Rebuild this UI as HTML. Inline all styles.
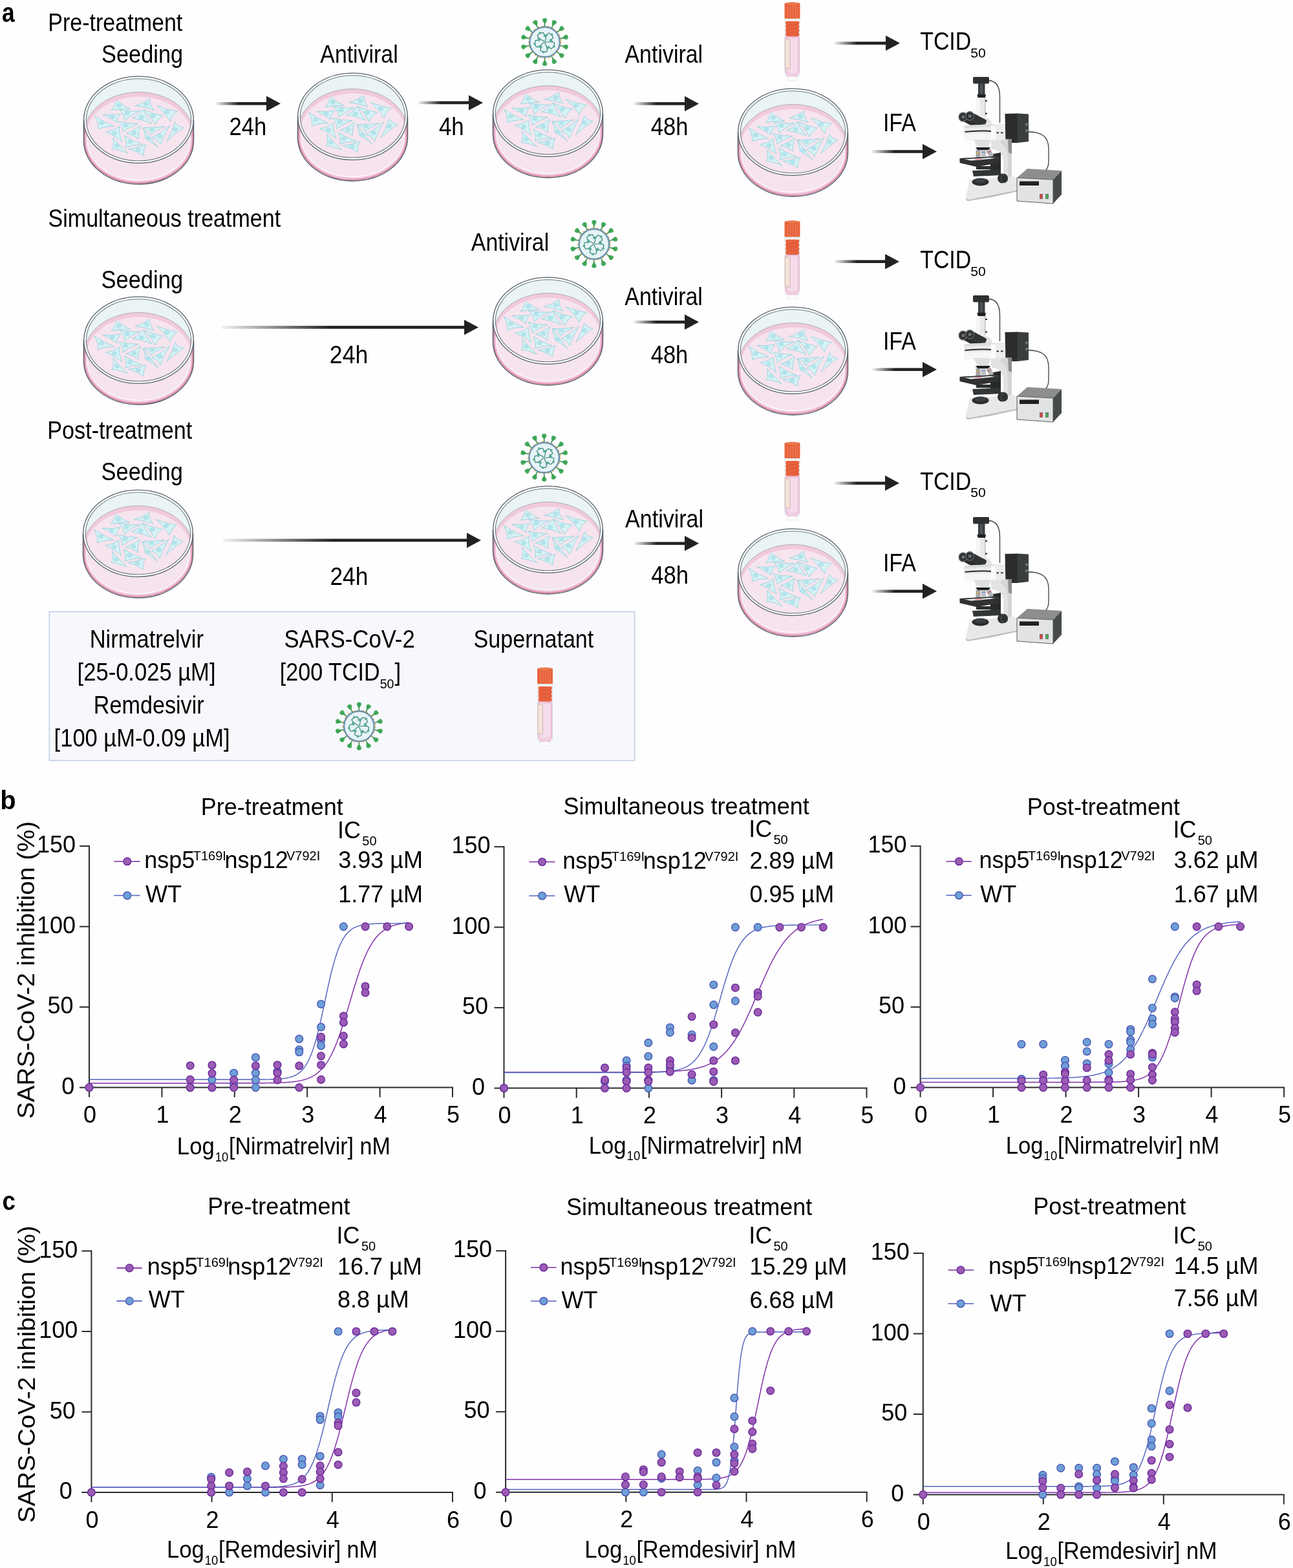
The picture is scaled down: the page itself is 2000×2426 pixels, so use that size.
<!DOCTYPE html><html><head><meta charset="utf-8"><title>Figure</title><style>html,body{margin:0;padding:0;background:#fefefe;}svg{display:block;}</style></head><body>
<svg width="2000" height="2426" viewBox="0 0 2000 2426" font-family="'Liberation Sans', Arial, Helvetica, sans-serif">
<defs>
<linearGradient id="arrg" x1="0" y1="0" x2="1" y2="0"><stop offset="0" stop-color="#222" stop-opacity="0"/><stop offset="0.3" stop-color="#222" stop-opacity="1"/><stop offset="1" stop-color="#222"/></linearGradient>
<g id="cells">
<path d="M50.6,36.8 Q59.1,45.4 72.5,51.6 Q56.8,50.5 43.0,53.7 Q50.2,46.1 50.6,36.8Z" fill="#d6f2f5" stroke="#8dd0db" stroke-width="0.8"/>
<ellipse cx="54.8" cy="46.1" rx="4.1" ry="3.5" fill="#b3e3eb"/>
<path d="M102.6,35.7 Q93.5,42.8 79.7,46.6 Q95.3,48.0 108.7,53.2 Q102.2,44.7 102.6,35.7Z" fill="#d6f2f5" stroke="#8dd0db" stroke-width="0.8"/>
<ellipse cx="97.7" cy="44.0" rx="4.1" ry="3.5" fill="#b3e3eb"/>
<path d="M113.6,46.6 Q130.1,53.6 145.3,55.4 Q136.3,60.9 134.4,70.7 Q126.8,58.2 113.6,46.6Z" fill="#d6f2f5" stroke="#8dd0db" stroke-width="0.8"/>
<ellipse cx="129.0" cy="56.3" rx="4.1" ry="3.5" fill="#b3e3eb"/>
<path d="M29.9,60.3 Q44.9,61.5 57.8,59.2 Q51.4,65.3 51.7,72.9 Q43.1,65.6 29.9,60.3Z" fill="#d6f2f5" stroke="#8dd0db" stroke-width="0.8"/>
<ellipse cx="44.5" cy="63.7" rx="4.1" ry="3.5" fill="#b3e3eb"/>
<path d="M55.6,52.6 Q70.7,55.9 87.9,54.8 Q73.4,60.9 64.3,69.6 Q63.7,60.3 55.6,52.6Z" fill="#d6f2f5" stroke="#8dd0db" stroke-width="0.8"/>
<ellipse cx="67.6" cy="58.3" rx="4.1" ry="3.5" fill="#b3e3eb"/>
<path d="M75.8,65.8 Q87.2,60.9 92.8,52.1 Q96.2,63.4 105.9,74.0 Q91.1,67.5 75.8,65.8Z" fill="#d6f2f5" stroke="#8dd0db" stroke-width="0.8"/>
<ellipse cx="89.6" cy="64.2" rx="4.1" ry="3.5" fill="#b3e3eb"/>
<path d="M93.9,52.6 Q109.0,59.8 123.4,62.0 Q114.3,66.9 111.4,76.2 Q105.4,64.1 93.9,52.6Z" fill="#d6f2f5" stroke="#8dd0db" stroke-width="0.8"/>
<ellipse cx="107.7" cy="62.3" rx="4.1" ry="3.5" fill="#b3e3eb"/>
<path d="M17.3,62.0 Q31.3,71.8 47.9,78.4 Q32.9,78.1 22.7,82.7 Q23.7,73.2 17.3,62.0Z" fill="#d6f2f5" stroke="#8dd0db" stroke-width="0.8"/>
<ellipse cx="27.9" cy="72.9" rx="4.1" ry="3.5" fill="#b3e3eb"/>
<path d="M54.5,70.7 Q68.6,74.6 85.1,74.5 Q70.6,79.5 61.0,87.1 Q61.4,78.3 54.5,70.7Z" fill="#d6f2f5" stroke="#8dd0db" stroke-width="0.8"/>
<ellipse cx="65.4" cy="76.6" rx="4.1" ry="3.5" fill="#b3e3eb"/>
<path d="M34.8,87.1 Q47.1,85.4 55.6,78.4 Q54.7,90.0 60.0,102.4 Q48.5,92.6 34.8,87.1Z" fill="#d6f2f5" stroke="#8dd0db" stroke-width="0.8"/>
<ellipse cx="48.3" cy="89.0" rx="4.1" ry="3.5" fill="#b3e3eb"/>
<path d="M66.5,89.3 Q78.5,85.3 88.4,77.3 Q84.1,87.9 85.1,98.1 Q77.5,91.5 66.5,89.3Z" fill="#d6f2f5" stroke="#8dd0db" stroke-width="0.8"/>
<ellipse cx="78.4" cy="88.3" rx="4.1" ry="3.5" fill="#b3e3eb"/>
<path d="M92.8,80.6 Q109.1,81.1 126.7,78.4 Q112.7,84.4 104.8,91.5 Q102.5,85.0 92.8,80.6Z" fill="#d6f2f5" stroke="#8dd0db" stroke-width="0.8"/>
<ellipse cx="106.3" cy="83.1" rx="4.1" ry="3.5" fill="#b3e3eb"/>
<path d="M96.1,98.1 Q96.8,92.2 91.7,80.6 Q102.7,96.2 115.8,111.2 Q104.0,101.4 96.1,98.1Z" fill="#d6f2f5" stroke="#8dd0db" stroke-width="0.8"/>
<ellipse cx="100.6" cy="96.8" rx="4.1" ry="3.5" fill="#b3e3eb"/>
<path d="M105.9,95.9 Q119.5,89.3 133.3,77.3 Q123.5,92.6 119.1,106.8 Q115.3,98.1 105.9,95.9Z" fill="#d6f2f5" stroke="#8dd0db" stroke-width="0.8"/>
<ellipse cx="117.8" cy="93.6" rx="4.1" ry="3.5" fill="#b3e3eb"/>
<path d="M142.0,71.8 Q146.0,79.5 155.2,80.6 Q142.0,88.4 128.9,101.4 Q138.1,85.8 142.0,71.8Z" fill="#d6f2f5" stroke="#8dd0db" stroke-width="0.8"/>
<ellipse cx="142.0" cy="83.0" rx="4.1" ry="3.5" fill="#b3e3eb"/>
<path d="M45.7,95.9 Q55.5,108.6 68.7,120.0 Q55.0,113.9 44.1,113.4 Q48.1,106.7 45.7,95.9Z" fill="#d6f2f5" stroke="#8dd0db" stroke-width="0.8"/>
<ellipse cx="52.0" cy="108.1" rx="4.1" ry="3.5" fill="#b3e3eb"/>
<path d="M63.2,92.6 Q75.9,101.2 91.7,106.8 Q76.5,106.8 65.4,111.2 Q68.0,102.6 63.2,92.6Z" fill="#d6f2f5" stroke="#8dd0db" stroke-width="0.8"/>
<ellipse cx="72.2" cy="102.2" rx="4.1" ry="3.5" fill="#b3e3eb"/>
<path d="M69.8,113.4 Q84.8,111.9 97.2,106.8 Q91.9,115.0 93.3,123.8 Q83.6,117.0 69.8,113.4Z" fill="#d6f2f5" stroke="#8dd0db" stroke-width="0.8"/>
<ellipse cx="84.7" cy="114.5" rx="4.1" ry="3.5" fill="#b3e3eb"/>
</g>
<clipPath id="medclip"><ellipse cx="85.5" cy="84" rx="80" ry="50"/></clipPath>
<symbol id="dish" viewBox="0 0 171 170" overflow="visible">
<path d="M 0.5,68.3 A 85,67.3 0 0 1 170.5,68.3 L 170.5,100.7 A 85,67.3 0 0 1 0.5,100.7 Z" fill="#eaf4f4"/>
<path d="M 1.5,89.5 A 84,64 0 0 1 169.5,89.5 L 169.5,100.7 A 84,66.3 0 0 1 1.5,100.7 Z" fill="#f0c9dd"/>
<ellipse cx="85.5" cy="94.0" rx="81.8" ry="61.5" fill="#f6e4ee"/>
<path d="M 1.5,89.5 A 84,64 0 0 1 169.5,89.5" fill="none" stroke="#7d868c" stroke-width="0.7" opacity="0.8"/>
<path d="M 1.7,68.3 A 83.8,66.1 0 0 0 169.3,68.3 L 169.3,100.7 A 83.8,66.1 0 0 1 1.7,100.7 Z" fill="#f5e3ee"/>
<g clip-path="url(#medclip)">
<use href="#cells"/>
</g>
<path d="M 6.0,88 L 6.0,99.60000000000001 A 79.5,61.8 0 0 0 165.0,99.60000000000001 L 165.0,88" fill="none" stroke="#ffffff" stroke-width="1.2" opacity="0.85"/>
<path d="M 3.700000000000003,84 L 3.700000000000003,100.06 A 81.8,64.1 0 0 0 167.3,100.06 L 167.3,84" fill="none" stroke="#efc5da" stroke-width="3"/>
<path d="M 2.0999999999999943,80 L 2.0999999999999943,100.38000000000001 A 83.4,65.7 0 0 0 168.9,100.38000000000001 L 168.9,80" fill="none" stroke="#d9668f" stroke-width="1.2"/>
<ellipse cx="85.5" cy="68.3" rx="83" ry="65.3" fill="none" stroke="#ffffff" stroke-width="3.2"/>
<ellipse cx="85.5" cy="68.3" rx="84.8" ry="67.1" fill="none" stroke="#56626b" stroke-width="1.3"/>
<ellipse cx="85.5" cy="68.3" rx="81.2" ry="63.5" fill="none" stroke="#6c777f" stroke-width="1.1"/>
<path d="M 0.5,68.3 L 0.5,100.7 A 85,67.3 0 0 0 170.5,100.7 L 170.5,68.3" fill="none" stroke="#4f5a62" stroke-width="1.4"/>
</symbol>
<symbol id="virus" viewBox="-40 -40 80 80" overflow="visible">
<line x1="0.00" y1="-23.50" x2="0.00" y2="-30.00" stroke="#2e8a45" stroke-width="1.5"/>
<path d="M0.00,-28.50 L2.20,-31.00 L3.60,-34.50 L2.20,-36.30 L0.00,-36.80 L-2.20,-36.30 L-3.60,-34.50 L-2.20,-31.00Z" fill="#43b05c" stroke="#2c8a44" stroke-width="0.5" stroke-linejoin="round"/>
<line x1="0.00" y1="-29.50" x2="0.00" y2="-35.50" stroke="#2a7f3e" stroke-width="0.7"/>
<line x1="10.20" y1="-21.17" x2="13.02" y2="-27.03" stroke="#2e8a45" stroke-width="1.5"/>
<path d="M12.37,-25.68 L15.43,-26.98 L18.21,-29.52 L17.73,-31.75 L15.97,-33.16 L13.77,-33.66 L11.73,-32.65 L11.47,-28.88Z" fill="#43b05c" stroke="#2c8a44" stroke-width="0.5" stroke-linejoin="round"/>
<line x1="12.80" y1="-26.58" x2="15.40" y2="-31.98" stroke="#2a7f3e" stroke-width="0.7"/>
<line x1="18.37" y1="-14.65" x2="23.45" y2="-18.70" stroke="#2e8a45" stroke-width="1.5"/>
<path d="M22.28,-17.77 L25.61,-17.61 L29.22,-18.70 L29.75,-20.91 L28.77,-22.94 L27.01,-24.35 L24.73,-24.32 L22.87,-21.05Z" fill="#43b05c" stroke="#2c8a44" stroke-width="0.5" stroke-linejoin="round"/>
<line x1="23.06" y1="-18.39" x2="27.76" y2="-22.13" stroke="#2a7f3e" stroke-width="0.7"/>
<line x1="22.91" y1="-5.23" x2="29.25" y2="-6.68" stroke="#2e8a45" stroke-width="1.5"/>
<path d="M27.79,-6.34 L30.71,-4.75 L34.44,-4.17 L35.88,-5.93 L35.88,-8.19 L34.90,-10.22 L32.83,-11.19 L29.73,-9.04Z" fill="#43b05c" stroke="#2c8a44" stroke-width="0.5" stroke-linejoin="round"/>
<line x1="28.76" y1="-6.56" x2="34.61" y2="-7.90" stroke="#2a7f3e" stroke-width="0.7"/>
<line x1="22.91" y1="5.23" x2="29.25" y2="6.68" stroke="#2e8a45" stroke-width="1.5"/>
<path d="M27.79,6.34 L29.73,9.04 L32.83,11.19 L34.90,10.22 L35.88,8.19 L35.88,5.93 L34.44,4.17 L30.71,4.75Z" fill="#43b05c" stroke="#2c8a44" stroke-width="0.5" stroke-linejoin="round"/>
<line x1="28.76" y1="6.56" x2="34.61" y2="7.90" stroke="#2a7f3e" stroke-width="0.7"/>
<line x1="18.37" y1="14.65" x2="23.45" y2="18.70" stroke="#2e8a45" stroke-width="1.5"/>
<path d="M22.28,17.77 L22.87,21.05 L24.73,24.32 L27.01,24.35 L28.77,22.94 L29.75,20.91 L29.22,18.70 L25.61,17.61Z" fill="#43b05c" stroke="#2c8a44" stroke-width="0.5" stroke-linejoin="round"/>
<line x1="23.06" y1="18.39" x2="27.76" y2="22.13" stroke="#2a7f3e" stroke-width="0.7"/>
<line x1="10.20" y1="21.17" x2="13.02" y2="27.03" stroke="#2e8a45" stroke-width="1.5"/>
<path d="M12.37,25.68 L11.47,28.88 L11.73,32.65 L13.77,33.66 L15.97,33.16 L17.73,31.75 L18.21,29.52 L15.43,26.98Z" fill="#43b05c" stroke="#2c8a44" stroke-width="0.5" stroke-linejoin="round"/>
<line x1="12.80" y1="26.58" x2="15.40" y2="31.98" stroke="#2a7f3e" stroke-width="0.7"/>
<line x1="0.00" y1="23.50" x2="0.00" y2="30.00" stroke="#2e8a45" stroke-width="1.5"/>
<path d="M0.00,28.50 L-2.20,31.00 L-3.60,34.50 L-2.20,36.30 L0.00,36.80 L2.20,36.30 L3.60,34.50 L2.20,31.00Z" fill="#43b05c" stroke="#2c8a44" stroke-width="0.5" stroke-linejoin="round"/>
<line x1="0.00" y1="29.50" x2="0.00" y2="35.50" stroke="#2a7f3e" stroke-width="0.7"/>
<line x1="-10.20" y1="21.17" x2="-13.02" y2="27.03" stroke="#2e8a45" stroke-width="1.5"/>
<path d="M-12.37,25.68 L-15.43,26.98 L-18.21,29.52 L-17.73,31.75 L-15.97,33.16 L-13.77,33.66 L-11.73,32.65 L-11.47,28.88Z" fill="#43b05c" stroke="#2c8a44" stroke-width="0.5" stroke-linejoin="round"/>
<line x1="-12.80" y1="26.58" x2="-15.40" y2="31.98" stroke="#2a7f3e" stroke-width="0.7"/>
<line x1="-18.37" y1="14.65" x2="-23.45" y2="18.70" stroke="#2e8a45" stroke-width="1.5"/>
<path d="M-22.28,17.77 L-25.61,17.61 L-29.22,18.70 L-29.75,20.91 L-28.77,22.94 L-27.01,24.35 L-24.73,24.32 L-22.87,21.05Z" fill="#43b05c" stroke="#2c8a44" stroke-width="0.5" stroke-linejoin="round"/>
<line x1="-23.06" y1="18.39" x2="-27.76" y2="22.13" stroke="#2a7f3e" stroke-width="0.7"/>
<line x1="-22.91" y1="5.23" x2="-29.25" y2="6.68" stroke="#2e8a45" stroke-width="1.5"/>
<path d="M-27.79,6.34 L-30.71,4.75 L-34.44,4.17 L-35.88,5.93 L-35.88,8.19 L-34.90,10.22 L-32.83,11.19 L-29.73,9.04Z" fill="#43b05c" stroke="#2c8a44" stroke-width="0.5" stroke-linejoin="round"/>
<line x1="-28.76" y1="6.56" x2="-34.61" y2="7.90" stroke="#2a7f3e" stroke-width="0.7"/>
<line x1="-22.91" y1="-5.23" x2="-29.25" y2="-6.68" stroke="#2e8a45" stroke-width="1.5"/>
<path d="M-27.79,-6.34 L-29.73,-9.04 L-32.83,-11.19 L-34.90,-10.22 L-35.88,-8.19 L-35.88,-5.93 L-34.44,-4.17 L-30.71,-4.75Z" fill="#43b05c" stroke="#2c8a44" stroke-width="0.5" stroke-linejoin="round"/>
<line x1="-28.76" y1="-6.56" x2="-34.61" y2="-7.90" stroke="#2a7f3e" stroke-width="0.7"/>
<line x1="-18.37" y1="-14.65" x2="-23.45" y2="-18.70" stroke="#2e8a45" stroke-width="1.5"/>
<path d="M-22.28,-17.77 L-22.87,-21.05 L-24.73,-24.32 L-27.01,-24.35 L-28.77,-22.94 L-29.75,-20.91 L-29.22,-18.70 L-25.61,-17.61Z" fill="#43b05c" stroke="#2c8a44" stroke-width="0.5" stroke-linejoin="round"/>
<line x1="-23.06" y1="-18.39" x2="-27.76" y2="-22.13" stroke="#2a7f3e" stroke-width="0.7"/>
<line x1="-10.20" y1="-21.17" x2="-13.02" y2="-27.03" stroke="#2e8a45" stroke-width="1.5"/>
<path d="M-12.37,-25.68 L-11.47,-28.88 L-11.73,-32.65 L-13.77,-33.66 L-15.97,-33.16 L-17.73,-31.75 L-18.21,-29.52 L-15.43,-26.98Z" fill="#43b05c" stroke="#2c8a44" stroke-width="0.5" stroke-linejoin="round"/>
<line x1="-12.80" y1="-26.58" x2="-15.40" y2="-31.98" stroke="#2a7f3e" stroke-width="0.7"/>
<circle cx="0" cy="0" r="23.3" fill="#e6f3f7" stroke="#6893b2" stroke-width="2.4"/>
<circle cx="0" cy="0" r="24.8" fill="none" stroke="#d99a3c" stroke-width="1.3" stroke-dasharray="3 4.5"/>
<g fill="none" stroke="#2f7c6c" stroke-width="1.1" stroke-linejoin="round">
<path d="M-0.40,-0.69 L-4.17,-2.99 L-9.00,-5.35 L-11.36,-10.17 L-7.49,-13.90 L-2.15,-14.46 L0.03,-9.56"/>
<path d="M0.54,-0.59 L1.55,-4.89 L2.30,-10.21 L6.16,-13.94 L10.90,-11.42 L13.09,-6.51 L9.10,-2.92"/>
<path d="M0.73,0.33 L5.13,-0.04 L10.42,-0.96 L15.16,1.55 L14.23,6.84 L10.24,10.44 L5.59,7.75"/>
<path d="M-0.08,0.80 L1.62,4.87 L4.14,9.61 L3.21,14.90 L-2.11,15.65 L-6.76,12.96 L-5.64,7.71"/>
<path d="M-0.78,0.17 L-4.13,3.05 L-7.86,6.91 L-13.18,7.66 L-15.53,2.83 L-14.42,-2.42 L-9.08,-2.98"/>
</g>
<g fill="#5fc0a5" stroke="#2f7c6c" stroke-width="0.5">
<circle cx="-9.00" cy="-5.35" r="1.5"/>
<circle cx="-7.49" cy="-13.90" r="1.5"/>
<circle cx="0.03" cy="-9.56" r="1.5"/>
<circle cx="2.30" cy="-10.21" r="1.5"/>
<circle cx="10.90" cy="-11.42" r="1.5"/>
<circle cx="9.10" cy="-2.92" r="1.5"/>
<circle cx="10.42" cy="-0.96" r="1.5"/>
<circle cx="14.23" cy="6.84" r="1.5"/>
<circle cx="5.59" cy="7.75" r="1.5"/>
<circle cx="4.14" cy="9.61" r="1.5"/>
<circle cx="-2.11" cy="15.65" r="1.5"/>
<circle cx="-5.64" cy="7.71" r="1.5"/>
<circle cx="-7.86" cy="6.91" r="1.5"/>
<circle cx="-15.53" cy="2.83" r="1.5"/>
<circle cx="-9.08" cy="-2.98" r="1.5"/>
</g>
</symbol>
<symbol id="tube" viewBox="0 0 24 124" overflow="visible">
<path d="M0.5,27 L0.5,112 Q0.5,116 2,116 L22,116 Q23.5,116 23.5,112 L23.5,27" fill="#ffffff" stroke="#cfd9dc" stroke-width="0.8"/>
<path d="M1.5,55 L22.5,55 L22.5,108 Q22.5,117 12,118 Q1.5,117 1.5,108 Z" fill="#f0cfe3" stroke="#dc9cc0" stroke-width="0.8"/>
<path d="M5,58 L20,58 L20,104 Q20,111 12.5,111 Q5,111 5,104 Z" fill="#f5dcea"/>
<path d="M0.8,58 L8.5,60 L8.5,105 L0.8,103 Z" fill="#f4e3da" stroke="#b89c90" stroke-width="0.6"/>
<path d="M4,117 L4,123 L20,123 L20,117" fill="#fbfbfb" stroke="#d8dfe2" stroke-width="0.6"/>
<rect x="2.3" y="31" width="19.6" height="23.5" rx="2.5" fill="#e8623f"/>
<ellipse cx="21.3" cy="33.5" rx="1.6" ry="2.6" fill="#e8623f"/><ellipse cx="2.8" cy="33.5" rx="1.2" ry="2.6" fill="#e8623f"/>
<ellipse cx="21.3" cy="39.5" rx="1.6" ry="2.6" fill="#e8623f"/><ellipse cx="2.8" cy="39.5" rx="1.2" ry="2.6" fill="#e8623f"/>
<ellipse cx="21.3" cy="45.5" rx="1.6" ry="2.6" fill="#e8623f"/><ellipse cx="2.8" cy="45.5" rx="1.2" ry="2.6" fill="#e8623f"/>
<ellipse cx="21.3" cy="51.5" rx="1.6" ry="2.6" fill="#e8623f"/><ellipse cx="2.8" cy="51.5" rx="1.2" ry="2.6" fill="#e8623f"/>
<path d="M3.5,37.5 L21,36.0" stroke="#d4502f" stroke-width="0.7"/>
<path d="M3.5,43.5 L21,42.0" stroke="#d4502f" stroke-width="0.7"/>
<path d="M3.5,49.5 L21,48.0" stroke="#d4502f" stroke-width="0.7"/>
<rect x="0.5" y="27" width="23" height="2.5" fill="#e3eef0"/>
<rect x="0" y="3" width="24" height="24" rx="1.5" fill="#e8643f"/>
<ellipse cx="12" cy="4.3" rx="11.2" ry="2.2" fill="#f07a4a" stroke="#d8552f" stroke-width="0.6"/>
<g stroke="#f28a63" stroke-width="0.6"><line x1="5" y1="7" x2="5" y2="26"/><line x1="9" y1="7" x2="9" y2="26"/><line x1="13" y1="7" x2="13" y2="26"/><line x1="17" y1="7" x2="17" y2="26"/><line x1="20" y1="7" x2="20" y2="26"/></g>
</symbol>
<symbol id="scope" viewBox="0 0 162 198" overflow="visible">
<path d="M47,6.5 C60,7 64.5,18 64.5,32 L64.5,72" fill="none" stroke="#3a3d3f" stroke-width="1.3"/>
<path d="M108,86 C128,86 140,92 140,112 L140,132 C140,140 138,143 135,146" fill="none" stroke="#3a3d3f" stroke-width="1.3"/>
<rect x="23" y="1" width="25" height="10.5" rx="2" fill="#2e3031"/>
<rect x="31" y="11" width="10.5" height="17" fill="#3b3e40"/>
<rect x="34" y="12" width="4" height="15" fill="#505456"/>
<path d="M29.5,28 L43,28 L42,33 L30.5,33 Z" fill="#1e1f20"/>
<rect x="28.7" y="33" width="14.3" height="29" fill="#e9e9e9"/>
<rect x="29.5" y="33" width="4" height="29" fill="#f7f7f7"/>
<rect x="40.5" y="33" width="2.5" height="29" fill="#d2d2d2"/>
<rect x="42" y="37" width="3" height="2.2" rx="1" fill="#222"/><rect x="42" y="56.5" width="3" height="2.2" rx="1" fill="#222"/>
<path d="M30,70 L40,62 L50,67 L54,77 L54,84 L28,84 Z" fill="#e4e4e4"/>
<g transform="rotate(28 9 63)"><rect x="5" y="56.5" width="30" height="13" rx="3" fill="#2b2d2e"/></g>
<g transform="rotate(28 19 62)"><rect x="15" y="55.5" width="30" height="13" rx="3" fill="#323536"/></g>
<ellipse cx="7.5" cy="63" rx="6.2" ry="6.6" fill="#2b2d2e" stroke="#5a5d5f" stroke-width="1.6"/>
<ellipse cx="7.8" cy="63" rx="2.6" ry="2.8" fill="#6b6e70"/>
<ellipse cx="18" cy="61.5" rx="6.2" ry="6.6" fill="#2b2d2e" stroke="#5a5d5f" stroke-width="1.6"/>
<ellipse cx="18.3" cy="61.5" rx="2.6" ry="2.8" fill="#6b6e70"/>
<path d="M9,79 Q9,76 14,76 L52,74 L83,74 L83,98 L58,100 L12,100 Q9,100 9,97 Z" fill="#ececec"/>
<path d="M9,79 Q10,76 14,76 L52,74 L56,78 L12,80 Z" fill="#dcdcdc"/>
<path d="M9,89 L51,89 L51,99 L12,100 Q9,100 9,97 Z" fill="#f6f6f6"/>
<path d="M51,76 L58,78 L58,100 L51,99 Z" fill="#fafafa"/>
<path d="M10.5,86 Q30,83.5 51,85" fill="none" stroke="#2a2a2a" stroke-width="2"/>
<rect x="59.5" y="86.5" width="3.5" height="1.8" fill="#222"/><rect x="66" y="86.5" width="3.5" height="1.8" fill="#222"/>
<rect x="80" y="74" width="6" height="22" rx="3" fill="#3b3e3f"/>
<path d="M72.5,58 L92,57.5 L92,103 L73.5,103 Z" fill="#2a2c2d"/>
<path d="M91.5,57.5 L109,58.5 L109,101 L91.5,103 Z" fill="#3b3e3f"/>
<circle cx="106" cy="74.5" r="2.3" fill="#707375"/><circle cx="106" cy="84" r="2.3" fill="#707375"/>
<path d="M50,99 L83,97 L83,158 L70,160 L70,132 C70,120 64,114 52,113 Z" fill="#e3e3e3"/>
<path d="M66,99 L83,97 L83,158 L77,159 L77,130 C77,116 73,106 66,104 Z" fill="#d5d5d5"/>
<path d="M77,97 L83,97 L83,120 L78,118 Z" fill="#8e8e8e"/>
<path d="M50,121 L66,118 L66,146 L50,146 Z" fill="#27292a"/>
<path d="M24,98 L50,98 L47,110 L30,110 Z" fill="#e0e0e0"/>
<path d="M27,110 L50,110 L47,114 L30,114 Z" fill="#1f2021"/>
<rect x="27.5" y="114" width="7" height="12" fill="#a3a5a7"/><rect x="28" y="118" width="6" height="1.2" fill="#d9a441"/>
<rect x="35.5" y="114" width="7.5" height="13" fill="#c0c2c4"/><rect x="36" y="117" width="6.5" height="1.2" fill="#6d8ed8"/>
<g transform="rotate(-28 46 114)"><rect x="43" y="114" width="7" height="12" fill="#b0b2b4"/><rect x="43.5" y="117" width="6" height="1.2" fill="#d05b5b"/></g>
<path d="M2.5,127 L56,124 L65.5,126 L65.5,134 L28,140 L2.5,134 Z" fill="#2f3132"/>
<path d="M2.5,127 L56,124 L65.5,126 L28,131 Z" fill="#3d4042"/>
<path d="M10,128.5 L50,126 L57,127 L20,130.5 Z" fill="#f4f4f4"/>
<rect x="26" y="127.3" width="11" height="2.2" fill="#e79aa8"/>
<rect x="28" y="139" width="26" height="5" fill="#2b2d2e"/>
<path d="M22,146 L66,144 L66,153 L24,155 Z" fill="#333637"/>
<path d="M18,160 L86,155 L93,160 L93,176 L52,184 L16,191 Q11,192 12,187 Z" fill="#e8e8e8"/>
<path d="M16,191 L52,184 L93,176 L93,178 L52,187 L16,193 Q12,193 12,189 Z" fill="#bdbdbd"/>
<ellipse cx="34.5" cy="163.5" rx="13" ry="6" fill="#2b2d2e"/>
<ellipse cx="34.5" cy="161.5" rx="9" ry="3.5" fill="#3d4042"/>
<ellipse cx="68" cy="158" rx="7" ry="7.5" fill="#2d2f30"/><ellipse cx="71" cy="158" rx="6.2" ry="7.2" fill="#3c3f40"/><ellipse cx="72" cy="158" rx="4" ry="5.5" fill="#2f3233"/>
<path d="M91,157 L107,143 L160,146 L147,160 Z" fill="#8c8e8f"/>
<path d="M147,160 L160,146 L160,183 L147,197 Z" fill="#474a4b"/>
<path d="M91,157 L147,160 L147,197 L91,193 Z" fill="#e2e3e4" stroke="#4b4d4e" stroke-width="0.9"/>
<rect x="95" y="162.5" width="30" height="6.5" fill="#1f2021"/>
<rect x="126.5" y="182.5" width="4.2" height="7" fill="#d94848" stroke="#3a3a3a" stroke-width="0.5"/>
<rect x="135.5" y="182.5" width="4.2" height="7" fill="#43ad5a" stroke="#3a3a3a" stroke-width="0.5"/>
</symbol>
</defs>
<rect width="2000" height="2426" fill="#fefefe"/>
<g id="panel-a">
<text x="3.0" y="34.0" font-size="42" font-weight="bold" textLength="19.6" lengthAdjust="spacingAndGlyphs">a</text>
<text x="74.3" y="47.6" font-size="37.9" textLength="208.0" lengthAdjust="spacingAndGlyphs">Pre-treatment</text>
<text x="74.5" y="351.1" font-size="37.9" textLength="359.7" lengthAdjust="spacingAndGlyphs">Simultaneous treatment</text>
<text x="73.3" y="679.2" font-size="37.9" textLength="224.0" lengthAdjust="spacingAndGlyphs">Post-treatment</text>
<text x="157.1" y="96.8" font-size="37.9" textLength="126.0" lengthAdjust="spacingAndGlyphs">Seeding</text>
<text x="495.3" y="96.8" font-size="37.9" textLength="120.4" lengthAdjust="spacingAndGlyphs">Antiviral</text>
<text x="966.5" y="97.0" font-size="37.9" textLength="120.6" lengthAdjust="spacingAndGlyphs">Antiviral</text>
<text x="354.5" y="208.6" font-size="37.9" textLength="57.9" lengthAdjust="spacingAndGlyphs">24h</text>
<text x="678.9" y="208.6" font-size="37.9" textLength="38.7" lengthAdjust="spacingAndGlyphs">4h</text>
<text x="1006.7" y="208.8" font-size="37.9" textLength="57.7" lengthAdjust="spacingAndGlyphs">48h</text>
<text x="156.4" y="446.3" font-size="37.9" textLength="126.8" lengthAdjust="spacingAndGlyphs">Seeding</text>
<text x="728.8" y="388.0" font-size="37.9" textLength="120.4" lengthAdjust="spacingAndGlyphs">Antiviral</text>
<text x="966.3" y="471.5" font-size="37.9" textLength="120.6" lengthAdjust="spacingAndGlyphs">Antiviral</text>
<text x="509.8" y="562.0" font-size="37.9" textLength="59.5" lengthAdjust="spacingAndGlyphs">24h</text>
<text x="1006.7" y="562.3" font-size="37.9" textLength="57.6" lengthAdjust="spacingAndGlyphs">48h</text>
<text x="156.5" y="742.5" font-size="37.9" textLength="126.4" lengthAdjust="spacingAndGlyphs">Seeding</text>
<text x="967.1" y="816.3" font-size="37.9" textLength="121.0" lengthAdjust="spacingAndGlyphs">Antiviral</text>
<text x="510.4" y="905.0" font-size="37.9" textLength="59.0" lengthAdjust="spacingAndGlyphs">24h</text>
<text x="1007.2" y="903.0" font-size="37.9" textLength="57.8" lengthAdjust="spacingAndGlyphs">48h</text>
<text x="1423.3" y="77.4" font-size="37.9" textLength="78.9" lengthAdjust="spacingAndGlyphs">TCID</text>
<text x="1501.2" y="88.7" font-size="20" textLength="23.5" lengthAdjust="spacingAndGlyphs">50</text>
<text x="1365.9" y="203.2" font-size="37.9" textLength="50.9" lengthAdjust="spacingAndGlyphs">IFA</text>
<text x="1423.3" y="415.4" font-size="37.9" textLength="78.9" lengthAdjust="spacingAndGlyphs">TCID</text>
<text x="1501.2" y="426.7" font-size="20" textLength="23.5" lengthAdjust="spacingAndGlyphs">50</text>
<text x="1365.9" y="541.2" font-size="37.9" textLength="50.9" lengthAdjust="spacingAndGlyphs">IFA</text>
<text x="1423.3" y="758.0" font-size="37.9" textLength="78.9" lengthAdjust="spacingAndGlyphs">TCID</text>
<text x="1501.2" y="769.3" font-size="20" textLength="23.5" lengthAdjust="spacingAndGlyphs">50</text>
<text x="1365.9" y="883.8" font-size="37.9" textLength="50.9" lengthAdjust="spacingAndGlyphs">IFA</text>
<use href="#dish" x="129" y="117" width="171" height="170"/>
<use href="#dish" x="460" y="112" width="171" height="170"/>
<use href="#dish" x="762" y="107" width="171" height="170"/>
<use href="#dish" x="1141" y="136" width="171" height="170"/>
<use href="#dish" x="129" y="458" width="171" height="170"/>
<use href="#dish" x="762" y="428" width="171" height="170"/>
<use href="#dish" x="1141" y="474" width="171" height="170"/>
<use href="#dish" x="128" y="757" width="171" height="170"/>
<use href="#dish" x="762" y="751" width="171" height="170"/>
<use href="#dish" x="1141" y="817" width="171" height="170"/>
<use href="#virus" x="802.6" y="25.0" width="80.0" height="80.0"/>
<use href="#virus" x="878.9" y="337.6" width="80.0" height="80.0"/>
<use href="#virus" x="801.7" y="668.0" width="80.0" height="80.0"/>
<use href="#tube" x="1213.5" y="1.7" width="24" height="124"/>
<use href="#tube" x="1213.5" y="339.5" width="24" height="124"/>
<use href="#tube" x="1213.5" y="682" width="24" height="124"/>
<use href="#scope" x="1482" y="118" width="162" height="198"/>
<use href="#scope" x="1482" y="456" width="162" height="198"/>
<use href="#scope" x="1482" y="799" width="162" height="198"/>
<linearGradient id="ag60" gradientUnits="userSpaceOnUse" x1="334" y1="0" x2="412" y2="0"><stop offset="0" stop-color="#222" stop-opacity="0.05"/><stop offset="0.45" stop-color="#222" stop-opacity="1"/><stop offset="1" stop-color="#222"/></linearGradient>
<rect x="334" y="158.0" width="79" height="4.6" fill="url(#ag60)"/>
<path d="M412,148.55 L434,160.3 L412,172.05 Z" fill="#222"/>
<linearGradient id="ag63" gradientUnits="userSpaceOnUse" x1="647" y1="0" x2="725" y2="0"><stop offset="0" stop-color="#222" stop-opacity="0.05"/><stop offset="0.45" stop-color="#222" stop-opacity="1"/><stop offset="1" stop-color="#222"/></linearGradient>
<rect x="647" y="156.6" width="79" height="4.6" fill="url(#ag63)"/>
<path d="M725,147.15 L747,158.9 L725,170.65 Z" fill="#222"/>
<linearGradient id="ag66" gradientUnits="userSpaceOnUse" x1="980" y1="0" x2="1059" y2="0"><stop offset="0" stop-color="#222" stop-opacity="0.05"/><stop offset="0.45" stop-color="#222" stop-opacity="1"/><stop offset="1" stop-color="#222"/></linearGradient>
<rect x="980" y="158.1" width="80" height="4.6" fill="url(#ag66)"/>
<path d="M1059,148.65 L1081,160.4 L1059,172.15 Z" fill="#222"/>
<linearGradient id="ag69" gradientUnits="userSpaceOnUse" x1="1290" y1="0" x2="1370" y2="0"><stop offset="0" stop-color="#222" stop-opacity="0.05"/><stop offset="0.45" stop-color="#222" stop-opacity="1"/><stop offset="1" stop-color="#222"/></linearGradient>
<rect x="1290" y="64.5" width="81" height="4.6" fill="url(#ag69)"/>
<path d="M1370,55.05 L1392,66.8 L1370,78.55 Z" fill="#222"/>
<linearGradient id="ag72" gradientUnits="userSpaceOnUse" x1="1348" y1="0" x2="1427" y2="0"><stop offset="0" stop-color="#222" stop-opacity="0.05"/><stop offset="0.45" stop-color="#222" stop-opacity="1"/><stop offset="1" stop-color="#222"/></linearGradient>
<rect x="1348" y="232.2" width="80" height="4.6" fill="url(#ag72)"/>
<path d="M1427,222.75 L1449,234.5 L1427,246.25 Z" fill="#222"/>
<linearGradient id="ag75" gradientUnits="userSpaceOnUse" x1="342" y1="0" x2="718" y2="0"><stop offset="0" stop-color="#222" stop-opacity="0.05"/><stop offset="0.45" stop-color="#222" stop-opacity="1"/><stop offset="1" stop-color="#222"/></linearGradient>
<rect x="342" y="504.09999999999997" width="377" height="4.6" fill="url(#ag75)"/>
<path d="M718,494.65 L740,506.4 L718,518.15 Z" fill="#222"/>
<linearGradient id="ag78" gradientUnits="userSpaceOnUse" x1="980" y1="0" x2="1059" y2="0"><stop offset="0" stop-color="#222" stop-opacity="0.05"/><stop offset="0.45" stop-color="#222" stop-opacity="1"/><stop offset="1" stop-color="#222"/></linearGradient>
<rect x="980" y="496.0" width="80" height="4.6" fill="url(#ag78)"/>
<path d="M1059,486.55 L1081,498.3 L1059,510.05 Z" fill="#222"/>
<linearGradient id="ag81" gradientUnits="userSpaceOnUse" x1="1291" y1="0" x2="1369" y2="0"><stop offset="0" stop-color="#222" stop-opacity="0.05"/><stop offset="0.45" stop-color="#222" stop-opacity="1"/><stop offset="1" stop-color="#222"/></linearGradient>
<rect x="1291" y="402.4" width="79" height="4.6" fill="url(#ag81)"/>
<path d="M1369,392.95 L1391,404.7 L1369,416.45 Z" fill="#222"/>
<linearGradient id="ag84" gradientUnits="userSpaceOnUse" x1="1349" y1="0" x2="1427" y2="0"><stop offset="0" stop-color="#222" stop-opacity="0.05"/><stop offset="0.45" stop-color="#222" stop-opacity="1"/><stop offset="1" stop-color="#222"/></linearGradient>
<rect x="1349" y="569.4000000000001" width="79" height="4.6" fill="url(#ag84)"/>
<path d="M1427,559.95 L1449,571.7 L1427,583.45 Z" fill="#222"/>
<linearGradient id="ag87" gradientUnits="userSpaceOnUse" x1="345" y1="0" x2="722" y2="0"><stop offset="0" stop-color="#222" stop-opacity="0.05"/><stop offset="0.45" stop-color="#222" stop-opacity="1"/><stop offset="1" stop-color="#222"/></linearGradient>
<rect x="345" y="833.6" width="378" height="4.6" fill="url(#ag87)"/>
<path d="M722,824.15 L744,835.9 L722,847.65 Z" fill="#222"/>
<linearGradient id="ag90" gradientUnits="userSpaceOnUse" x1="981" y1="0" x2="1059" y2="0"><stop offset="0" stop-color="#222" stop-opacity="0.05"/><stop offset="0.45" stop-color="#222" stop-opacity="1"/><stop offset="1" stop-color="#222"/></linearGradient>
<rect x="981" y="838.5" width="79" height="4.6" fill="url(#ag90)"/>
<path d="M1059,829.05 L1081,840.8 L1059,852.55 Z" fill="#222"/>
<linearGradient id="ag93" gradientUnits="userSpaceOnUse" x1="1290" y1="0" x2="1369" y2="0"><stop offset="0" stop-color="#222" stop-opacity="0.05"/><stop offset="0.45" stop-color="#222" stop-opacity="1"/><stop offset="1" stop-color="#222"/></linearGradient>
<rect x="1290" y="745.3000000000001" width="80" height="4.6" fill="url(#ag93)"/>
<path d="M1369,735.85 L1391,747.6 L1369,759.35 Z" fill="#222"/>
<linearGradient id="ag96" gradientUnits="userSpaceOnUse" x1="1349" y1="0" x2="1427" y2="0"><stop offset="0" stop-color="#222" stop-opacity="0.05"/><stop offset="0.45" stop-color="#222" stop-opacity="1"/><stop offset="1" stop-color="#222"/></linearGradient>
<rect x="1349" y="912.5" width="79" height="4.6" fill="url(#ag96)"/>
<path d="M1427,903.05 L1449,914.8 L1427,926.55 Z" fill="#222"/>
<rect x="76.5" y="946.5" width="905" height="230" fill="#f7f8fc" stroke="#c6d2e8" stroke-width="2"/><rect x="78.3" y="948.3" width="901.4" height="226.4" fill="none" stroke="#ffffff" stroke-width="1"/>
<text x="138.7" y="1002.0" font-size="37.9" textLength="176.3" lengthAdjust="spacingAndGlyphs">Nirmatrelvir</text>
<text x="119.6" y="1053.0" font-size="37.9" textLength="213.9" lengthAdjust="spacingAndGlyphs">[25-0.025 µM]</text>
<text x="144.8" y="1104.0" font-size="37.9" textLength="170.8" lengthAdjust="spacingAndGlyphs">Remdesivir</text>
<text x="83.6" y="1155.0" font-size="37.9" textLength="271.9" lengthAdjust="spacingAndGlyphs">[100 µM-0.09 µM]</text>
<text x="439.4" y="1002.0" font-size="37.9" textLength="202.3" lengthAdjust="spacingAndGlyphs">SARS-CoV-2</text>
<text x="432.8" y="1053.2" font-size="37.9" textLength="154.9" lengthAdjust="spacingAndGlyphs">[200 TCID</text>
<text x="587.7" y="1065.0" font-size="20.5" textLength="21.8" lengthAdjust="spacingAndGlyphs">50</text>
<text x="610.5" y="1053.2" font-size="37.9" textLength="9.7" lengthAdjust="spacingAndGlyphs">]</text>
<text x="732.5" y="1002.0" font-size="37.9" textLength="185.8" lengthAdjust="spacingAndGlyphs">Supernatant</text>
<use href="#virus" x="515.4" y="1083.6" width="80.0" height="80.0"/>
<use href="#tube" x="831" y="1031" width="24" height="124"/>
</g>
<g id="panel-b">
<text x="0.2" y="1251.8" font-size="40" font-weight="bold" textLength="24.4" lengthAdjust="spacingAndGlyphs">b</text>
<g stroke="#2b2b2b" stroke-width="2" fill="none">
<path d="M138,1308.1 L138,1682.6 L701.0,1682.6"/>
<path d="M123,1682.6 L138,1682.6"/>
<path d="M123,1558.1 L138,1558.1"/>
<path d="M123,1433.6 L138,1433.6"/>
<path d="M123,1309.1 L138,1309.1"/>
<path d="M138.0,1682.6 L138.0,1697.6"/>
<path d="M250.4,1682.6 L250.4,1697.6"/>
<path d="M362.8,1682.6 L362.8,1697.6"/>
<path d="M475.2,1682.6 L475.2,1697.6"/>
<path d="M587.6,1682.6 L587.6,1697.6"/>
<path d="M700.0,1682.6 L700.0,1697.6"/>
</g>
<text x="115.4" y="1692.7" font-size="36" text-anchor="end">0</text>
<text x="113.5" y="1568.2" font-size="36" text-anchor="end">50</text>
<text x="117.0" y="1443.7" font-size="36" text-anchor="end">100</text>
<text x="117.0" y="1319.2" font-size="36" text-anchor="end">150</text>
<text x="139.0" y="1737.1" font-size="36" text-anchor="middle">0</text>
<text x="251.4" y="1737.1" font-size="36" text-anchor="middle">1</text>
<text x="363.8" y="1737.1" font-size="36" text-anchor="middle">2</text>
<text x="476.2" y="1737.1" font-size="36" text-anchor="middle">3</text>
<text x="588.6" y="1737.1" font-size="36" text-anchor="middle">4</text>
<text x="701.0" y="1737.1" font-size="36" text-anchor="middle">5</text>
<polyline points="138.0,1675.9 139.0,1675.9 140.0,1675.9 141.0,1675.9 142.0,1675.9 143.0,1675.9 143.9,1675.9 144.9,1675.9 145.9,1675.9 146.9,1675.9 147.9,1675.9 148.9,1675.9 149.9,1675.9 150.9,1675.9 151.9,1675.9 152.9,1675.9 153.9,1675.9 154.8,1675.9 155.8,1675.9 156.8,1675.9 157.8,1675.9 158.8,1675.9 159.8,1675.9 160.8,1675.9 161.8,1675.9 162.8,1675.9 163.8,1675.9 164.8,1675.9 165.8,1675.9 166.7,1675.9 167.7,1675.9 168.7,1675.9 169.7,1675.9 170.7,1675.9 171.7,1675.9 172.7,1675.9 173.7,1675.9 174.7,1675.9 175.7,1675.9 176.7,1675.9 177.6,1675.9 178.6,1675.9 179.6,1675.9 180.6,1675.9 181.6,1675.9 182.6,1675.9 183.6,1675.9 184.6,1675.9 185.6,1675.9 186.6,1675.9 187.6,1675.9 188.5,1675.9 189.5,1675.9 190.5,1675.9 191.5,1675.9 192.5,1675.9 193.5,1675.9 194.5,1675.9 195.5,1675.9 196.5,1675.9 197.5,1675.9 198.5,1675.9 199.4,1675.9 200.4,1675.9 201.4,1675.9 202.4,1675.9 203.4,1675.9 204.4,1675.9 205.4,1675.9 206.4,1675.9 207.4,1675.9 208.4,1675.9 209.4,1675.9 210.4,1675.9 211.3,1675.9 212.3,1675.9 213.3,1675.9 214.3,1675.9 215.3,1675.9 216.3,1675.9 217.3,1675.9 218.3,1675.9 219.3,1675.9 220.3,1675.9 221.3,1675.9 222.2,1675.9 223.2,1675.9 224.2,1675.9 225.2,1675.9 226.2,1675.9 227.2,1675.9 228.2,1675.9 229.2,1675.9 230.2,1675.9 231.2,1675.9 232.2,1675.9 233.1,1675.9 234.1,1675.9 235.1,1675.9 236.1,1675.9 237.1,1675.9 238.1,1675.9 239.1,1675.9 240.1,1675.9 241.1,1675.9 242.1,1675.9 243.1,1675.9 244.0,1675.9 245.0,1675.9 246.0,1675.9 247.0,1675.9 248.0,1675.9 249.0,1675.9 250.0,1675.9 251.0,1675.9 252.0,1675.9 253.0,1675.9 254.0,1675.9 255.0,1675.9 255.9,1675.9 256.9,1675.9 257.9,1675.9 258.9,1675.9 259.9,1675.9 260.9,1675.9 261.9,1675.9 262.9,1675.9 263.9,1675.9 264.9,1675.9 265.9,1675.9 266.8,1675.9 267.8,1675.9 268.8,1675.9 269.8,1675.9 270.8,1675.9 271.8,1675.9 272.8,1675.9 273.8,1675.9 274.8,1675.9 275.8,1675.9 276.8,1675.9 277.7,1675.9 278.7,1675.9 279.7,1675.9 280.7,1675.9 281.7,1675.9 282.7,1675.9 283.7,1675.9 284.7,1675.9 285.7,1675.9 286.7,1675.9 287.7,1675.9 288.6,1675.9 289.6,1675.9 290.6,1675.9 291.6,1675.9 292.6,1675.9 293.6,1675.9 294.6,1675.9 295.6,1675.9 296.6,1675.9 297.6,1675.9 298.6,1675.9 299.5,1675.9 300.5,1675.9 301.5,1675.9 302.5,1675.9 303.5,1675.9 304.5,1675.9 305.5,1675.9 306.5,1675.9 307.5,1675.9 308.5,1675.9 309.5,1675.9 310.5,1675.9 311.4,1675.9 312.4,1675.9 313.4,1675.9 314.4,1675.9 315.4,1675.9 316.4,1675.9 317.4,1675.9 318.4,1675.9 319.4,1675.9 320.4,1675.9 321.4,1675.9 322.3,1675.9 323.3,1675.9 324.3,1675.9 325.3,1675.9 326.3,1675.8 327.3,1675.8 328.3,1675.8 329.3,1675.8 330.3,1675.8 331.3,1675.8 332.3,1675.8 333.2,1675.8 334.2,1675.8 335.2,1675.8 336.2,1675.8 337.2,1675.8 338.2,1675.8 339.2,1675.8 340.2,1675.8 341.2,1675.8 342.2,1675.8 343.2,1675.8 344.1,1675.8 345.1,1675.8 346.1,1675.8 347.1,1675.8 348.1,1675.8 349.1,1675.8 350.1,1675.8 351.1,1675.8 352.1,1675.8 353.1,1675.8 354.1,1675.8 355.1,1675.8 356.0,1675.8 357.0,1675.8 358.0,1675.8 359.0,1675.8 360.0,1675.8 361.0,1675.8 362.0,1675.8 363.0,1675.8 364.0,1675.8 365.0,1675.8 366.0,1675.8 366.9,1675.8 367.9,1675.8 368.9,1675.8 369.9,1675.8 370.9,1675.8 371.9,1675.8 372.9,1675.8 373.9,1675.8 374.9,1675.8 375.9,1675.8 376.9,1675.8 377.8,1675.8 378.8,1675.8 379.8,1675.8 380.8,1675.8 381.8,1675.8 382.8,1675.8 383.8,1675.8 384.8,1675.8 385.8,1675.8 386.8,1675.8 387.8,1675.8 388.7,1675.8 389.7,1675.8 390.7,1675.8 391.7,1675.8 392.7,1675.8 393.7,1675.8 394.7,1675.8 395.7,1675.8 396.7,1675.8 397.7,1675.7 398.7,1675.7 399.7,1675.7 400.6,1675.7 401.6,1675.7 402.6,1675.7 403.6,1675.7 404.6,1675.7 405.6,1675.7 406.6,1675.7 407.6,1675.7 408.6,1675.7 409.6,1675.7 410.6,1675.6 411.5,1675.6 412.5,1675.6 413.5,1675.6 414.5,1675.6 415.5,1675.6 416.5,1675.6 417.5,1675.5 418.5,1675.5 419.5,1675.5 420.5,1675.5 421.5,1675.5 422.4,1675.5 423.4,1675.4 424.4,1675.4 425.4,1675.4 426.4,1675.4 427.4,1675.3 428.4,1675.3 429.4,1675.3 430.4,1675.2 431.4,1675.2 432.4,1675.2 433.3,1675.1 434.3,1675.1 435.3,1675.0 436.3,1675.0 437.3,1675.0 438.3,1674.9 439.3,1674.9 440.3,1674.8 441.3,1674.7 442.3,1674.7 443.3,1674.6 444.3,1674.5 445.2,1674.5 446.2,1674.4 447.2,1674.3 448.2,1674.2 449.2,1674.1 450.2,1674.1 451.2,1674.0 452.2,1673.9 453.2,1673.7 454.2,1673.6 455.2,1673.5 456.1,1673.4 457.1,1673.2 458.1,1673.1 459.1,1672.9 460.1,1672.8 461.1,1672.6 462.1,1672.4 463.1,1672.3 464.1,1672.1 465.1,1671.9 466.1,1671.6 467.0,1671.4 468.0,1671.2 469.0,1670.9 470.0,1670.7 471.0,1670.4 472.0,1670.1 473.0,1669.8 474.0,1669.4 475.0,1669.1 476.0,1668.7 477.0,1668.3 477.9,1667.9 478.9,1667.5 479.9,1667.1 480.9,1666.6 481.9,1666.1 482.9,1665.6 483.9,1665.1 484.9,1664.5 485.9,1663.9 486.9,1663.3 487.9,1662.6 488.9,1661.9 489.8,1661.2 490.8,1660.4 491.8,1659.7 492.8,1658.8 493.8,1657.9 494.8,1657.0 495.8,1656.1 496.8,1655.1 497.8,1654.0 498.8,1652.9 499.8,1651.8 500.7,1650.6 501.7,1649.3 502.7,1648.0 503.7,1646.7 504.7,1645.3 505.7,1643.8 506.7,1642.3 507.7,1640.7 508.7,1639.0 509.7,1637.3 510.7,1635.5 511.6,1633.7 512.6,1631.7 513.6,1629.8 514.6,1627.7 515.6,1625.6 516.6,1623.4 517.6,1621.1 518.6,1618.8 519.6,1616.4 520.6,1613.9 521.6,1611.4 522.5,1608.8 523.5,1606.1 524.5,1603.4 525.5,1600.6 526.5,1597.7 527.5,1594.8 528.5,1591.8 529.5,1588.8 530.5,1585.7 531.5,1582.6 532.5,1579.4 533.4,1576.2 534.4,1573.0 535.4,1569.7 536.4,1566.4 537.4,1563.1 538.4,1559.8 539.4,1556.4 540.4,1553.1 541.4,1549.7 542.4,1546.3 543.4,1543.0 544.4,1539.7 545.3,1536.3 546.3,1533.0 547.3,1529.7 548.3,1526.5 549.3,1523.3 550.3,1520.1 551.3,1517.0 552.3,1513.9 553.3,1510.8 554.3,1507.8 555.3,1504.9 556.2,1502.0 557.2,1499.2 558.2,1496.4 559.2,1493.7 560.2,1491.1 561.2,1488.5 562.2,1486.0 563.2,1483.6 564.2,1481.3 565.2,1479.0 566.2,1476.8 567.1,1474.6 568.1,1472.5 569.1,1470.5 570.1,1468.6 571.1,1466.7 572.1,1464.9 573.1,1463.1 574.1,1461.5 575.1,1459.8 576.1,1458.3 577.1,1456.8 578.0,1455.4 579.0,1454.0 580.0,1452.7 581.0,1451.4 582.0,1450.2 583.0,1449.0 584.0,1447.9 585.0,1446.8 586.0,1445.8 587.0,1444.9 588.0,1443.9 589.0,1443.0 589.9,1442.2 590.9,1441.4 591.9,1440.6 592.9,1439.9 593.9,1439.2 594.9,1438.5 595.9,1437.9 596.9,1437.3 597.9,1436.7 598.9,1436.1 599.9,1435.6 600.8,1435.1 601.8,1434.6 602.8,1434.2 603.8,1433.7 604.8,1433.3 605.8,1432.9 606.8,1432.6 607.8,1432.2 608.8,1431.9 609.8,1431.6 610.8,1431.3 611.7,1431.0 612.7,1430.7 613.7,1430.5 614.7,1430.2 615.7,1430.0 616.7,1429.8 617.7,1429.5 618.7,1429.3 619.7,1429.2 620.7,1429.0 621.7,1428.8 622.6,1428.6 623.6,1428.5 624.6,1428.3 625.6,1428.2 626.6,1428.1 627.6,1428.0 628.6,1427.8 629.6,1427.7 630.6,1427.6 631.6,1427.5 632.6,1427.4" fill="none" stroke="#7d2ca6" stroke-width="1.45"/>
<polyline points="138.0,1670.3 139.0,1670.3 140.0,1670.3 141.0,1670.3 142.0,1670.3 143.0,1670.3 143.9,1670.3 144.9,1670.3 145.9,1670.3 146.9,1670.3 147.9,1670.3 148.9,1670.3 149.9,1670.3 150.9,1670.3 151.9,1670.3 152.9,1670.3 153.9,1670.3 154.8,1670.3 155.8,1670.3 156.8,1670.3 157.8,1670.3 158.8,1670.3 159.8,1670.3 160.8,1670.3 161.8,1670.3 162.8,1670.3 163.8,1670.3 164.8,1670.3 165.8,1670.3 166.7,1670.3 167.7,1670.3 168.7,1670.3 169.7,1670.3 170.7,1670.3 171.7,1670.3 172.7,1670.3 173.7,1670.3 174.7,1670.3 175.7,1670.3 176.7,1670.3 177.6,1670.3 178.6,1670.3 179.6,1670.3 180.6,1670.3 181.6,1670.3 182.6,1670.3 183.6,1670.3 184.6,1670.3 185.6,1670.3 186.6,1670.3 187.6,1670.3 188.5,1670.3 189.5,1670.3 190.5,1670.3 191.5,1670.3 192.5,1670.3 193.5,1670.3 194.5,1670.3 195.5,1670.3 196.5,1670.3 197.5,1670.3 198.5,1670.3 199.4,1670.3 200.4,1670.3 201.4,1670.3 202.4,1670.3 203.4,1670.3 204.4,1670.3 205.4,1670.3 206.4,1670.3 207.4,1670.3 208.4,1670.3 209.4,1670.3 210.4,1670.3 211.3,1670.3 212.3,1670.3 213.3,1670.3 214.3,1670.3 215.3,1670.3 216.3,1670.3 217.3,1670.3 218.3,1670.3 219.3,1670.3 220.3,1670.3 221.3,1670.3 222.2,1670.3 223.2,1670.3 224.2,1670.3 225.2,1670.3 226.2,1670.3 227.2,1670.3 228.2,1670.3 229.2,1670.3 230.2,1670.3 231.2,1670.3 232.2,1670.3 233.1,1670.3 234.1,1670.3 235.1,1670.3 236.1,1670.3 237.1,1670.3 238.1,1670.3 239.1,1670.3 240.1,1670.3 241.1,1670.3 242.1,1670.3 243.1,1670.3 244.0,1670.3 245.0,1670.3 246.0,1670.3 247.0,1670.3 248.0,1670.3 249.0,1670.3 250.0,1670.3 251.0,1670.3 252.0,1670.3 253.0,1670.3 254.0,1670.3 255.0,1670.3 255.9,1670.3 256.9,1670.3 257.9,1670.3 258.9,1670.3 259.9,1670.3 260.9,1670.3 261.9,1670.3 262.9,1670.3 263.9,1670.3 264.9,1670.3 265.9,1670.3 266.8,1670.3 267.8,1670.3 268.8,1670.3 269.8,1670.3 270.8,1670.3 271.8,1670.3 272.8,1670.3 273.8,1670.3 274.8,1670.3 275.8,1670.3 276.8,1670.3 277.7,1670.3 278.7,1670.3 279.7,1670.3 280.7,1670.3 281.7,1670.3 282.7,1670.3 283.7,1670.3 284.7,1670.3 285.7,1670.3 286.7,1670.3 287.7,1670.3 288.6,1670.3 289.6,1670.3 290.6,1670.3 291.6,1670.3 292.6,1670.3 293.6,1670.3 294.6,1670.3 295.6,1670.3 296.6,1670.3 297.6,1670.3 298.6,1670.3 299.5,1670.3 300.5,1670.3 301.5,1670.3 302.5,1670.3 303.5,1670.3 304.5,1670.3 305.5,1670.3 306.5,1670.3 307.5,1670.3 308.5,1670.3 309.5,1670.3 310.5,1670.3 311.4,1670.3 312.4,1670.3 313.4,1670.3 314.4,1670.3 315.4,1670.3 316.4,1670.3 317.4,1670.3 318.4,1670.3 319.4,1670.3 320.4,1670.3 321.4,1670.3 322.3,1670.3 323.3,1670.3 324.3,1670.3 325.3,1670.3 326.3,1670.3 327.3,1670.3 328.3,1670.3 329.3,1670.3 330.3,1670.3 331.3,1670.3 332.3,1670.3 333.2,1670.3 334.2,1670.3 335.2,1670.3 336.2,1670.3 337.2,1670.3 338.2,1670.3 339.2,1670.3 340.2,1670.3 341.2,1670.3 342.2,1670.3 343.2,1670.3 344.1,1670.3 345.1,1670.3 346.1,1670.3 347.1,1670.3 348.1,1670.3 349.1,1670.3 350.1,1670.3 351.1,1670.3 352.1,1670.3 353.1,1670.3 354.1,1670.3 355.1,1670.3 356.0,1670.3 357.0,1670.3 358.0,1670.3 359.0,1670.3 360.0,1670.3 361.0,1670.3 362.0,1670.3 363.0,1670.3 364.0,1670.3 365.0,1670.3 366.0,1670.3 366.9,1670.3 367.9,1670.3 368.9,1670.3 369.9,1670.3 370.9,1670.3 371.9,1670.3 372.9,1670.3 373.9,1670.3 374.9,1670.3 375.9,1670.3 376.9,1670.3 377.8,1670.3 378.8,1670.3 379.8,1670.3 380.8,1670.3 381.8,1670.3 382.8,1670.3 383.8,1670.3 384.8,1670.3 385.8,1670.3 386.8,1670.3 387.8,1670.3 388.7,1670.3 389.7,1670.3 390.7,1670.3 391.7,1670.3 392.7,1670.3 393.7,1670.3 394.7,1670.3 395.7,1670.3 396.7,1670.3 397.7,1670.3 398.7,1670.3 399.7,1670.3 400.6,1670.3 401.6,1670.3 402.6,1670.2 403.6,1670.2 404.6,1670.2 405.6,1670.2 406.6,1670.2 407.6,1670.2 408.6,1670.2 409.6,1670.2 410.6,1670.2 411.5,1670.1 412.5,1670.1 413.5,1670.1 414.5,1670.1 415.5,1670.1 416.5,1670.1 417.5,1670.0 418.5,1670.0 419.5,1670.0 420.5,1669.9 421.5,1669.9 422.4,1669.9 423.4,1669.8 424.4,1669.8 425.4,1669.8 426.4,1669.7 427.4,1669.7 428.4,1669.6 429.4,1669.5 430.4,1669.5 431.4,1669.4 432.4,1669.3 433.3,1669.2 434.3,1669.2 435.3,1669.1 436.3,1669.0 437.3,1668.8 438.3,1668.7 439.3,1668.6 440.3,1668.5 441.3,1668.3 442.3,1668.1 443.3,1668.0 444.3,1667.8 445.2,1667.6 446.2,1667.4 447.2,1667.1 448.2,1666.9 449.2,1666.6 450.2,1666.3 451.2,1666.0 452.2,1665.6 453.2,1665.3 454.2,1664.9 455.2,1664.4 456.1,1664.0 457.1,1663.5 458.1,1662.9 459.1,1662.4 460.1,1661.8 461.1,1661.1 462.1,1660.4 463.1,1659.6 464.1,1658.8 465.1,1657.9 466.1,1657.0 467.0,1656.0 468.0,1654.9 469.0,1653.7 470.0,1652.5 471.0,1651.2 472.0,1649.8 473.0,1648.3 474.0,1646.7 475.0,1645.0 476.0,1643.2 477.0,1641.3 477.9,1639.2 478.9,1637.1 479.9,1634.8 480.9,1632.4 481.9,1629.9 482.9,1627.2 483.9,1624.4 484.9,1621.4 485.9,1618.4 486.9,1615.1 487.9,1611.8 488.9,1608.3 489.8,1604.7 490.8,1600.9 491.8,1597.0 492.8,1593.0 493.8,1588.9 494.8,1584.7 495.8,1580.4 496.8,1576.0 497.8,1571.5 498.8,1567.0 499.8,1562.4 500.7,1557.8 501.7,1553.1 502.7,1548.4 503.7,1543.8 504.7,1539.1 505.7,1534.5 506.7,1529.9 507.7,1525.4 508.7,1521.0 509.7,1516.6 510.7,1512.4 511.6,1508.2 512.6,1504.1 513.6,1500.2 514.6,1496.3 515.6,1492.6 516.6,1489.1 517.6,1485.6 518.6,1482.3 519.6,1479.2 520.6,1476.2 521.6,1473.3 522.5,1470.5 523.5,1467.9 524.5,1465.4 525.5,1463.1 526.5,1460.9 527.5,1458.8 528.5,1456.8 529.5,1454.9 530.5,1453.2 531.5,1451.5 532.5,1449.9 533.4,1448.5 534.4,1447.1 535.4,1445.8 536.4,1444.6 537.4,1443.5 538.4,1442.5 539.4,1441.5 540.4,1440.6 541.4,1439.7 542.4,1438.9 543.4,1438.2 544.4,1437.5 545.3,1436.8 546.3,1436.2 547.3,1435.7 548.3,1435.2 549.3,1434.7 550.3,1434.2 551.3,1433.8 552.3,1433.4 553.3,1433.1 554.3,1432.7 555.3,1432.4 556.2,1432.2 557.2,1431.9 558.2,1431.6 559.2,1431.4 560.2,1431.2 561.2,1431.0 562.2,1430.8 563.2,1430.7 564.2,1430.5 565.2,1430.3 566.2,1430.2 567.1,1430.1 568.1,1430.0 569.1,1429.9 570.1,1429.8 571.1,1429.7 572.1,1429.6 573.1,1429.5 574.1,1429.4 575.1,1429.4 576.1,1429.3 577.1,1429.2 578.0,1429.2 579.0,1429.1 580.0,1429.1 581.0,1429.1 582.0,1429.0 583.0,1429.0 584.0,1428.9 585.0,1428.9 586.0,1428.9 587.0,1428.9 588.0,1428.8 589.0,1428.8 589.9,1428.8 590.9,1428.8 591.9,1428.7 592.9,1428.7 593.9,1428.7 594.9,1428.7 595.9,1428.7 596.9,1428.7 597.9,1428.7 598.9,1428.7 599.9,1428.6 600.8,1428.6 601.8,1428.6 602.8,1428.6 603.8,1428.6 604.8,1428.6 605.8,1428.6 606.8,1428.6 607.8,1428.6 608.8,1428.6 609.8,1428.6 610.8,1428.6 611.7,1428.6 612.7,1428.6 613.7,1428.6 614.7,1428.6 615.7,1428.6 616.7,1428.6 617.7,1428.6 618.7,1428.5 619.7,1428.5 620.7,1428.5 621.7,1428.5 622.6,1428.5 623.6,1428.5 624.6,1428.5 625.6,1428.5 626.6,1428.5 627.6,1428.5 628.6,1428.5 629.6,1428.5 630.6,1428.5 631.6,1428.5 632.6,1428.5" fill="none" stroke="#5262c0" stroke-width="1.45"/>
<circle cx="138.0" cy="1682.6" r="5.8" fill="#6e9fd6" stroke="#4c5bb6" stroke-width="1.5"/>
<circle cx="294.2" cy="1682.6" r="5.8" fill="#6e9fd6" stroke="#4c5bb6" stroke-width="1.5"/>
<circle cx="328.0" cy="1670.6" r="5.8" fill="#6e9fd6" stroke="#4c5bb6" stroke-width="1.5"/>
<circle cx="328.0" cy="1682.6" r="5.8" fill="#6e9fd6" stroke="#4c5bb6" stroke-width="1.5"/>
<circle cx="361.7" cy="1660.2" r="5.8" fill="#6e9fd6" stroke="#4c5bb6" stroke-width="1.5"/>
<circle cx="361.7" cy="1677.6" r="5.8" fill="#6e9fd6" stroke="#4c5bb6" stroke-width="1.5"/>
<circle cx="395.4" cy="1636.0" r="5.8" fill="#6e9fd6" stroke="#4c5bb6" stroke-width="1.5"/>
<circle cx="395.4" cy="1660.2" r="5.8" fill="#6e9fd6" stroke="#4c5bb6" stroke-width="1.5"/>
<circle cx="395.4" cy="1670.9" r="5.8" fill="#6e9fd6" stroke="#4c5bb6" stroke-width="1.5"/>
<circle cx="395.4" cy="1682.6" r="5.8" fill="#6e9fd6" stroke="#4c5bb6" stroke-width="1.5"/>
<circle cx="429.1" cy="1657.7" r="5.8" fill="#6e9fd6" stroke="#4c5bb6" stroke-width="1.5"/>
<circle cx="462.8" cy="1607.4" r="5.8" fill="#6e9fd6" stroke="#4c5bb6" stroke-width="1.5"/>
<circle cx="462.8" cy="1624.1" r="5.8" fill="#6e9fd6" stroke="#4c5bb6" stroke-width="1.5"/>
<circle cx="462.8" cy="1627.8" r="5.8" fill="#6e9fd6" stroke="#4c5bb6" stroke-width="1.5"/>
<circle cx="496.6" cy="1553.6" r="5.8" fill="#6e9fd6" stroke="#4c5bb6" stroke-width="1.5"/>
<circle cx="496.6" cy="1589.0" r="5.8" fill="#6e9fd6" stroke="#4c5bb6" stroke-width="1.5"/>
<circle cx="496.6" cy="1609.4" r="5.8" fill="#6e9fd6" stroke="#4c5bb6" stroke-width="1.5"/>
<circle cx="496.6" cy="1617.9" r="5.8" fill="#6e9fd6" stroke="#4c5bb6" stroke-width="1.5"/>
<circle cx="531.4" cy="1433.6" r="5.8" fill="#6e9fd6" stroke="#4c5bb6" stroke-width="1.5"/>
<circle cx="138.0" cy="1682.6" r="5.8" fill="#9a5cb4" stroke="#6f2b9c" stroke-width="1.5"/>
<circle cx="294.2" cy="1648.7" r="5.8" fill="#9a5cb4" stroke="#6f2b9c" stroke-width="1.5"/>
<circle cx="294.2" cy="1670.4" r="5.8" fill="#9a5cb4" stroke="#6f2b9c" stroke-width="1.5"/>
<circle cx="294.2" cy="1682.6" r="5.8" fill="#9a5cb4" stroke="#6f2b9c" stroke-width="1.5"/>
<circle cx="328.0" cy="1648.0" r="5.8" fill="#9a5cb4" stroke="#6f2b9c" stroke-width="1.5"/>
<circle cx="328.0" cy="1660.7" r="5.8" fill="#9a5cb4" stroke="#6f2b9c" stroke-width="1.5"/>
<circle cx="328.0" cy="1682.6" r="5.8" fill="#9a5cb4" stroke="#6f2b9c" stroke-width="1.5"/>
<circle cx="361.7" cy="1670.9" r="5.8" fill="#9a5cb4" stroke="#6f2b9c" stroke-width="1.5"/>
<circle cx="361.7" cy="1682.6" r="5.8" fill="#9a5cb4" stroke="#6f2b9c" stroke-width="1.5"/>
<circle cx="395.4" cy="1649.0" r="5.8" fill="#9a5cb4" stroke="#6f2b9c" stroke-width="1.5"/>
<circle cx="429.1" cy="1647.7" r="5.8" fill="#9a5cb4" stroke="#6f2b9c" stroke-width="1.5"/>
<circle cx="429.1" cy="1660.2" r="5.8" fill="#9a5cb4" stroke="#6f2b9c" stroke-width="1.5"/>
<circle cx="429.1" cy="1670.9" r="5.8" fill="#9a5cb4" stroke="#6f2b9c" stroke-width="1.5"/>
<circle cx="462.8" cy="1649.0" r="5.8" fill="#9a5cb4" stroke="#6f2b9c" stroke-width="1.5"/>
<circle cx="462.8" cy="1682.6" r="5.8" fill="#9a5cb4" stroke="#6f2b9c" stroke-width="1.5"/>
<circle cx="496.6" cy="1604.4" r="5.8" fill="#9a5cb4" stroke="#6f2b9c" stroke-width="1.5"/>
<circle cx="496.6" cy="1633.8" r="5.8" fill="#9a5cb4" stroke="#6f2b9c" stroke-width="1.5"/>
<circle cx="496.6" cy="1647.7" r="5.8" fill="#9a5cb4" stroke="#6f2b9c" stroke-width="1.5"/>
<circle cx="496.6" cy="1670.4" r="5.8" fill="#9a5cb4" stroke="#6f2b9c" stroke-width="1.5"/>
<circle cx="531.4" cy="1572.0" r="5.8" fill="#9a5cb4" stroke="#6f2b9c" stroke-width="1.5"/>
<circle cx="531.4" cy="1582.0" r="5.8" fill="#9a5cb4" stroke="#6f2b9c" stroke-width="1.5"/>
<circle cx="531.4" cy="1602.9" r="5.8" fill="#9a5cb4" stroke="#6f2b9c" stroke-width="1.5"/>
<circle cx="531.4" cy="1615.4" r="5.8" fill="#9a5cb4" stroke="#6f2b9c" stroke-width="1.5"/>
<circle cx="565.1" cy="1433.6" r="5.8" fill="#9a5cb4" stroke="#6f2b9c" stroke-width="1.5"/>
<circle cx="565.1" cy="1526.0" r="5.8" fill="#9a5cb4" stroke="#6f2b9c" stroke-width="1.5"/>
<circle cx="565.1" cy="1535.9" r="5.8" fill="#9a5cb4" stroke="#6f2b9c" stroke-width="1.5"/>
<circle cx="598.8" cy="1433.6" r="5.8" fill="#9a5cb4" stroke="#6f2b9c" stroke-width="1.5"/>
<circle cx="632.6" cy="1433.6" r="5.8" fill="#9a5cb4" stroke="#6f2b9c" stroke-width="1.5"/>
<text x="420.7" y="1260.5" font-size="36" text-anchor="middle">Pre-treatment</text>
<path d="M176.3,1332.8 L216.7,1332.8" stroke="#7d2ca6" stroke-width="1.6"/>
<circle cx="196.8" cy="1332.8" r="5.8" fill="#9a5cb4" stroke="#6f2b9c" stroke-width="1.5"/>
<path d="M176.3,1385.5 L216.7,1385.5" stroke="#5262c0" stroke-width="1.6"/>
<circle cx="196.8" cy="1385.5" r="5.8" fill="#6e9fd6" stroke="#4c5bb6" stroke-width="1.5"/>
<text x="223.2" y="1343.4" font-size="36">nsp5</text>
<text x="298.7" y="1331.4" font-size="20">T169I</text>
<text x="347.6" y="1343.4" font-size="36">nsp12</text>
<text x="443.0" y="1331.4" font-size="20">V792I</text>
<text x="225.1" y="1395.9" font-size="36">WT</text>
<text x="522.0" y="1296.5" font-size="36">IC</text>
<text x="560.3" y="1307.5" font-size="20">50</text>
<text x="523.3" y="1343.4" font-size="36">3.93 µM</text>
<text x="523.3" y="1395.9" font-size="36">1.77 µM</text>
<text x="273.8" y="1786.3" font-size="36" textLength="58.0" lengthAdjust="spacingAndGlyphs">Log</text>
<text x="332.7" y="1797.1" font-size="20" textLength="20.6" lengthAdjust="spacingAndGlyphs">10</text>
<text x="354.0" y="1786.3" font-size="36" textLength="249.9" lengthAdjust="spacingAndGlyphs">[Nirmatrelvir] nM</text>
<text transform="translate(53.3,1731.1) rotate(-90)" font-size="37" textLength="460.5" lengthAdjust="spacingAndGlyphs">SARS-CoV-2 inhibition (%)</text>
<g stroke="#2b2b2b" stroke-width="2" fill="none">
<path d="M779.5,1309.1 L779.5,1683.6 L1341.5,1683.6"/>
<path d="M764.5,1683.6 L779.5,1683.6"/>
<path d="M764.5,1559.1 L779.5,1559.1"/>
<path d="M764.5,1434.6 L779.5,1434.6"/>
<path d="M764.5,1310.1 L779.5,1310.1"/>
<path d="M779.5,1683.6 L779.5,1698.6"/>
<path d="M891.7,1683.6 L891.7,1698.6"/>
<path d="M1003.9,1683.6 L1003.9,1698.6"/>
<path d="M1116.1,1683.6 L1116.1,1698.6"/>
<path d="M1228.3,1683.6 L1228.3,1698.6"/>
<path d="M1340.5,1683.6 L1340.5,1698.6"/>
</g>
<text x="750.0" y="1693.7" font-size="36" text-anchor="end">0</text>
<text x="755.0" y="1569.2" font-size="36" text-anchor="end">50</text>
<text x="758.5" y="1444.7" font-size="36" text-anchor="end">100</text>
<text x="758.5" y="1320.2" font-size="36" text-anchor="end">150</text>
<text x="780.5" y="1738.1" font-size="36" text-anchor="middle">0</text>
<text x="892.7" y="1738.1" font-size="36" text-anchor="middle">1</text>
<text x="1004.9" y="1738.1" font-size="36" text-anchor="middle">2</text>
<text x="1117.1" y="1738.1" font-size="36" text-anchor="middle">3</text>
<text x="1229.3" y="1738.1" font-size="36" text-anchor="middle">4</text>
<text x="1341.5" y="1738.1" font-size="36" text-anchor="middle">5</text>
<polyline points="779.5,1658.9 780.5,1658.9 781.5,1658.9 782.5,1658.9 783.5,1658.9 784.4,1658.9 785.4,1658.9 786.4,1658.9 787.4,1658.9 788.4,1658.9 789.4,1658.9 790.4,1658.9 791.4,1658.9 792.4,1658.9 793.4,1658.9 794.3,1658.9 795.3,1658.9 796.3,1658.9 797.3,1658.9 798.3,1658.9 799.3,1658.9 800.3,1658.9 801.3,1658.9 802.3,1658.9 803.2,1658.9 804.2,1658.9 805.2,1658.9 806.2,1658.9 807.2,1658.9 808.2,1658.9 809.2,1658.9 810.2,1658.9 811.2,1658.9 812.1,1658.9 813.1,1658.9 814.1,1658.9 815.1,1658.9 816.1,1658.9 817.1,1658.9 818.1,1658.9 819.1,1658.9 820.1,1658.9 821.1,1658.9 822.0,1658.9 823.0,1658.9 824.0,1658.9 825.0,1658.9 826.0,1658.9 827.0,1658.9 828.0,1658.9 829.0,1658.9 830.0,1658.9 830.9,1658.9 831.9,1658.9 832.9,1658.9 833.9,1658.9 834.9,1658.9 835.9,1658.9 836.9,1658.9 837.9,1658.9 838.9,1658.9 839.8,1658.9 840.8,1658.9 841.8,1658.9 842.8,1658.9 843.8,1658.9 844.8,1658.9 845.8,1658.9 846.8,1658.9 847.8,1658.9 848.8,1658.9 849.7,1658.9 850.7,1658.9 851.7,1658.9 852.7,1658.9 853.7,1658.9 854.7,1658.9 855.7,1658.9 856.7,1658.9 857.7,1658.9 858.6,1658.9 859.6,1658.9 860.6,1658.9 861.6,1658.9 862.6,1658.9 863.6,1658.9 864.6,1658.9 865.6,1658.9 866.6,1658.9 867.6,1658.9 868.5,1658.9 869.5,1658.9 870.5,1658.9 871.5,1658.9 872.5,1658.9 873.5,1658.9 874.5,1658.9 875.5,1658.9 876.5,1658.9 877.4,1658.9 878.4,1658.9 879.4,1658.9 880.4,1658.9 881.4,1658.9 882.4,1658.9 883.4,1658.9 884.4,1658.9 885.4,1658.9 886.3,1658.9 887.3,1658.9 888.3,1658.9 889.3,1658.9 890.3,1658.9 891.3,1658.9 892.3,1658.9 893.3,1658.9 894.3,1658.9 895.3,1658.9 896.2,1658.9 897.2,1658.9 898.2,1658.9 899.2,1658.9 900.2,1658.9 901.2,1658.9 902.2,1658.9 903.2,1658.9 904.2,1658.9 905.1,1658.9 906.1,1658.9 907.1,1658.9 908.1,1658.9 909.1,1658.9 910.1,1658.9 911.1,1658.9 912.1,1658.9 913.1,1658.9 914.1,1658.9 915.0,1658.9 916.0,1658.9 917.0,1658.9 918.0,1658.9 919.0,1658.9 920.0,1658.9 921.0,1658.9 922.0,1658.9 923.0,1658.9 923.9,1658.9 924.9,1658.9 925.9,1658.9 926.9,1658.9 927.9,1658.9 928.9,1658.9 929.9,1658.9 930.9,1658.9 931.9,1658.9 932.8,1658.9 933.8,1658.9 934.8,1658.9 935.8,1658.9 936.8,1658.9 937.8,1658.9 938.8,1658.9 939.8,1658.9 940.8,1658.9 941.8,1658.9 942.7,1658.9 943.7,1658.9 944.7,1658.9 945.7,1658.9 946.7,1658.9 947.7,1658.9 948.7,1658.9 949.7,1658.9 950.7,1658.9 951.6,1658.9 952.6,1658.9 953.6,1658.9 954.6,1658.9 955.6,1658.9 956.6,1658.9 957.6,1658.9 958.6,1658.9 959.6,1658.9 960.5,1658.9 961.5,1658.9 962.5,1658.9 963.5,1658.9 964.5,1658.9 965.5,1658.9 966.5,1658.9 967.5,1658.9 968.5,1658.9 969.5,1658.9 970.4,1658.9 971.4,1658.9 972.4,1658.8 973.4,1658.8 974.4,1658.8 975.4,1658.8 976.4,1658.8 977.4,1658.8 978.4,1658.8 979.3,1658.8 980.3,1658.8 981.3,1658.8 982.3,1658.8 983.3,1658.8 984.3,1658.8 985.3,1658.8 986.3,1658.8 987.3,1658.8 988.3,1658.8 989.2,1658.8 990.2,1658.7 991.2,1658.7 992.2,1658.7 993.2,1658.7 994.2,1658.7 995.2,1658.7 996.2,1658.7 997.2,1658.7 998.1,1658.7 999.1,1658.7 1000.1,1658.7 1001.1,1658.6 1002.1,1658.6 1003.1,1658.6 1004.1,1658.6 1005.1,1658.6 1006.1,1658.6 1007.0,1658.6 1008.0,1658.5 1009.0,1658.5 1010.0,1658.5 1011.0,1658.5 1012.0,1658.5 1013.0,1658.5 1014.0,1658.4 1015.0,1658.4 1016.0,1658.4 1016.9,1658.4 1017.9,1658.4 1018.9,1658.3 1019.9,1658.3 1020.9,1658.3 1021.9,1658.3 1022.9,1658.2 1023.9,1658.2 1024.9,1658.2 1025.8,1658.1 1026.8,1658.1 1027.8,1658.1 1028.8,1658.0 1029.8,1658.0 1030.8,1658.0 1031.8,1657.9 1032.8,1657.9 1033.8,1657.9 1034.7,1657.8 1035.7,1657.8 1036.7,1657.7 1037.7,1657.7 1038.7,1657.6 1039.7,1657.6 1040.7,1657.5 1041.7,1657.5 1042.7,1657.4 1043.7,1657.3 1044.6,1657.3 1045.6,1657.2 1046.6,1657.1 1047.6,1657.1 1048.6,1657.0 1049.6,1656.9 1050.6,1656.8 1051.6,1656.8 1052.6,1656.7 1053.5,1656.6 1054.5,1656.5 1055.5,1656.4 1056.5,1656.3 1057.5,1656.2 1058.5,1656.1 1059.5,1656.0 1060.5,1655.8 1061.5,1655.7 1062.5,1655.6 1063.4,1655.5 1064.4,1655.3 1065.4,1655.2 1066.4,1655.0 1067.4,1654.9 1068.4,1654.7 1069.4,1654.6 1070.4,1654.4 1071.4,1654.2 1072.3,1654.0 1073.3,1653.9 1074.3,1653.7 1075.3,1653.5 1076.3,1653.2 1077.3,1653.0 1078.3,1652.8 1079.3,1652.6 1080.3,1652.3 1081.2,1652.1 1082.2,1651.8 1083.2,1651.5 1084.2,1651.2 1085.2,1650.9 1086.2,1650.6 1087.2,1650.3 1088.2,1650.0 1089.2,1649.7 1090.2,1649.3 1091.1,1648.9 1092.1,1648.6 1093.1,1648.2 1094.1,1647.8 1095.1,1647.3 1096.1,1646.9 1097.1,1646.4 1098.1,1646.0 1099.1,1645.5 1100.0,1645.0 1101.0,1644.5 1102.0,1643.9 1103.0,1643.4 1104.0,1642.8 1105.0,1642.2 1106.0,1641.6 1107.0,1641.0 1108.0,1640.3 1108.9,1639.6 1109.9,1638.9 1110.9,1638.2 1111.9,1637.5 1112.9,1636.7 1113.9,1635.9 1114.9,1635.1 1115.9,1634.2 1116.9,1633.3 1117.9,1632.4 1118.8,1631.5 1119.8,1630.6 1120.8,1629.6 1121.8,1628.6 1122.8,1627.5 1123.8,1626.4 1124.8,1625.3 1125.8,1624.2 1126.8,1623.0 1127.7,1621.8 1128.7,1620.6 1129.7,1619.3 1130.7,1618.0 1131.7,1616.7 1132.7,1615.3 1133.7,1613.9 1134.7,1612.5 1135.7,1611.0 1136.7,1609.5 1137.6,1608.0 1138.6,1606.4 1139.6,1604.8 1140.6,1603.1 1141.6,1601.4 1142.6,1599.7 1143.6,1598.0 1144.6,1596.2 1145.6,1594.4 1146.5,1592.5 1147.5,1590.7 1148.5,1588.7 1149.5,1586.8 1150.5,1584.8 1151.5,1582.8 1152.5,1580.8 1153.5,1578.7 1154.5,1576.6 1155.4,1574.5 1156.4,1572.4 1157.4,1570.2 1158.4,1568.0 1159.4,1565.8 1160.4,1563.6 1161.4,1561.4 1162.4,1559.1 1163.4,1556.8 1164.4,1554.5 1165.3,1552.2 1166.3,1549.9 1167.3,1547.6 1168.3,1545.3 1169.3,1543.0 1170.3,1540.6 1171.3,1538.3 1172.3,1536.0 1173.3,1533.6 1174.2,1531.3 1175.2,1529.0 1176.2,1526.6 1177.2,1524.3 1178.2,1522.0 1179.2,1519.8 1180.2,1517.5 1181.2,1515.2 1182.2,1513.0 1183.2,1510.8 1184.1,1508.6 1185.1,1506.4 1186.1,1504.2 1187.1,1502.1 1188.1,1500.0 1189.1,1497.9 1190.1,1495.8 1191.1,1493.8 1192.1,1491.8 1193.0,1489.8 1194.0,1487.9 1195.0,1486.0 1196.0,1484.1 1197.0,1482.3 1198.0,1480.5 1199.0,1478.7 1200.0,1476.9 1201.0,1475.2 1201.9,1473.6 1202.9,1471.9 1203.9,1470.3 1204.9,1468.8 1205.9,1467.2 1206.9,1465.7 1207.9,1464.3 1208.9,1462.8 1209.9,1461.4 1210.9,1460.1 1211.8,1458.7 1212.8,1457.4 1213.8,1456.2 1214.8,1454.9 1215.8,1453.8 1216.8,1452.6 1217.8,1451.5 1218.8,1450.4 1219.8,1449.3 1220.7,1448.2 1221.7,1447.2 1222.7,1446.3 1223.7,1445.3 1224.7,1444.4 1225.7,1443.5 1226.7,1442.6 1227.7,1441.8 1228.7,1441.0 1229.6,1440.2 1230.6,1439.4 1231.6,1438.7 1232.6,1437.9 1233.6,1437.2 1234.6,1436.6 1235.6,1435.9 1236.6,1435.3 1237.6,1434.7 1238.6,1434.1 1239.5,1433.5 1240.5,1433.0 1241.5,1432.4 1242.5,1431.9 1243.5,1431.4 1244.5,1430.9 1245.5,1430.5 1246.5,1430.0 1247.5,1429.6 1248.4,1429.2 1249.4,1428.8 1250.4,1428.4 1251.4,1428.0 1252.4,1427.6 1253.4,1427.3 1254.4,1426.9 1255.4,1426.6 1256.4,1426.3 1257.4,1426.0 1258.3,1425.7 1259.3,1425.4 1260.3,1425.1 1261.3,1424.9 1262.3,1424.6 1263.3,1424.4 1264.3,1424.2 1265.3,1423.9 1266.3,1423.7 1267.2,1423.5 1268.2,1423.3 1269.2,1423.1 1270.2,1422.9 1271.2,1422.7 1272.2,1422.6 1273.2,1422.4" fill="none" stroke="#7d2ca6" stroke-width="1.45"/>
<polyline points="779.5,1659.4 780.5,1659.4 781.5,1659.4 782.5,1659.4 783.5,1659.4 784.4,1659.4 785.4,1659.4 786.4,1659.4 787.4,1659.4 788.4,1659.4 789.4,1659.4 790.4,1659.4 791.4,1659.4 792.4,1659.4 793.4,1659.4 794.3,1659.4 795.3,1659.4 796.3,1659.4 797.3,1659.4 798.3,1659.4 799.3,1659.4 800.3,1659.4 801.3,1659.4 802.3,1659.4 803.2,1659.4 804.2,1659.4 805.2,1659.4 806.2,1659.4 807.2,1659.4 808.2,1659.4 809.2,1659.4 810.2,1659.4 811.2,1659.4 812.1,1659.4 813.1,1659.4 814.1,1659.4 815.1,1659.4 816.1,1659.4 817.1,1659.4 818.1,1659.4 819.1,1659.4 820.1,1659.4 821.1,1659.4 822.0,1659.4 823.0,1659.4 824.0,1659.4 825.0,1659.4 826.0,1659.4 827.0,1659.4 828.0,1659.4 829.0,1659.4 830.0,1659.4 830.9,1659.4 831.9,1659.4 832.9,1659.4 833.9,1659.4 834.9,1659.4 835.9,1659.4 836.9,1659.4 837.9,1659.4 838.9,1659.4 839.8,1659.4 840.8,1659.4 841.8,1659.4 842.8,1659.4 843.8,1659.4 844.8,1659.4 845.8,1659.4 846.8,1659.4 847.8,1659.4 848.8,1659.4 849.7,1659.4 850.7,1659.4 851.7,1659.4 852.7,1659.4 853.7,1659.4 854.7,1659.4 855.7,1659.4 856.7,1659.4 857.7,1659.4 858.6,1659.4 859.6,1659.4 860.6,1659.4 861.6,1659.4 862.6,1659.4 863.6,1659.4 864.6,1659.4 865.6,1659.4 866.6,1659.4 867.6,1659.4 868.5,1659.4 869.5,1659.4 870.5,1659.4 871.5,1659.4 872.5,1659.4 873.5,1659.4 874.5,1659.4 875.5,1659.4 876.5,1659.4 877.4,1659.4 878.4,1659.4 879.4,1659.4 880.4,1659.4 881.4,1659.4 882.4,1659.4 883.4,1659.4 884.4,1659.4 885.4,1659.4 886.3,1659.4 887.3,1659.4 888.3,1659.4 889.3,1659.4 890.3,1659.4 891.3,1659.4 892.3,1659.4 893.3,1659.4 894.3,1659.4 895.3,1659.4 896.2,1659.4 897.2,1659.4 898.2,1659.4 899.2,1659.4 900.2,1659.4 901.2,1659.4 902.2,1659.4 903.2,1659.4 904.2,1659.4 905.1,1659.4 906.1,1659.4 907.1,1659.4 908.1,1659.4 909.1,1659.4 910.1,1659.4 911.1,1659.4 912.1,1659.4 913.1,1659.4 914.1,1659.4 915.0,1659.4 916.0,1659.4 917.0,1659.4 918.0,1659.4 919.0,1659.4 920.0,1659.4 921.0,1659.4 922.0,1659.4 923.0,1659.4 923.9,1659.4 924.9,1659.4 925.9,1659.4 926.9,1659.4 927.9,1659.4 928.9,1659.4 929.9,1659.4 930.9,1659.4 931.9,1659.4 932.8,1659.4 933.8,1659.4 934.8,1659.4 935.8,1659.4 936.8,1659.4 937.8,1659.4 938.8,1659.4 939.8,1659.4 940.8,1659.4 941.8,1659.4 942.7,1659.4 943.7,1659.4 944.7,1659.4 945.7,1659.4 946.7,1659.4 947.7,1659.4 948.7,1659.4 949.7,1659.4 950.7,1659.4 951.6,1659.4 952.6,1659.4 953.6,1659.4 954.6,1659.4 955.6,1659.4 956.6,1659.4 957.6,1659.4 958.6,1659.4 959.6,1659.4 960.5,1659.4 961.5,1659.4 962.5,1659.4 963.5,1659.3 964.5,1659.3 965.5,1659.3 966.5,1659.3 967.5,1659.3 968.5,1659.3 969.5,1659.3 970.4,1659.3 971.4,1659.3 972.4,1659.3 973.4,1659.3 974.4,1659.3 975.4,1659.3 976.4,1659.3 977.4,1659.3 978.4,1659.3 979.3,1659.3 980.3,1659.3 981.3,1659.3 982.3,1659.3 983.3,1659.3 984.3,1659.3 985.3,1659.3 986.3,1659.3 987.3,1659.3 988.3,1659.3 989.2,1659.3 990.2,1659.3 991.2,1659.3 992.2,1659.2 993.2,1659.2 994.2,1659.2 995.2,1659.2 996.2,1659.2 997.2,1659.2 998.1,1659.2 999.1,1659.2 1000.1,1659.2 1001.1,1659.1 1002.1,1659.1 1003.1,1659.1 1004.1,1659.1 1005.1,1659.1 1006.1,1659.1 1007.0,1659.0 1008.0,1659.0 1009.0,1659.0 1010.0,1659.0 1011.0,1659.0 1012.0,1658.9 1013.0,1658.9 1014.0,1658.9 1015.0,1658.8 1016.0,1658.8 1016.9,1658.8 1017.9,1658.7 1018.9,1658.7 1019.9,1658.7 1020.9,1658.6 1021.9,1658.6 1022.9,1658.5 1023.9,1658.5 1024.9,1658.4 1025.8,1658.4 1026.8,1658.3 1027.8,1658.2 1028.8,1658.2 1029.8,1658.1 1030.8,1658.0 1031.8,1657.9 1032.8,1657.8 1033.8,1657.7 1034.7,1657.6 1035.7,1657.5 1036.7,1657.4 1037.7,1657.3 1038.7,1657.1 1039.7,1657.0 1040.7,1656.9 1041.7,1656.7 1042.7,1656.5 1043.7,1656.4 1044.6,1656.2 1045.6,1656.0 1046.6,1655.8 1047.6,1655.5 1048.6,1655.3 1049.6,1655.1 1050.6,1654.8 1051.6,1654.5 1052.6,1654.2 1053.5,1653.9 1054.5,1653.6 1055.5,1653.2 1056.5,1652.8 1057.5,1652.4 1058.5,1652.0 1059.5,1651.6 1060.5,1651.1 1061.5,1650.6 1062.5,1650.1 1063.4,1649.5 1064.4,1648.9 1065.4,1648.3 1066.4,1647.7 1067.4,1647.0 1068.4,1646.2 1069.4,1645.5 1070.4,1644.7 1071.4,1643.8 1072.3,1642.9 1073.3,1641.9 1074.3,1640.9 1075.3,1639.9 1076.3,1638.8 1077.3,1637.6 1078.3,1636.4 1079.3,1635.1 1080.3,1633.8 1081.2,1632.3 1082.2,1630.9 1083.2,1629.3 1084.2,1627.7 1085.2,1626.0 1086.2,1624.2 1087.2,1622.4 1088.2,1620.5 1089.2,1618.5 1090.2,1616.4 1091.1,1614.2 1092.1,1612.0 1093.1,1609.7 1094.1,1607.3 1095.1,1604.8 1096.1,1602.2 1097.1,1599.6 1098.1,1596.9 1099.1,1594.1 1100.0,1591.2 1101.0,1588.3 1102.0,1585.3 1103.0,1582.2 1104.0,1579.1 1105.0,1575.9 1106.0,1572.6 1107.0,1569.4 1108.0,1566.0 1108.9,1562.7 1109.9,1559.3 1110.9,1555.8 1111.9,1552.4 1112.9,1548.9 1113.9,1545.5 1114.9,1542.0 1115.9,1538.5 1116.9,1535.1 1117.9,1531.7 1118.8,1528.3 1119.8,1524.9 1120.8,1521.6 1121.8,1518.3 1122.8,1515.0 1123.8,1511.8 1124.8,1508.7 1125.8,1505.6 1126.8,1502.6 1127.7,1499.6 1128.7,1496.8 1129.7,1494.0 1130.7,1491.2 1131.7,1488.6 1132.7,1486.0 1133.7,1483.5 1134.7,1481.1 1135.7,1478.8 1136.7,1476.5 1137.6,1474.4 1138.6,1472.3 1139.6,1470.3 1140.6,1468.3 1141.6,1466.5 1142.6,1464.7 1143.6,1463.0 1144.6,1461.4 1145.6,1459.8 1146.5,1458.3 1147.5,1456.9 1148.5,1455.5 1149.5,1454.2 1150.5,1453.0 1151.5,1451.8 1152.5,1450.7 1153.5,1449.6 1154.5,1448.6 1155.4,1447.7 1156.4,1446.8 1157.4,1445.9 1158.4,1445.1 1159.4,1444.3 1160.4,1443.6 1161.4,1442.9 1162.4,1442.2 1163.4,1441.6 1164.4,1441.0 1165.3,1440.4 1166.3,1439.9 1167.3,1439.4 1168.3,1438.9 1169.3,1438.5 1170.3,1438.0 1171.3,1437.6 1172.3,1437.3 1173.3,1436.9 1174.2,1436.6 1175.2,1436.3 1176.2,1436.0 1177.2,1435.7 1178.2,1435.4 1179.2,1435.2 1180.2,1434.9 1181.2,1434.7 1182.2,1434.5 1183.2,1434.3 1184.1,1434.1 1185.1,1433.9 1186.1,1433.8 1187.1,1433.6 1188.1,1433.5 1189.1,1433.3 1190.1,1433.2 1191.1,1433.1 1192.1,1432.9 1193.0,1432.8 1194.0,1432.7 1195.0,1432.6 1196.0,1432.5 1197.0,1432.5 1198.0,1432.4 1199.0,1432.3 1200.0,1432.2 1201.0,1432.2 1201.9,1432.1 1202.9,1432.0 1203.9,1432.0 1204.9,1431.9 1205.9,1431.9 1206.9,1431.8 1207.9,1431.8 1208.9,1431.7 1209.9,1431.7 1210.9,1431.7 1211.8,1431.6 1212.8,1431.6 1213.8,1431.6 1214.8,1431.5 1215.8,1431.5 1216.8,1431.5 1217.8,1431.5 1218.8,1431.4 1219.8,1431.4 1220.7,1431.4 1221.7,1431.4 1222.7,1431.4 1223.7,1431.3 1224.7,1431.3 1225.7,1431.3 1226.7,1431.3 1227.7,1431.3 1228.7,1431.3 1229.6,1431.3 1230.6,1431.2 1231.6,1431.2 1232.6,1431.2 1233.6,1431.2 1234.6,1431.2 1235.6,1431.2 1236.6,1431.2 1237.6,1431.2 1238.6,1431.2 1239.5,1431.2 1240.5,1431.2 1241.5,1431.2 1242.5,1431.1 1243.5,1431.1 1244.5,1431.1 1245.5,1431.1 1246.5,1431.1 1247.5,1431.1 1248.4,1431.1 1249.4,1431.1 1250.4,1431.1 1251.4,1431.1 1252.4,1431.1 1253.4,1431.1 1254.4,1431.1 1255.4,1431.1 1256.4,1431.1 1257.4,1431.1 1258.3,1431.1 1259.3,1431.1 1260.3,1431.1 1261.3,1431.1 1262.3,1431.1 1263.3,1431.1 1264.3,1431.1 1265.3,1431.1 1266.3,1431.1 1267.2,1431.1 1268.2,1431.1 1269.2,1431.1 1270.2,1431.1 1271.2,1431.1 1272.2,1431.1 1273.2,1431.1" fill="none" stroke="#5262c0" stroke-width="1.45"/>
<circle cx="779.5" cy="1683.6" r="5.8" fill="#6e9fd6" stroke="#4c5bb6" stroke-width="1.5"/>
<circle cx="935.5" cy="1673.1" r="5.8" fill="#6e9fd6" stroke="#4c5bb6" stroke-width="1.5"/>
<circle cx="969.1" cy="1640.8" r="5.8" fill="#6e9fd6" stroke="#4c5bb6" stroke-width="1.5"/>
<circle cx="969.1" cy="1649.0" r="5.8" fill="#6e9fd6" stroke="#4c5bb6" stroke-width="1.5"/>
<circle cx="969.1" cy="1671.1" r="5.8" fill="#6e9fd6" stroke="#4c5bb6" stroke-width="1.5"/>
<circle cx="1002.8" cy="1613.4" r="5.8" fill="#6e9fd6" stroke="#4c5bb6" stroke-width="1.5"/>
<circle cx="1002.8" cy="1634.3" r="5.8" fill="#6e9fd6" stroke="#4c5bb6" stroke-width="1.5"/>
<circle cx="1002.8" cy="1683.6" r="5.8" fill="#6e9fd6" stroke="#4c5bb6" stroke-width="1.5"/>
<circle cx="1036.4" cy="1589.7" r="5.8" fill="#6e9fd6" stroke="#4c5bb6" stroke-width="1.5"/>
<circle cx="1036.4" cy="1597.4" r="5.8" fill="#6e9fd6" stroke="#4c5bb6" stroke-width="1.5"/>
<circle cx="1036.4" cy="1652.0" r="5.8" fill="#6e9fd6" stroke="#4c5bb6" stroke-width="1.5"/>
<circle cx="1070.1" cy="1600.9" r="5.8" fill="#6e9fd6" stroke="#4c5bb6" stroke-width="1.5"/>
<circle cx="1070.1" cy="1671.4" r="5.8" fill="#6e9fd6" stroke="#4c5bb6" stroke-width="1.5"/>
<circle cx="1103.8" cy="1523.7" r="5.8" fill="#6e9fd6" stroke="#4c5bb6" stroke-width="1.5"/>
<circle cx="1103.8" cy="1554.6" r="5.8" fill="#6e9fd6" stroke="#4c5bb6" stroke-width="1.5"/>
<circle cx="1103.8" cy="1619.4" r="5.8" fill="#6e9fd6" stroke="#4c5bb6" stroke-width="1.5"/>
<circle cx="1103.8" cy="1671.4" r="5.8" fill="#6e9fd6" stroke="#4c5bb6" stroke-width="1.5"/>
<circle cx="1137.4" cy="1434.6" r="5.8" fill="#6e9fd6" stroke="#4c5bb6" stroke-width="1.5"/>
<circle cx="1137.4" cy="1548.6" r="5.8" fill="#6e9fd6" stroke="#4c5bb6" stroke-width="1.5"/>
<circle cx="1172.2" cy="1434.6" r="5.8" fill="#6e9fd6" stroke="#4c5bb6" stroke-width="1.5"/>
<circle cx="779.5" cy="1683.6" r="5.8" fill="#9a5cb4" stroke="#6f2b9c" stroke-width="1.5"/>
<circle cx="935.5" cy="1652.0" r="5.8" fill="#9a5cb4" stroke="#6f2b9c" stroke-width="1.5"/>
<circle cx="935.5" cy="1670.9" r="5.8" fill="#9a5cb4" stroke="#6f2b9c" stroke-width="1.5"/>
<circle cx="935.5" cy="1683.6" r="5.8" fill="#9a5cb4" stroke="#6f2b9c" stroke-width="1.5"/>
<circle cx="969.1" cy="1652.0" r="5.8" fill="#9a5cb4" stroke="#6f2b9c" stroke-width="1.5"/>
<circle cx="969.1" cy="1659.4" r="5.8" fill="#9a5cb4" stroke="#6f2b9c" stroke-width="1.5"/>
<circle cx="969.1" cy="1673.1" r="5.8" fill="#9a5cb4" stroke="#6f2b9c" stroke-width="1.5"/>
<circle cx="969.1" cy="1683.6" r="5.8" fill="#9a5cb4" stroke="#6f2b9c" stroke-width="1.5"/>
<circle cx="1002.8" cy="1652.0" r="5.8" fill="#9a5cb4" stroke="#6f2b9c" stroke-width="1.5"/>
<circle cx="1002.8" cy="1659.4" r="5.8" fill="#9a5cb4" stroke="#6f2b9c" stroke-width="1.5"/>
<circle cx="1002.8" cy="1671.1" r="5.8" fill="#9a5cb4" stroke="#6f2b9c" stroke-width="1.5"/>
<circle cx="1002.8" cy="1673.1" r="5.8" fill="#9a5cb4" stroke="#6f2b9c" stroke-width="1.5"/>
<circle cx="1036.4" cy="1640.8" r="5.8" fill="#9a5cb4" stroke="#6f2b9c" stroke-width="1.5"/>
<circle cx="1036.4" cy="1647.5" r="5.8" fill="#9a5cb4" stroke="#6f2b9c" stroke-width="1.5"/>
<circle cx="1036.4" cy="1658.2" r="5.8" fill="#9a5cb4" stroke="#6f2b9c" stroke-width="1.5"/>
<circle cx="1070.1" cy="1572.8" r="5.8" fill="#9a5cb4" stroke="#6f2b9c" stroke-width="1.5"/>
<circle cx="1070.1" cy="1605.7" r="5.8" fill="#9a5cb4" stroke="#6f2b9c" stroke-width="1.5"/>
<circle cx="1070.1" cy="1662.4" r="5.8" fill="#9a5cb4" stroke="#6f2b9c" stroke-width="1.5"/>
<circle cx="1103.8" cy="1585.2" r="5.8" fill="#9a5cb4" stroke="#6f2b9c" stroke-width="1.5"/>
<circle cx="1103.8" cy="1641.0" r="5.8" fill="#9a5cb4" stroke="#6f2b9c" stroke-width="1.5"/>
<circle cx="1103.8" cy="1658.0" r="5.8" fill="#9a5cb4" stroke="#6f2b9c" stroke-width="1.5"/>
<circle cx="1103.8" cy="1673.4" r="5.8" fill="#9a5cb4" stroke="#6f2b9c" stroke-width="1.5"/>
<circle cx="1137.4" cy="1528.2" r="5.8" fill="#9a5cb4" stroke="#6f2b9c" stroke-width="1.5"/>
<circle cx="1137.4" cy="1597.9" r="5.8" fill="#9a5cb4" stroke="#6f2b9c" stroke-width="1.5"/>
<circle cx="1137.4" cy="1641.0" r="5.8" fill="#9a5cb4" stroke="#6f2b9c" stroke-width="1.5"/>
<circle cx="1172.2" cy="1535.7" r="5.8" fill="#9a5cb4" stroke="#6f2b9c" stroke-width="1.5"/>
<circle cx="1172.2" cy="1541.7" r="5.8" fill="#9a5cb4" stroke="#6f2b9c" stroke-width="1.5"/>
<circle cx="1172.2" cy="1566.1" r="5.8" fill="#9a5cb4" stroke="#6f2b9c" stroke-width="1.5"/>
<circle cx="1205.9" cy="1434.6" r="5.8" fill="#9a5cb4" stroke="#6f2b9c" stroke-width="1.5"/>
<circle cx="1239.5" cy="1434.6" r="5.8" fill="#9a5cb4" stroke="#6f2b9c" stroke-width="1.5"/>
<circle cx="1273.2" cy="1434.6" r="5.8" fill="#9a5cb4" stroke="#6f2b9c" stroke-width="1.5"/>
<text x="1061.6" y="1259.8" font-size="36" text-anchor="middle">Simultaneous treatment</text>
<path d="M818.4,1333.5 L858.5,1333.5" stroke="#7d2ca6" stroke-width="1.6"/>
<circle cx="838.6" cy="1333.5" r="5.8" fill="#9a5cb4" stroke="#6f2b9c" stroke-width="1.5"/>
<path d="M818.4,1386 L858.5,1386" stroke="#5262c0" stroke-width="1.6"/>
<circle cx="838.6" cy="1386" r="5.8" fill="#6e9fd6" stroke="#4c5bb6" stroke-width="1.5"/>
<text x="870.3" y="1343.7" font-size="36">nsp5</text>
<text x="945.8" y="1331.7" font-size="20">T169I</text>
<text x="994.7" y="1343.7" font-size="36">nsp12</text>
<text x="1090.1" y="1331.7" font-size="20">V792I</text>
<text x="872.2" y="1396.0" font-size="36">WT</text>
<text x="1158.2" y="1295.4" font-size="36">IC</text>
<text x="1196.5" y="1306.4" font-size="20">50</text>
<text x="1159.5" y="1343.7" font-size="36">2.89 µM</text>
<text x="1159.5" y="1396.0" font-size="36">0.95 µM</text>
<text x="910.7" y="1784.5" font-size="36" textLength="58.0" lengthAdjust="spacingAndGlyphs">Log</text>
<text x="969.6" y="1795.3" font-size="20" textLength="20.6" lengthAdjust="spacingAndGlyphs">10</text>
<text x="990.9" y="1784.5" font-size="36" textLength="250.4" lengthAdjust="spacingAndGlyphs">[Nirmatrelvir] nM</text>
<g stroke="#2b2b2b" stroke-width="2" fill="none">
<path d="M1423.6,1308.1 L1423.6,1682.6 L1987.1,1682.6"/>
<path d="M1408.6,1682.6 L1423.6,1682.6"/>
<path d="M1408.6,1558.1 L1423.6,1558.1"/>
<path d="M1408.6,1433.6 L1423.6,1433.6"/>
<path d="M1408.6,1309.1 L1423.6,1309.1"/>
<path d="M1423.6,1682.6 L1423.6,1697.6"/>
<path d="M1536.1,1682.6 L1536.1,1697.6"/>
<path d="M1648.6,1682.6 L1648.6,1697.6"/>
<path d="M1761.1,1682.6 L1761.1,1697.6"/>
<path d="M1873.6,1682.6 L1873.6,1697.6"/>
<path d="M1986.1,1682.6 L1986.1,1697.6"/>
</g>
<text x="1401.6" y="1692.7" font-size="36" text-anchor="end">0</text>
<text x="1399.1" y="1568.2" font-size="36" text-anchor="end">50</text>
<text x="1402.6" y="1443.7" font-size="36" text-anchor="end">100</text>
<text x="1402.6" y="1319.2" font-size="36" text-anchor="end">150</text>
<text x="1424.6" y="1737.1" font-size="36" text-anchor="middle">0</text>
<text x="1537.1" y="1737.1" font-size="36" text-anchor="middle">1</text>
<text x="1649.6" y="1737.1" font-size="36" text-anchor="middle">2</text>
<text x="1762.1" y="1737.1" font-size="36" text-anchor="middle">3</text>
<text x="1874.6" y="1737.1" font-size="36" text-anchor="middle">4</text>
<text x="1987.1" y="1737.1" font-size="36" text-anchor="middle">5</text>
<polyline points="1423.6,1674.4 1424.6,1674.4 1425.6,1674.4 1426.6,1674.4 1427.6,1674.4 1428.6,1674.4 1429.6,1674.4 1430.5,1674.4 1431.5,1674.4 1432.5,1674.4 1433.5,1674.4 1434.5,1674.4 1435.5,1674.4 1436.5,1674.4 1437.5,1674.4 1438.5,1674.4 1439.5,1674.4 1440.5,1674.4 1441.5,1674.4 1442.4,1674.4 1443.4,1674.4 1444.4,1674.4 1445.4,1674.4 1446.4,1674.4 1447.4,1674.4 1448.4,1674.4 1449.4,1674.4 1450.4,1674.4 1451.4,1674.4 1452.4,1674.4 1453.4,1674.4 1454.4,1674.4 1455.3,1674.4 1456.3,1674.4 1457.3,1674.4 1458.3,1674.4 1459.3,1674.4 1460.3,1674.4 1461.3,1674.4 1462.3,1674.4 1463.3,1674.4 1464.3,1674.4 1465.3,1674.4 1466.3,1674.4 1467.2,1674.4 1468.2,1674.4 1469.2,1674.4 1470.2,1674.4 1471.2,1674.4 1472.2,1674.4 1473.2,1674.4 1474.2,1674.4 1475.2,1674.4 1476.2,1674.4 1477.2,1674.4 1478.2,1674.4 1479.2,1674.4 1480.1,1674.4 1481.1,1674.4 1482.1,1674.4 1483.1,1674.4 1484.1,1674.4 1485.1,1674.4 1486.1,1674.4 1487.1,1674.4 1488.1,1674.4 1489.1,1674.4 1490.1,1674.4 1491.1,1674.4 1492.0,1674.4 1493.0,1674.4 1494.0,1674.4 1495.0,1674.4 1496.0,1674.4 1497.0,1674.4 1498.0,1674.4 1499.0,1674.4 1500.0,1674.4 1501.0,1674.4 1502.0,1674.4 1503.0,1674.4 1504.0,1674.4 1504.9,1674.4 1505.9,1674.4 1506.9,1674.4 1507.9,1674.4 1508.9,1674.4 1509.9,1674.4 1510.9,1674.4 1511.9,1674.4 1512.9,1674.4 1513.9,1674.4 1514.9,1674.4 1515.9,1674.4 1516.8,1674.4 1517.8,1674.4 1518.8,1674.4 1519.8,1674.4 1520.8,1674.4 1521.8,1674.4 1522.8,1674.4 1523.8,1674.4 1524.8,1674.4 1525.8,1674.4 1526.8,1674.4 1527.8,1674.4 1528.8,1674.4 1529.7,1674.4 1530.7,1674.4 1531.7,1674.4 1532.7,1674.4 1533.7,1674.4 1534.7,1674.4 1535.7,1674.4 1536.7,1674.4 1537.7,1674.4 1538.7,1674.4 1539.7,1674.4 1540.7,1674.4 1541.6,1674.4 1542.6,1674.4 1543.6,1674.4 1544.6,1674.4 1545.6,1674.4 1546.6,1674.4 1547.6,1674.4 1548.6,1674.4 1549.6,1674.4 1550.6,1674.4 1551.6,1674.4 1552.6,1674.4 1553.5,1674.4 1554.5,1674.4 1555.5,1674.4 1556.5,1674.4 1557.5,1674.4 1558.5,1674.4 1559.5,1674.4 1560.5,1674.4 1561.5,1674.4 1562.5,1674.4 1563.5,1674.4 1564.5,1674.4 1565.5,1674.4 1566.4,1674.4 1567.4,1674.4 1568.4,1674.4 1569.4,1674.4 1570.4,1674.4 1571.4,1674.4 1572.4,1674.4 1573.4,1674.4 1574.4,1674.4 1575.4,1674.4 1576.4,1674.4 1577.4,1674.4 1578.3,1674.4 1579.3,1674.4 1580.3,1674.4 1581.3,1674.4 1582.3,1674.4 1583.3,1674.4 1584.3,1674.4 1585.3,1674.4 1586.3,1674.4 1587.3,1674.4 1588.3,1674.4 1589.3,1674.4 1590.3,1674.4 1591.2,1674.4 1592.2,1674.4 1593.2,1674.4 1594.2,1674.4 1595.2,1674.4 1596.2,1674.4 1597.2,1674.4 1598.2,1674.4 1599.2,1674.4 1600.2,1674.4 1601.2,1674.4 1602.2,1674.4 1603.1,1674.4 1604.1,1674.4 1605.1,1674.4 1606.1,1674.4 1607.1,1674.4 1608.1,1674.4 1609.1,1674.4 1610.1,1674.4 1611.1,1674.4 1612.1,1674.4 1613.1,1674.4 1614.1,1674.4 1615.1,1674.4 1616.0,1674.4 1617.0,1674.4 1618.0,1674.4 1619.0,1674.4 1620.0,1674.4 1621.0,1674.4 1622.0,1674.4 1623.0,1674.4 1624.0,1674.4 1625.0,1674.4 1626.0,1674.4 1627.0,1674.4 1627.9,1674.4 1628.9,1674.4 1629.9,1674.4 1630.9,1674.4 1631.9,1674.4 1632.9,1674.4 1633.9,1674.4 1634.9,1674.4 1635.9,1674.4 1636.9,1674.4 1637.9,1674.4 1638.9,1674.4 1639.9,1674.4 1640.8,1674.4 1641.8,1674.4 1642.8,1674.4 1643.8,1674.4 1644.8,1674.4 1645.8,1674.4 1646.8,1674.4 1647.8,1674.4 1648.8,1674.4 1649.8,1674.4 1650.8,1674.4 1651.8,1674.4 1652.7,1674.4 1653.7,1674.4 1654.7,1674.4 1655.7,1674.4 1656.7,1674.4 1657.7,1674.4 1658.7,1674.4 1659.7,1674.4 1660.7,1674.4 1661.7,1674.4 1662.7,1674.4 1663.7,1674.4 1664.7,1674.4 1665.6,1674.4 1666.6,1674.4 1667.6,1674.4 1668.6,1674.4 1669.6,1674.4 1670.6,1674.4 1671.6,1674.4 1672.6,1674.4 1673.6,1674.4 1674.6,1674.4 1675.6,1674.4 1676.6,1674.4 1677.5,1674.4 1678.5,1674.4 1679.5,1674.4 1680.5,1674.4 1681.5,1674.4 1682.5,1674.4 1683.5,1674.4 1684.5,1674.4 1685.5,1674.4 1686.5,1674.4 1687.5,1674.4 1688.5,1674.4 1689.5,1674.4 1690.4,1674.4 1691.4,1674.3 1692.4,1674.3 1693.4,1674.3 1694.4,1674.3 1695.4,1674.3 1696.4,1674.3 1697.4,1674.3 1698.4,1674.3 1699.4,1674.3 1700.4,1674.3 1701.4,1674.3 1702.3,1674.3 1703.3,1674.3 1704.3,1674.3 1705.3,1674.3 1706.3,1674.3 1707.3,1674.2 1708.3,1674.2 1709.3,1674.2 1710.3,1674.2 1711.3,1674.2 1712.3,1674.2 1713.3,1674.2 1714.3,1674.2 1715.2,1674.1 1716.2,1674.1 1717.2,1674.1 1718.2,1674.1 1719.2,1674.1 1720.2,1674.1 1721.2,1674.0 1722.2,1674.0 1723.2,1674.0 1724.2,1674.0 1725.2,1673.9 1726.2,1673.9 1727.1,1673.9 1728.1,1673.8 1729.1,1673.8 1730.1,1673.7 1731.1,1673.7 1732.1,1673.7 1733.1,1673.6 1734.1,1673.6 1735.1,1673.5 1736.1,1673.4 1737.1,1673.4 1738.1,1673.3 1739.1,1673.2 1740.0,1673.2 1741.0,1673.1 1742.0,1673.0 1743.0,1672.9 1744.0,1672.8 1745.0,1672.7 1746.0,1672.6 1747.0,1672.5 1748.0,1672.4 1749.0,1672.2 1750.0,1672.1 1751.0,1672.0 1751.9,1671.8 1752.9,1671.6 1753.9,1671.5 1754.9,1671.3 1755.9,1671.1 1756.9,1670.9 1757.9,1670.6 1758.9,1670.4 1759.9,1670.2 1760.9,1669.9 1761.9,1669.6 1762.9,1669.3 1763.9,1669.0 1764.8,1668.6 1765.8,1668.3 1766.8,1667.9 1767.8,1667.5 1768.8,1667.1 1769.8,1666.6 1770.8,1666.1 1771.8,1665.6 1772.8,1665.1 1773.8,1664.5 1774.8,1663.9 1775.8,1663.2 1776.7,1662.5 1777.7,1661.8 1778.7,1661.0 1779.7,1660.2 1780.7,1659.4 1781.7,1658.5 1782.7,1657.5 1783.7,1656.5 1784.7,1655.5 1785.7,1654.3 1786.7,1653.2 1787.7,1651.9 1788.7,1650.6 1789.6,1649.2 1790.6,1647.8 1791.6,1646.3 1792.6,1644.7 1793.6,1643.0 1794.6,1641.3 1795.6,1639.4 1796.6,1637.5 1797.6,1635.5 1798.6,1633.5 1799.6,1631.3 1800.6,1629.0 1801.5,1626.7 1802.5,1624.2 1803.5,1621.7 1804.5,1619.1 1805.5,1616.4 1806.5,1613.6 1807.5,1610.7 1808.5,1607.7 1809.5,1604.6 1810.5,1601.5 1811.5,1598.2 1812.5,1594.9 1813.4,1591.6 1814.4,1588.1 1815.4,1584.6 1816.4,1581.0 1817.4,1577.4 1818.4,1573.7 1819.4,1570.0 1820.4,1566.3 1821.4,1562.5 1822.4,1558.7 1823.4,1554.9 1824.4,1551.1 1825.4,1547.3 1826.3,1543.5 1827.3,1539.7 1828.3,1535.9 1829.3,1532.2 1830.3,1528.5 1831.3,1524.9 1832.3,1521.3 1833.3,1517.7 1834.3,1514.3 1835.3,1510.8 1836.3,1507.5 1837.3,1504.2 1838.2,1501.0 1839.2,1497.9 1840.2,1494.9 1841.2,1492.0 1842.2,1489.1 1843.2,1486.4 1844.2,1483.7 1845.2,1481.1 1846.2,1478.7 1847.2,1476.3 1848.2,1474.0 1849.2,1471.8 1850.2,1469.6 1851.1,1467.6 1852.1,1465.6 1853.1,1463.8 1854.1,1462.0 1855.1,1460.3 1856.1,1458.7 1857.1,1457.1 1858.1,1455.6 1859.1,1454.2 1860.1,1452.9 1861.1,1451.6 1862.1,1450.4 1863.0,1449.3 1864.0,1448.2 1865.0,1447.1 1866.0,1446.2 1867.0,1445.2 1868.0,1444.4 1869.0,1443.5 1870.0,1442.7 1871.0,1442.0 1872.0,1441.3 1873.0,1440.6 1874.0,1440.0 1875.0,1439.4 1875.9,1438.9 1876.9,1438.3 1877.9,1437.8 1878.9,1437.4 1879.9,1436.9 1880.9,1436.5 1881.9,1436.1 1882.9,1435.7 1883.9,1435.4 1884.9,1435.0 1885.9,1434.7 1886.9,1434.4 1887.8,1434.2 1888.8,1433.9 1889.8,1433.7 1890.8,1433.4 1891.8,1433.2 1892.8,1433.0 1893.8,1432.8 1894.8,1432.6 1895.8,1432.5 1896.8,1432.3 1897.8,1432.2 1898.8,1432.0 1899.8,1431.9 1900.7,1431.8 1901.7,1431.6 1902.7,1431.5 1903.7,1431.4 1904.7,1431.3 1905.7,1431.2 1906.7,1431.1 1907.7,1431.1 1908.7,1431.0 1909.7,1430.9 1910.7,1430.8 1911.7,1430.8 1912.6,1430.7 1913.6,1430.7 1914.6,1430.6 1915.6,1430.6 1916.6,1430.5 1917.6,1430.5 1918.6,1430.4" fill="none" stroke="#7d2ca6" stroke-width="1.45"/>
<polyline points="1423.6,1668.5 1424.6,1668.5 1425.6,1668.5 1426.6,1668.5 1427.6,1668.5 1428.6,1668.5 1429.6,1668.5 1430.5,1668.5 1431.5,1668.5 1432.5,1668.5 1433.5,1668.5 1434.5,1668.5 1435.5,1668.5 1436.5,1668.5 1437.5,1668.5 1438.5,1668.5 1439.5,1668.5 1440.5,1668.5 1441.5,1668.5 1442.4,1668.5 1443.4,1668.5 1444.4,1668.5 1445.4,1668.5 1446.4,1668.5 1447.4,1668.5 1448.4,1668.5 1449.4,1668.5 1450.4,1668.5 1451.4,1668.5 1452.4,1668.5 1453.4,1668.5 1454.4,1668.5 1455.3,1668.5 1456.3,1668.5 1457.3,1668.5 1458.3,1668.5 1459.3,1668.5 1460.3,1668.5 1461.3,1668.5 1462.3,1668.5 1463.3,1668.5 1464.3,1668.5 1465.3,1668.5 1466.3,1668.5 1467.2,1668.5 1468.2,1668.5 1469.2,1668.5 1470.2,1668.5 1471.2,1668.5 1472.2,1668.5 1473.2,1668.5 1474.2,1668.5 1475.2,1668.5 1476.2,1668.5 1477.2,1668.5 1478.2,1668.5 1479.2,1668.5 1480.1,1668.5 1481.1,1668.5 1482.1,1668.5 1483.1,1668.5 1484.1,1668.5 1485.1,1668.5 1486.1,1668.5 1487.1,1668.5 1488.1,1668.5 1489.1,1668.5 1490.1,1668.5 1491.1,1668.5 1492.0,1668.5 1493.0,1668.5 1494.0,1668.5 1495.0,1668.5 1496.0,1668.5 1497.0,1668.5 1498.0,1668.5 1499.0,1668.5 1500.0,1668.5 1501.0,1668.5 1502.0,1668.5 1503.0,1668.5 1504.0,1668.5 1504.9,1668.5 1505.9,1668.5 1506.9,1668.5 1507.9,1668.5 1508.9,1668.5 1509.9,1668.5 1510.9,1668.5 1511.9,1668.5 1512.9,1668.5 1513.9,1668.5 1514.9,1668.5 1515.9,1668.5 1516.8,1668.5 1517.8,1668.5 1518.8,1668.5 1519.8,1668.5 1520.8,1668.5 1521.8,1668.5 1522.8,1668.5 1523.8,1668.5 1524.8,1668.5 1525.8,1668.5 1526.8,1668.5 1527.8,1668.5 1528.8,1668.5 1529.7,1668.5 1530.7,1668.5 1531.7,1668.5 1532.7,1668.5 1533.7,1668.5 1534.7,1668.5 1535.7,1668.5 1536.7,1668.5 1537.7,1668.5 1538.7,1668.5 1539.7,1668.5 1540.7,1668.5 1541.6,1668.5 1542.6,1668.5 1543.6,1668.5 1544.6,1668.5 1545.6,1668.5 1546.6,1668.5 1547.6,1668.5 1548.6,1668.5 1549.6,1668.5 1550.6,1668.5 1551.6,1668.5 1552.6,1668.5 1553.5,1668.5 1554.5,1668.5 1555.5,1668.5 1556.5,1668.5 1557.5,1668.5 1558.5,1668.5 1559.5,1668.5 1560.5,1668.5 1561.5,1668.5 1562.5,1668.5 1563.5,1668.5 1564.5,1668.5 1565.5,1668.5 1566.4,1668.5 1567.4,1668.5 1568.4,1668.5 1569.4,1668.5 1570.4,1668.5 1571.4,1668.5 1572.4,1668.5 1573.4,1668.5 1574.4,1668.5 1575.4,1668.5 1576.4,1668.5 1577.4,1668.5 1578.3,1668.5 1579.3,1668.5 1580.3,1668.5 1581.3,1668.5 1582.3,1668.5 1583.3,1668.5 1584.3,1668.5 1585.3,1668.5 1586.3,1668.4 1587.3,1668.4 1588.3,1668.4 1589.3,1668.4 1590.3,1668.4 1591.2,1668.4 1592.2,1668.4 1593.2,1668.4 1594.2,1668.4 1595.2,1668.4 1596.2,1668.4 1597.2,1668.4 1598.2,1668.4 1599.2,1668.4 1600.2,1668.4 1601.2,1668.4 1602.2,1668.4 1603.1,1668.4 1604.1,1668.4 1605.1,1668.4 1606.1,1668.3 1607.1,1668.3 1608.1,1668.3 1609.1,1668.3 1610.1,1668.3 1611.1,1668.3 1612.1,1668.3 1613.1,1668.3 1614.1,1668.3 1615.1,1668.3 1616.0,1668.3 1617.0,1668.3 1618.0,1668.2 1619.0,1668.2 1620.0,1668.2 1621.0,1668.2 1622.0,1668.2 1623.0,1668.2 1624.0,1668.2 1625.0,1668.1 1626.0,1668.1 1627.0,1668.1 1627.9,1668.1 1628.9,1668.1 1629.9,1668.1 1630.9,1668.0 1631.9,1668.0 1632.9,1668.0 1633.9,1668.0 1634.9,1668.0 1635.9,1667.9 1636.9,1667.9 1637.9,1667.9 1638.9,1667.9 1639.9,1667.8 1640.8,1667.8 1641.8,1667.8 1642.8,1667.8 1643.8,1667.7 1644.8,1667.7 1645.8,1667.7 1646.8,1667.6 1647.8,1667.6 1648.8,1667.6 1649.8,1667.5 1650.8,1667.5 1651.8,1667.4 1652.7,1667.4 1653.7,1667.3 1654.7,1667.3 1655.7,1667.3 1656.7,1667.2 1657.7,1667.1 1658.7,1667.1 1659.7,1667.0 1660.7,1667.0 1661.7,1666.9 1662.7,1666.9 1663.7,1666.8 1664.7,1666.7 1665.6,1666.6 1666.6,1666.6 1667.6,1666.5 1668.6,1666.4 1669.6,1666.3 1670.6,1666.2 1671.6,1666.2 1672.6,1666.1 1673.6,1666.0 1674.6,1665.9 1675.6,1665.8 1676.6,1665.7 1677.5,1665.5 1678.5,1665.4 1679.5,1665.3 1680.5,1665.2 1681.5,1665.0 1682.5,1664.9 1683.5,1664.8 1684.5,1664.6 1685.5,1664.5 1686.5,1664.3 1687.5,1664.1 1688.5,1664.0 1689.5,1663.8 1690.4,1663.6 1691.4,1663.4 1692.4,1663.2 1693.4,1663.0 1694.4,1662.8 1695.4,1662.6 1696.4,1662.3 1697.4,1662.1 1698.4,1661.8 1699.4,1661.6 1700.4,1661.3 1701.4,1661.0 1702.3,1660.8 1703.3,1660.5 1704.3,1660.1 1705.3,1659.8 1706.3,1659.5 1707.3,1659.1 1708.3,1658.8 1709.3,1658.4 1710.3,1658.0 1711.3,1657.6 1712.3,1657.2 1713.3,1656.8 1714.3,1656.4 1715.2,1655.9 1716.2,1655.4 1717.2,1654.9 1718.2,1654.4 1719.2,1653.9 1720.2,1653.3 1721.2,1652.8 1722.2,1652.2 1723.2,1651.6 1724.2,1651.0 1725.2,1650.3 1726.2,1649.6 1727.1,1649.0 1728.1,1648.2 1729.1,1647.5 1730.1,1646.7 1731.1,1646.0 1732.1,1645.1 1733.1,1644.3 1734.1,1643.4 1735.1,1642.6 1736.1,1641.6 1737.1,1640.7 1738.1,1639.7 1739.1,1638.7 1740.0,1637.7 1741.0,1636.6 1742.0,1635.5 1743.0,1634.4 1744.0,1633.2 1745.0,1632.0 1746.0,1630.8 1747.0,1629.5 1748.0,1628.2 1749.0,1626.9 1750.0,1625.6 1751.0,1624.2 1751.9,1622.7 1752.9,1621.3 1753.9,1619.7 1754.9,1618.2 1755.9,1616.6 1756.9,1615.0 1757.9,1613.4 1758.9,1611.7 1759.9,1610.0 1760.9,1608.2 1761.9,1606.4 1762.9,1604.6 1763.9,1602.8 1764.8,1600.9 1765.8,1598.9 1766.8,1597.0 1767.8,1595.0 1768.8,1593.0 1769.8,1590.9 1770.8,1588.9 1771.8,1586.8 1772.8,1584.6 1773.8,1582.5 1774.8,1580.3 1775.8,1578.1 1776.7,1575.8 1777.7,1573.6 1778.7,1571.3 1779.7,1569.0 1780.7,1566.7 1781.7,1564.4 1782.7,1562.1 1783.7,1559.7 1784.7,1557.4 1785.7,1555.0 1786.7,1552.6 1787.7,1550.3 1788.7,1547.9 1789.6,1545.5 1790.6,1543.1 1791.6,1540.8 1792.6,1538.4 1793.6,1536.0 1794.6,1533.7 1795.6,1531.3 1796.6,1529.0 1797.6,1526.7 1798.6,1524.4 1799.6,1522.1 1800.6,1519.8 1801.5,1517.5 1802.5,1515.3 1803.5,1513.1 1804.5,1510.9 1805.5,1508.7 1806.5,1506.6 1807.5,1504.5 1808.5,1502.4 1809.5,1500.4 1810.5,1498.3 1811.5,1496.3 1812.5,1494.4 1813.4,1492.5 1814.4,1490.6 1815.4,1488.7 1816.4,1486.9 1817.4,1485.1 1818.4,1483.3 1819.4,1481.6 1820.4,1479.9 1821.4,1478.3 1822.4,1476.6 1823.4,1475.1 1824.4,1473.5 1825.4,1472.0 1826.3,1470.5 1827.3,1469.1 1828.3,1467.7 1829.3,1466.3 1830.3,1465.0 1831.3,1463.7 1832.3,1462.4 1833.3,1461.2 1834.3,1460.0 1835.3,1458.8 1836.3,1457.7 1837.3,1456.6 1838.2,1455.5 1839.2,1454.5 1840.2,1453.5 1841.2,1452.5 1842.2,1451.5 1843.2,1450.6 1844.2,1449.7 1845.2,1448.8 1846.2,1448.0 1847.2,1447.2 1848.2,1446.4 1849.2,1445.6 1850.2,1444.9 1851.1,1444.2 1852.1,1443.5 1853.1,1442.8 1854.1,1442.2 1855.1,1441.5 1856.1,1440.9 1857.1,1440.3 1858.1,1439.8 1859.1,1439.2 1860.1,1438.7 1861.1,1438.2 1862.1,1437.7 1863.0,1437.2 1864.0,1436.7 1865.0,1436.3 1866.0,1435.9 1867.0,1435.4 1868.0,1435.0 1869.0,1434.7 1870.0,1434.3 1871.0,1433.9 1872.0,1433.6 1873.0,1433.2 1874.0,1432.9 1875.0,1432.6 1875.9,1432.3 1876.9,1432.0 1877.9,1431.7 1878.9,1431.5 1879.9,1431.2 1880.9,1431.0 1881.9,1430.7 1882.9,1430.5 1883.9,1430.3 1884.9,1430.0 1885.9,1429.8 1886.9,1429.6 1887.8,1429.4 1888.8,1429.3 1889.8,1429.1 1890.8,1428.9 1891.8,1428.7 1892.8,1428.6 1893.8,1428.4 1894.8,1428.3 1895.8,1428.1 1896.8,1428.0 1897.8,1427.9 1898.8,1427.7 1899.8,1427.6 1900.7,1427.5 1901.7,1427.4 1902.7,1427.3 1903.7,1427.2 1904.7,1427.1 1905.7,1427.0 1906.7,1426.9 1907.7,1426.8 1908.7,1426.7 1909.7,1426.6 1910.7,1426.5 1911.7,1426.5 1912.6,1426.4 1913.6,1426.3 1914.6,1426.2 1915.6,1426.2 1916.6,1426.1 1917.6,1426.0 1918.6,1426.0" fill="none" stroke="#5262c0" stroke-width="1.45"/>
<circle cx="1580.0" cy="1615.6" r="5.8" fill="#6e9fd6" stroke="#4c5bb6" stroke-width="1.5"/>
<circle cx="1580.0" cy="1669.4" r="5.8" fill="#6e9fd6" stroke="#4c5bb6" stroke-width="1.5"/>
<circle cx="1613.7" cy="1615.6" r="5.8" fill="#6e9fd6" stroke="#4c5bb6" stroke-width="1.5"/>
<circle cx="1647.5" cy="1640.3" r="5.8" fill="#6e9fd6" stroke="#4c5bb6" stroke-width="1.5"/>
<circle cx="1647.5" cy="1649.2" r="5.8" fill="#6e9fd6" stroke="#4c5bb6" stroke-width="1.5"/>
<circle cx="1681.2" cy="1612.4" r="5.8" fill="#6e9fd6" stroke="#4c5bb6" stroke-width="1.5"/>
<circle cx="1681.2" cy="1626.8" r="5.8" fill="#6e9fd6" stroke="#4c5bb6" stroke-width="1.5"/>
<circle cx="1681.2" cy="1645.5" r="5.8" fill="#6e9fd6" stroke="#4c5bb6" stroke-width="1.5"/>
<circle cx="1715.0" cy="1615.6" r="5.8" fill="#6e9fd6" stroke="#4c5bb6" stroke-width="1.5"/>
<circle cx="1715.0" cy="1646.2" r="5.8" fill="#6e9fd6" stroke="#4c5bb6" stroke-width="1.5"/>
<circle cx="1715.0" cy="1659.4" r="5.8" fill="#6e9fd6" stroke="#4c5bb6" stroke-width="1.5"/>
<circle cx="1748.7" cy="1592.5" r="5.8" fill="#6e9fd6" stroke="#4c5bb6" stroke-width="1.5"/>
<circle cx="1748.7" cy="1596.4" r="5.8" fill="#6e9fd6" stroke="#4c5bb6" stroke-width="1.5"/>
<circle cx="1748.7" cy="1608.9" r="5.8" fill="#6e9fd6" stroke="#4c5bb6" stroke-width="1.5"/>
<circle cx="1748.7" cy="1612.6" r="5.8" fill="#6e9fd6" stroke="#4c5bb6" stroke-width="1.5"/>
<circle cx="1748.7" cy="1623.8" r="5.8" fill="#6e9fd6" stroke="#4c5bb6" stroke-width="1.5"/>
<circle cx="1782.5" cy="1514.8" r="5.8" fill="#6e9fd6" stroke="#4c5bb6" stroke-width="1.5"/>
<circle cx="1782.5" cy="1559.6" r="5.8" fill="#6e9fd6" stroke="#4c5bb6" stroke-width="1.5"/>
<circle cx="1782.5" cy="1576.3" r="5.8" fill="#6e9fd6" stroke="#4c5bb6" stroke-width="1.5"/>
<circle cx="1782.5" cy="1584.5" r="5.8" fill="#6e9fd6" stroke="#4c5bb6" stroke-width="1.5"/>
<circle cx="1782.5" cy="1636.0" r="5.8" fill="#6e9fd6" stroke="#4c5bb6" stroke-width="1.5"/>
<circle cx="1817.3" cy="1433.6" r="5.8" fill="#6e9fd6" stroke="#4c5bb6" stroke-width="1.5"/>
<circle cx="1817.3" cy="1542.2" r="5.8" fill="#6e9fd6" stroke="#4c5bb6" stroke-width="1.5"/>
<circle cx="1817.3" cy="1544.2" r="5.8" fill="#6e9fd6" stroke="#4c5bb6" stroke-width="1.5"/>
<circle cx="1423.6" cy="1682.6" r="5.8" fill="#9a5cb4" stroke="#6f2b9c" stroke-width="1.5"/>
<circle cx="1580.0" cy="1672.1" r="5.8" fill="#9a5cb4" stroke="#6f2b9c" stroke-width="1.5"/>
<circle cx="1580.0" cy="1682.6" r="5.8" fill="#9a5cb4" stroke="#6f2b9c" stroke-width="1.5"/>
<circle cx="1613.7" cy="1662.7" r="5.8" fill="#9a5cb4" stroke="#6f2b9c" stroke-width="1.5"/>
<circle cx="1613.7" cy="1672.1" r="5.8" fill="#9a5cb4" stroke="#6f2b9c" stroke-width="1.5"/>
<circle cx="1613.7" cy="1682.6" r="5.8" fill="#9a5cb4" stroke="#6f2b9c" stroke-width="1.5"/>
<circle cx="1647.5" cy="1658.7" r="5.8" fill="#9a5cb4" stroke="#6f2b9c" stroke-width="1.5"/>
<circle cx="1647.5" cy="1661.7" r="5.8" fill="#9a5cb4" stroke="#6f2b9c" stroke-width="1.5"/>
<circle cx="1647.5" cy="1672.4" r="5.8" fill="#9a5cb4" stroke="#6f2b9c" stroke-width="1.5"/>
<circle cx="1647.5" cy="1682.6" r="5.8" fill="#9a5cb4" stroke="#6f2b9c" stroke-width="1.5"/>
<circle cx="1681.2" cy="1652.0" r="5.8" fill="#9a5cb4" stroke="#6f2b9c" stroke-width="1.5"/>
<circle cx="1681.2" cy="1671.6" r="5.8" fill="#9a5cb4" stroke="#6f2b9c" stroke-width="1.5"/>
<circle cx="1681.2" cy="1682.6" r="5.8" fill="#9a5cb4" stroke="#6f2b9c" stroke-width="1.5"/>
<circle cx="1715.0" cy="1631.3" r="5.8" fill="#9a5cb4" stroke="#6f2b9c" stroke-width="1.5"/>
<circle cx="1715.0" cy="1640.8" r="5.8" fill="#9a5cb4" stroke="#6f2b9c" stroke-width="1.5"/>
<circle cx="1715.0" cy="1670.4" r="5.8" fill="#9a5cb4" stroke="#6f2b9c" stroke-width="1.5"/>
<circle cx="1715.0" cy="1672.4" r="5.8" fill="#9a5cb4" stroke="#6f2b9c" stroke-width="1.5"/>
<circle cx="1715.0" cy="1682.6" r="5.8" fill="#9a5cb4" stroke="#6f2b9c" stroke-width="1.5"/>
<circle cx="1748.7" cy="1631.3" r="5.8" fill="#9a5cb4" stroke="#6f2b9c" stroke-width="1.5"/>
<circle cx="1748.7" cy="1661.7" r="5.8" fill="#9a5cb4" stroke="#6f2b9c" stroke-width="1.5"/>
<circle cx="1748.7" cy="1670.9" r="5.8" fill="#9a5cb4" stroke="#6f2b9c" stroke-width="1.5"/>
<circle cx="1748.7" cy="1682.6" r="5.8" fill="#9a5cb4" stroke="#6f2b9c" stroke-width="1.5"/>
<circle cx="1782.5" cy="1629.3" r="5.8" fill="#9a5cb4" stroke="#6f2b9c" stroke-width="1.5"/>
<circle cx="1782.5" cy="1631.3" r="5.8" fill="#9a5cb4" stroke="#6f2b9c" stroke-width="1.5"/>
<circle cx="1782.5" cy="1651.2" r="5.8" fill="#9a5cb4" stroke="#6f2b9c" stroke-width="1.5"/>
<circle cx="1782.5" cy="1662.7" r="5.8" fill="#9a5cb4" stroke="#6f2b9c" stroke-width="1.5"/>
<circle cx="1782.5" cy="1671.4" r="5.8" fill="#9a5cb4" stroke="#6f2b9c" stroke-width="1.5"/>
<circle cx="1817.3" cy="1565.8" r="5.8" fill="#9a5cb4" stroke="#6f2b9c" stroke-width="1.5"/>
<circle cx="1817.3" cy="1576.3" r="5.8" fill="#9a5cb4" stroke="#6f2b9c" stroke-width="1.5"/>
<circle cx="1817.3" cy="1581.3" r="5.8" fill="#9a5cb4" stroke="#6f2b9c" stroke-width="1.5"/>
<circle cx="1817.3" cy="1590.7" r="5.8" fill="#9a5cb4" stroke="#6f2b9c" stroke-width="1.5"/>
<circle cx="1817.3" cy="1597.4" r="5.8" fill="#9a5cb4" stroke="#6f2b9c" stroke-width="1.5"/>
<circle cx="1851.1" cy="1433.6" r="5.8" fill="#9a5cb4" stroke="#6f2b9c" stroke-width="1.5"/>
<circle cx="1851.1" cy="1523.5" r="5.8" fill="#9a5cb4" stroke="#6f2b9c" stroke-width="1.5"/>
<circle cx="1851.1" cy="1533.0" r="5.8" fill="#9a5cb4" stroke="#6f2b9c" stroke-width="1.5"/>
<circle cx="1884.8" cy="1433.6" r="5.8" fill="#9a5cb4" stroke="#6f2b9c" stroke-width="1.5"/>
<circle cx="1918.6" cy="1433.6" r="5.8" fill="#9a5cb4" stroke="#6f2b9c" stroke-width="1.5"/>
<text x="1706.9" y="1260.6" font-size="36" text-anchor="middle">Post-treatment</text>
<path d="M1463.6,1332.8 L1502.7,1332.8" stroke="#7d2ca6" stroke-width="1.6"/>
<circle cx="1483.3" cy="1332.8" r="5.8" fill="#9a5cb4" stroke="#6f2b9c" stroke-width="1.5"/>
<path d="M1463.6,1385.3 L1502.7,1385.3" stroke="#5262c0" stroke-width="1.6"/>
<circle cx="1483.3" cy="1385.3" r="5.8" fill="#6e9fd6" stroke="#4c5bb6" stroke-width="1.5"/>
<text x="1514.4" y="1343.4" font-size="36">nsp5</text>
<text x="1589.9" y="1331.4" font-size="20">T169I</text>
<text x="1638.8" y="1343.4" font-size="36">nsp12</text>
<text x="1734.2" y="1331.4" font-size="20">V792I</text>
<text x="1516.3" y="1395.9" font-size="36">WT</text>
<text x="1814.4" y="1296.0" font-size="36">IC</text>
<text x="1852.7" y="1307.0" font-size="20">50</text>
<text x="1815.7" y="1343.4" font-size="36">3.62 µM</text>
<text x="1815.7" y="1395.9" font-size="36">1.67 µM</text>
<text x="1555.7" y="1784.5" font-size="36" textLength="58.0" lengthAdjust="spacingAndGlyphs">Log</text>
<text x="1614.6" y="1795.3" font-size="20" textLength="20.6" lengthAdjust="spacingAndGlyphs">10</text>
<text x="1635.9" y="1784.5" font-size="36" textLength="250.4" lengthAdjust="spacingAndGlyphs">[Nirmatrelvir] nM</text>
</g>
<g id="panel-c">
<text x="3.5" y="1871.5" font-size="40" font-weight="bold" textLength="20.4" lengthAdjust="spacingAndGlyphs">c</text>
<g stroke="#2b2b2b" stroke-width="2" fill="none">
<path d="M141.4,1934.5 L141.4,2309 L700.9999999999999,2309"/>
<path d="M126.4,2309.0 L141.4,2309.0"/>
<path d="M126.4,2184.5 L141.4,2184.5"/>
<path d="M126.4,2060.0 L141.4,2060.0"/>
<path d="M126.4,1935.5 L141.4,1935.5"/>
<path d="M141.4,2309 L141.4,2324"/>
<path d="M327.6,2309 L327.6,2324"/>
<path d="M513.8,2309 L513.8,2324"/>
<path d="M700.0,2309 L700.0,2324"/>
</g>
<text x="111.9" y="2319.1" font-size="36" text-anchor="end">0</text>
<text x="116.9" y="2194.6" font-size="36" text-anchor="end">50</text>
<text x="120.4" y="2070.1" font-size="36" text-anchor="end">100</text>
<text x="120.4" y="1945.6" font-size="36" text-anchor="end">150</text>
<text x="142.4" y="2363.5" font-size="36" text-anchor="middle">0</text>
<text x="328.6" y="2363.5" font-size="36" text-anchor="middle">2</text>
<text x="514.8" y="2363.5" font-size="36" text-anchor="middle">4</text>
<text x="701.0" y="2363.5" font-size="36" text-anchor="middle">6</text>
<polyline points="141.4,2301.3 142.3,2301.3 143.3,2301.3 144.2,2301.3 145.1,2301.3 146.1,2301.3 147.0,2301.3 147.9,2301.3 148.9,2301.3 149.8,2301.3 150.7,2301.3 151.7,2301.3 152.6,2301.3 153.5,2301.3 154.5,2301.3 155.4,2301.3 156.3,2301.3 157.3,2301.3 158.2,2301.3 159.1,2301.3 160.1,2301.3 161.0,2301.3 161.9,2301.3 162.9,2301.3 163.8,2301.3 164.7,2301.3 165.7,2301.3 166.6,2301.3 167.5,2301.3 168.5,2301.3 169.4,2301.3 170.3,2301.3 171.3,2301.3 172.2,2301.3 173.1,2301.3 174.1,2301.3 175.0,2301.3 175.9,2301.3 176.8,2301.3 177.8,2301.3 178.7,2301.3 179.6,2301.3 180.6,2301.3 181.5,2301.3 182.4,2301.3 183.4,2301.3 184.3,2301.3 185.2,2301.3 186.2,2301.3 187.1,2301.3 188.0,2301.3 189.0,2301.3 189.9,2301.3 190.8,2301.3 191.8,2301.3 192.7,2301.3 193.6,2301.3 194.6,2301.3 195.5,2301.3 196.4,2301.3 197.4,2301.3 198.3,2301.3 199.2,2301.3 200.2,2301.3 201.1,2301.3 202.0,2301.3 203.0,2301.3 203.9,2301.3 204.8,2301.3 205.8,2301.3 206.7,2301.3 207.6,2301.3 208.6,2301.3 209.5,2301.3 210.4,2301.3 211.4,2301.3 212.3,2301.3 213.2,2301.3 214.2,2301.3 215.1,2301.3 216.0,2301.3 217.0,2301.3 217.9,2301.3 218.8,2301.3 219.8,2301.3 220.7,2301.3 221.6,2301.3 222.6,2301.3 223.5,2301.3 224.4,2301.3 225.4,2301.3 226.3,2301.3 227.2,2301.3 228.2,2301.3 229.1,2301.3 230.0,2301.3 231.0,2301.3 231.9,2301.3 232.8,2301.3 233.8,2301.3 234.7,2301.3 235.6,2301.3 236.6,2301.3 237.5,2301.3 238.4,2301.3 239.4,2301.3 240.3,2301.3 241.2,2301.3 242.1,2301.3 243.1,2301.3 244.0,2301.3 244.9,2301.3 245.9,2301.3 246.8,2301.3 247.7,2301.3 248.7,2301.3 249.6,2301.3 250.5,2301.3 251.5,2301.3 252.4,2301.3 253.3,2301.3 254.3,2301.3 255.2,2301.3 256.1,2301.3 257.1,2301.3 258.0,2301.3 258.9,2301.3 259.9,2301.3 260.8,2301.3 261.7,2301.3 262.7,2301.3 263.6,2301.3 264.5,2301.3 265.5,2301.3 266.4,2301.3 267.3,2301.3 268.3,2301.3 269.2,2301.3 270.1,2301.3 271.1,2301.3 272.0,2301.3 272.9,2301.3 273.9,2301.3 274.8,2301.3 275.7,2301.3 276.7,2301.3 277.6,2301.3 278.5,2301.3 279.5,2301.3 280.4,2301.3 281.3,2301.3 282.3,2301.3 283.2,2301.3 284.1,2301.3 285.1,2301.3 286.0,2301.3 286.9,2301.3 287.9,2301.3 288.8,2301.3 289.7,2301.3 290.7,2301.3 291.6,2301.3 292.5,2301.3 293.5,2301.3 294.4,2301.3 295.3,2301.3 296.3,2301.3 297.2,2301.3 298.1,2301.3 299.1,2301.3 300.0,2301.3 300.9,2301.3 301.9,2301.3 302.8,2301.3 303.7,2301.3 304.7,2301.3 305.6,2301.3 306.5,2301.3 307.5,2301.3 308.4,2301.3 309.3,2301.3 310.2,2301.3 311.2,2301.3 312.1,2301.3 313.0,2301.3 314.0,2301.3 314.9,2301.3 315.8,2301.3 316.8,2301.3 317.7,2301.3 318.6,2301.3 319.6,2301.3 320.5,2301.3 321.4,2301.3 322.4,2301.3 323.3,2301.3 324.2,2301.3 325.2,2301.3 326.1,2301.3 327.0,2301.3 328.0,2301.3 328.9,2301.3 329.8,2301.3 330.8,2301.3 331.7,2301.3 332.6,2301.3 333.6,2301.3 334.5,2301.3 335.4,2301.3 336.4,2301.3 337.3,2301.3 338.2,2301.3 339.2,2301.3 340.1,2301.3 341.0,2301.3 342.0,2301.3 342.9,2301.3 343.8,2301.3 344.8,2301.3 345.7,2301.3 346.6,2301.3 347.6,2301.3 348.5,2301.3 349.4,2301.3 350.4,2301.3 351.3,2301.3 352.2,2301.3 353.2,2301.3 354.1,2301.3 355.0,2301.3 356.0,2301.3 356.9,2301.3 357.8,2301.3 358.8,2301.3 359.7,2301.3 360.6,2301.3 361.6,2301.3 362.5,2301.3 363.4,2301.3 364.4,2301.3 365.3,2301.3 366.2,2301.3 367.2,2301.3 368.1,2301.3 369.0,2301.3 370.0,2301.3 370.9,2301.3 371.8,2301.3 372.8,2301.3 373.7,2301.3 374.6,2301.3 375.5,2301.3 376.5,2301.3 377.4,2301.3 378.3,2301.3 379.3,2301.3 380.2,2301.3 381.1,2301.3 382.1,2301.3 383.0,2301.3 383.9,2301.3 384.9,2301.3 385.8,2301.3 386.7,2301.3 387.7,2301.3 388.6,2301.3 389.5,2301.3 390.5,2301.3 391.4,2301.3 392.3,2301.3 393.3,2301.3 394.2,2301.3 395.1,2301.3 396.1,2301.3 397.0,2301.3 397.9,2301.3 398.9,2301.3 399.8,2301.3 400.7,2301.3 401.7,2301.3 402.6,2301.3 403.5,2301.3 404.5,2301.3 405.4,2301.3 406.3,2301.3 407.3,2301.3 408.2,2301.3 409.1,2301.3 410.1,2301.3 411.0,2301.3 411.9,2301.3 412.9,2301.3 413.8,2301.3 414.7,2301.3 415.7,2301.3 416.6,2301.2 417.5,2301.2 418.5,2301.2 419.4,2301.2 420.3,2301.2 421.3,2301.2 422.2,2301.2 423.1,2301.2 424.1,2301.2 425.0,2301.2 425.9,2301.2 426.9,2301.2 427.8,2301.1 428.7,2301.1 429.7,2301.1 430.6,2301.1 431.5,2301.1 432.5,2301.1 433.4,2301.1 434.3,2301.0 435.3,2301.0 436.2,2301.0 437.1,2301.0 438.1,2301.0 439.0,2300.9 439.9,2300.9 440.8,2300.9 441.8,2300.9 442.7,2300.8 443.6,2300.8 444.6,2300.8 445.5,2300.7 446.4,2300.7 447.4,2300.6 448.3,2300.6 449.2,2300.6 450.2,2300.5 451.1,2300.5 452.0,2300.4 453.0,2300.3 453.9,2300.3 454.8,2300.2 455.8,2300.1 456.7,2300.0 457.6,2300.0 458.6,2299.9 459.5,2299.8 460.4,2299.7 461.4,2299.6 462.3,2299.5 463.2,2299.3 464.2,2299.2 465.1,2299.1 466.0,2298.9 467.0,2298.8 467.9,2298.6 468.8,2298.4 469.8,2298.2 470.7,2298.0 471.6,2297.8 472.6,2297.6 473.5,2297.4 474.4,2297.1 475.4,2296.8 476.3,2296.6 477.2,2296.3 478.2,2295.9 479.1,2295.6 480.0,2295.2 481.0,2294.8 481.9,2294.4 482.8,2294.0 483.8,2293.5 484.7,2293.0 485.6,2292.5 486.6,2292.0 487.5,2291.4 488.4,2290.7 489.4,2290.1 490.3,2289.4 491.2,2288.6 492.2,2287.9 493.1,2287.0 494.0,2286.2 495.0,2285.2 495.9,2284.3 496.8,2283.2 497.8,2282.1 498.7,2281.0 499.6,2279.8 500.6,2278.5 501.5,2277.2 502.4,2275.7 503.4,2274.3 504.3,2272.7 505.2,2271.0 506.2,2269.3 507.1,2267.5 508.0,2265.6 508.9,2263.7 509.9,2261.6 510.8,2259.5 511.7,2257.2 512.7,2254.9 513.6,2252.5 514.5,2249.9 515.5,2247.3 516.4,2244.6 517.3,2241.8 518.3,2238.9 519.2,2235.9 520.1,2232.8 521.1,2229.7 522.0,2226.4 522.9,2223.1 523.9,2219.7 524.8,2216.2 525.7,2212.6 526.7,2209.0 527.6,2205.3 528.5,2201.6 529.5,2197.8 530.4,2194.0 531.3,2190.2 532.3,2186.3 533.2,2182.5 534.1,2178.6 535.1,2174.7 536.0,2170.8 536.9,2166.9 537.9,2163.1 538.8,2159.3 539.7,2155.5 540.7,2151.8 541.6,2148.1 542.5,2144.5 543.5,2140.9 544.4,2137.4 545.3,2134.0 546.3,2130.7 547.2,2127.4 548.1,2124.2 549.1,2121.1 550.0,2118.1 550.9,2115.2 551.9,2112.4 552.8,2109.7 553.7,2107.1 554.7,2104.5 555.6,2102.1 556.5,2099.7 557.5,2097.5 558.4,2095.3 559.3,2093.3 560.3,2091.3 561.2,2089.4 562.1,2087.6 563.1,2085.8 564.0,2084.2 564.9,2082.6 565.9,2081.1 566.8,2079.7 567.7,2078.4 568.7,2077.1 569.6,2075.9 570.5,2074.7 571.5,2073.6 572.4,2072.6 573.3,2071.6 574.2,2070.6 575.2,2069.8 576.1,2068.9 577.0,2068.1 578.0,2067.4 578.9,2066.7 579.8,2066.0 580.8,2065.4 581.7,2064.8 582.6,2064.3 583.6,2063.7 584.5,2063.2 585.4,2062.8 586.4,2062.3 587.3,2061.9 588.2,2061.5 589.2,2061.2 590.1,2060.8 591.0,2060.5 592.0,2060.2 592.9,2059.9 593.8,2059.6 594.8,2059.4 595.7,2059.1 596.6,2058.9 597.6,2058.7 598.5,2058.5 599.4,2058.3 600.4,2058.1 601.3,2057.9 602.2,2057.8 603.2,2057.6 604.1,2057.5 605.0,2057.4 606.0,2057.3 606.9,2057.1" fill="none" stroke="#7d2ca6" stroke-width="1.45"/>
<polyline points="141.4,2301.2 142.3,2301.2 143.3,2301.2 144.2,2301.2 145.1,2301.2 146.1,2301.2 147.0,2301.2 147.9,2301.2 148.9,2301.2 149.8,2301.2 150.7,2301.2 151.7,2301.2 152.6,2301.2 153.5,2301.2 154.5,2301.2 155.4,2301.2 156.3,2301.2 157.3,2301.2 158.2,2301.2 159.1,2301.2 160.1,2301.2 161.0,2301.2 161.9,2301.2 162.9,2301.2 163.8,2301.2 164.7,2301.2 165.7,2301.2 166.6,2301.2 167.5,2301.2 168.5,2301.2 169.4,2301.2 170.3,2301.2 171.3,2301.2 172.2,2301.2 173.1,2301.2 174.1,2301.2 175.0,2301.2 175.9,2301.2 176.8,2301.2 177.8,2301.2 178.7,2301.2 179.6,2301.2 180.6,2301.2 181.5,2301.2 182.4,2301.2 183.4,2301.2 184.3,2301.2 185.2,2301.2 186.2,2301.2 187.1,2301.2 188.0,2301.2 189.0,2301.2 189.9,2301.2 190.8,2301.2 191.8,2301.2 192.7,2301.2 193.6,2301.2 194.6,2301.2 195.5,2301.2 196.4,2301.2 197.4,2301.2 198.3,2301.2 199.2,2301.2 200.2,2301.2 201.1,2301.2 202.0,2301.2 203.0,2301.2 203.9,2301.2 204.8,2301.2 205.8,2301.2 206.7,2301.2 207.6,2301.2 208.6,2301.2 209.5,2301.2 210.4,2301.2 211.4,2301.2 212.3,2301.2 213.2,2301.2 214.2,2301.2 215.1,2301.2 216.0,2301.2 217.0,2301.2 217.9,2301.2 218.8,2301.2 219.8,2301.2 220.7,2301.2 221.6,2301.2 222.6,2301.2 223.5,2301.2 224.4,2301.2 225.4,2301.2 226.3,2301.2 227.2,2301.2 228.2,2301.2 229.1,2301.2 230.0,2301.2 231.0,2301.2 231.9,2301.2 232.8,2301.2 233.8,2301.2 234.7,2301.2 235.6,2301.2 236.6,2301.2 237.5,2301.2 238.4,2301.2 239.4,2301.2 240.3,2301.2 241.2,2301.2 242.1,2301.2 243.1,2301.2 244.0,2301.2 244.9,2301.2 245.9,2301.2 246.8,2301.2 247.7,2301.2 248.7,2301.2 249.6,2301.2 250.5,2301.2 251.5,2301.2 252.4,2301.2 253.3,2301.2 254.3,2301.2 255.2,2301.2 256.1,2301.2 257.1,2301.2 258.0,2301.2 258.9,2301.2 259.9,2301.2 260.8,2301.2 261.7,2301.2 262.7,2301.2 263.6,2301.2 264.5,2301.2 265.5,2301.2 266.4,2301.2 267.3,2301.2 268.3,2301.2 269.2,2301.2 270.1,2301.2 271.1,2301.2 272.0,2301.2 272.9,2301.2 273.9,2301.2 274.8,2301.2 275.7,2301.2 276.7,2301.2 277.6,2301.2 278.5,2301.2 279.5,2301.2 280.4,2301.2 281.3,2301.2 282.3,2301.2 283.2,2301.2 284.1,2301.2 285.1,2301.2 286.0,2301.2 286.9,2301.2 287.9,2301.2 288.8,2301.2 289.7,2301.2 290.7,2301.2 291.6,2301.2 292.5,2301.2 293.5,2301.2 294.4,2301.2 295.3,2301.2 296.3,2301.2 297.2,2301.2 298.1,2301.2 299.1,2301.2 300.0,2301.2 300.9,2301.2 301.9,2301.2 302.8,2301.2 303.7,2301.2 304.7,2301.2 305.6,2301.2 306.5,2301.2 307.5,2301.2 308.4,2301.2 309.3,2301.2 310.2,2301.2 311.2,2301.2 312.1,2301.2 313.0,2301.2 314.0,2301.2 314.9,2301.2 315.8,2301.2 316.8,2301.2 317.7,2301.2 318.6,2301.2 319.6,2301.2 320.5,2301.2 321.4,2301.2 322.4,2301.2 323.3,2301.2 324.2,2301.2 325.2,2301.2 326.1,2301.2 327.0,2301.2 328.0,2301.2 328.9,2301.2 329.8,2301.2 330.8,2301.2 331.7,2301.2 332.6,2301.2 333.6,2301.2 334.5,2301.2 335.4,2301.2 336.4,2301.2 337.3,2301.2 338.2,2301.2 339.2,2301.2 340.1,2301.2 341.0,2301.2 342.0,2301.2 342.9,2301.2 343.8,2301.2 344.8,2301.2 345.7,2301.2 346.6,2301.2 347.6,2301.2 348.5,2301.2 349.4,2301.2 350.4,2301.2 351.3,2301.2 352.2,2301.2 353.2,2301.2 354.1,2301.2 355.0,2301.2 356.0,2301.2 356.9,2301.2 357.8,2301.2 358.8,2301.2 359.7,2301.2 360.6,2301.2 361.6,2301.2 362.5,2301.2 363.4,2301.2 364.4,2301.2 365.3,2301.2 366.2,2301.2 367.2,2301.2 368.1,2301.2 369.0,2301.2 370.0,2301.2 370.9,2301.2 371.8,2301.2 372.8,2301.2 373.7,2301.2 374.6,2301.2 375.5,2301.2 376.5,2301.2 377.4,2301.2 378.3,2301.2 379.3,2301.2 380.2,2301.2 381.1,2301.2 382.1,2301.2 383.0,2301.2 383.9,2301.2 384.9,2301.2 385.8,2301.2 386.7,2301.2 387.7,2301.2 388.6,2301.2 389.5,2301.2 390.5,2301.2 391.4,2301.1 392.3,2301.1 393.3,2301.1 394.2,2301.1 395.1,2301.1 396.1,2301.1 397.0,2301.1 397.9,2301.1 398.9,2301.1 399.8,2301.1 400.7,2301.1 401.7,2301.1 402.6,2301.1 403.5,2301.1 404.5,2301.1 405.4,2301.0 406.3,2301.0 407.3,2301.0 408.2,2301.0 409.1,2301.0 410.1,2301.0 411.0,2301.0 411.9,2300.9 412.9,2300.9 413.8,2300.9 414.7,2300.9 415.7,2300.9 416.6,2300.8 417.5,2300.8 418.5,2300.8 419.4,2300.8 420.3,2300.7 421.3,2300.7 422.2,2300.7 423.1,2300.6 424.1,2300.6 425.0,2300.5 425.9,2300.5 426.9,2300.5 427.8,2300.4 428.7,2300.3 429.7,2300.3 430.6,2300.2 431.5,2300.2 432.5,2300.1 433.4,2300.0 434.3,2299.9 435.3,2299.8 436.2,2299.7 437.1,2299.6 438.1,2299.5 439.0,2299.4 439.9,2299.3 440.8,2299.2 441.8,2299.0 442.7,2298.9 443.6,2298.7 444.6,2298.5 445.5,2298.4 446.4,2298.2 447.4,2298.0 448.3,2297.7 449.2,2297.5 450.2,2297.2 451.1,2297.0 452.0,2296.7 453.0,2296.4 453.9,2296.1 454.8,2295.7 455.8,2295.3 456.7,2294.9 457.6,2294.5 458.6,2294.1 459.5,2293.6 460.4,2293.1 461.4,2292.5 462.3,2292.0 463.2,2291.3 464.2,2290.7 465.1,2290.0 466.0,2289.3 467.0,2288.5 467.9,2287.6 468.8,2286.8 469.8,2285.8 470.7,2284.8 471.6,2283.8 472.6,2282.7 473.5,2281.5 474.4,2280.2 475.4,2278.9 476.3,2277.5 477.2,2276.0 478.2,2274.5 479.1,2272.9 480.0,2271.1 481.0,2269.3 481.9,2267.4 482.8,2265.4 483.8,2263.4 484.7,2261.2 485.6,2258.9 486.6,2256.5 487.5,2254.0 488.4,2251.4 489.4,2248.7 490.3,2245.9 491.2,2243.0 492.2,2239.9 493.1,2236.8 494.0,2233.6 495.0,2230.3 495.9,2226.9 496.8,2223.4 497.8,2219.8 498.7,2216.1 499.6,2212.4 500.6,2208.6 501.5,2204.7 502.4,2200.8 503.4,2196.8 504.3,2192.8 505.2,2188.7 506.2,2184.7 507.1,2180.6 508.0,2176.5 508.9,2172.5 509.9,2168.4 510.8,2164.4 511.7,2160.4 512.7,2156.4 513.6,2152.5 514.5,2148.7 515.5,2144.9 516.4,2141.2 517.3,2137.5 518.3,2134.0 519.2,2130.5 520.1,2127.1 521.1,2123.8 522.0,2120.6 522.9,2117.6 523.9,2114.6 524.8,2111.7 525.7,2108.9 526.7,2106.3 527.6,2103.7 528.5,2101.3 529.5,2098.9 530.4,2096.7 531.3,2094.5 532.3,2092.4 533.2,2090.5 534.1,2088.6 535.1,2086.8 536.0,2085.2 536.9,2083.6 537.9,2082.0 538.8,2080.6 539.7,2079.2 540.7,2077.9 541.6,2076.7 542.5,2075.6 543.5,2074.5 544.4,2073.4 545.3,2072.5 546.3,2071.6 547.2,2070.7 548.1,2069.9 549.1,2069.1 550.0,2068.4 550.9,2067.7 551.9,2067.1 552.8,2066.5 553.7,2065.9 554.7,2065.4 555.6,2064.9 556.5,2064.4 557.5,2064.0 558.4,2063.6 559.3,2063.2 560.3,2062.8 561.2,2062.5 562.1,2062.1 563.1,2061.8 564.0,2061.6 564.9,2061.3 565.9,2061.1 566.8,2060.8 567.7,2060.6 568.7,2060.4 569.6,2060.2 570.5,2060.0 571.5,2059.9 572.4,2059.7 573.3,2059.6 574.2,2059.4 575.2,2059.3 576.1,2059.2 577.0,2059.1 578.0,2059.0 578.9,2058.9 579.8,2058.8 580.8,2058.7 581.7,2058.6 582.6,2058.5 583.6,2058.5 584.5,2058.4 585.4,2058.3 586.4,2058.3 587.3,2058.2 588.2,2058.2 589.2,2058.1 590.1,2058.1 591.0,2058.0 592.0,2058.0 592.9,2058.0 593.8,2057.9 594.8,2057.9 595.7,2057.9 596.6,2057.8 597.6,2057.8 598.5,2057.8 599.4,2057.8 600.4,2057.7 601.3,2057.7 602.2,2057.7 603.2,2057.7 604.1,2057.7 605.0,2057.7 606.0,2057.6 606.9,2057.6" fill="none" stroke="#5262c0" stroke-width="1.45"/>
<circle cx="326.7" cy="2285.3" r="5.8" fill="#6e9fd6" stroke="#4c5bb6" stroke-width="1.5"/>
<circle cx="354.6" cy="2299.0" r="5.8" fill="#6e9fd6" stroke="#4c5bb6" stroke-width="1.5"/>
<circle cx="354.6" cy="2309.0" r="5.8" fill="#6e9fd6" stroke="#4c5bb6" stroke-width="1.5"/>
<circle cx="382.5" cy="2287.8" r="5.8" fill="#6e9fd6" stroke="#4c5bb6" stroke-width="1.5"/>
<circle cx="382.5" cy="2299.0" r="5.8" fill="#6e9fd6" stroke="#4c5bb6" stroke-width="1.5"/>
<circle cx="410.5" cy="2267.9" r="5.8" fill="#6e9fd6" stroke="#4c5bb6" stroke-width="1.5"/>
<circle cx="410.5" cy="2309.0" r="5.8" fill="#6e9fd6" stroke="#4c5bb6" stroke-width="1.5"/>
<circle cx="438.4" cy="2257.5" r="5.8" fill="#6e9fd6" stroke="#4c5bb6" stroke-width="1.5"/>
<circle cx="467.2" cy="2257.5" r="5.8" fill="#6e9fd6" stroke="#4c5bb6" stroke-width="1.5"/>
<circle cx="467.2" cy="2266.2" r="5.8" fill="#6e9fd6" stroke="#4c5bb6" stroke-width="1.5"/>
<circle cx="495.2" cy="2191.0" r="5.8" fill="#6e9fd6" stroke="#4c5bb6" stroke-width="1.5"/>
<circle cx="495.2" cy="2196.5" r="5.8" fill="#6e9fd6" stroke="#4c5bb6" stroke-width="1.5"/>
<circle cx="495.2" cy="2253.0" r="5.8" fill="#6e9fd6" stroke="#4c5bb6" stroke-width="1.5"/>
<circle cx="495.2" cy="2297.8" r="5.8" fill="#6e9fd6" stroke="#4c5bb6" stroke-width="1.5"/>
<circle cx="523.1" cy="2060.0" r="5.8" fill="#6e9fd6" stroke="#4c5bb6" stroke-width="1.5"/>
<circle cx="523.1" cy="2185.5" r="5.8" fill="#6e9fd6" stroke="#4c5bb6" stroke-width="1.5"/>
<circle cx="523.1" cy="2191.7" r="5.8" fill="#6e9fd6" stroke="#4c5bb6" stroke-width="1.5"/>
<circle cx="141.4" cy="2309.0" r="5.8" fill="#9a5cb4" stroke="#6f2b9c" stroke-width="1.5"/>
<circle cx="326.7" cy="2288.6" r="5.8" fill="#9a5cb4" stroke="#6f2b9c" stroke-width="1.5"/>
<circle cx="326.7" cy="2299.0" r="5.8" fill="#9a5cb4" stroke="#6f2b9c" stroke-width="1.5"/>
<circle cx="326.7" cy="2309.0" r="5.8" fill="#9a5cb4" stroke="#6f2b9c" stroke-width="1.5"/>
<circle cx="354.6" cy="2278.4" r="5.8" fill="#9a5cb4" stroke="#6f2b9c" stroke-width="1.5"/>
<circle cx="354.6" cy="2299.0" r="5.8" fill="#9a5cb4" stroke="#6f2b9c" stroke-width="1.5"/>
<circle cx="382.5" cy="2277.1" r="5.8" fill="#9a5cb4" stroke="#6f2b9c" stroke-width="1.5"/>
<circle cx="410.5" cy="2299.0" r="5.8" fill="#9a5cb4" stroke="#6f2b9c" stroke-width="1.5"/>
<circle cx="438.4" cy="2268.4" r="5.8" fill="#9a5cb4" stroke="#6f2b9c" stroke-width="1.5"/>
<circle cx="438.4" cy="2278.4" r="5.8" fill="#9a5cb4" stroke="#6f2b9c" stroke-width="1.5"/>
<circle cx="438.4" cy="2287.8" r="5.8" fill="#9a5cb4" stroke="#6f2b9c" stroke-width="1.5"/>
<circle cx="438.4" cy="2309.0" r="5.8" fill="#9a5cb4" stroke="#6f2b9c" stroke-width="1.5"/>
<circle cx="467.2" cy="2288.6" r="5.8" fill="#9a5cb4" stroke="#6f2b9c" stroke-width="1.5"/>
<circle cx="467.2" cy="2309.0" r="5.8" fill="#9a5cb4" stroke="#6f2b9c" stroke-width="1.5"/>
<circle cx="495.2" cy="2267.9" r="5.8" fill="#9a5cb4" stroke="#6f2b9c" stroke-width="1.5"/>
<circle cx="495.2" cy="2277.1" r="5.8" fill="#9a5cb4" stroke="#6f2b9c" stroke-width="1.5"/>
<circle cx="495.2" cy="2287.8" r="5.8" fill="#9a5cb4" stroke="#6f2b9c" stroke-width="1.5"/>
<circle cx="523.1" cy="2201.4" r="5.8" fill="#9a5cb4" stroke="#6f2b9c" stroke-width="1.5"/>
<circle cx="523.1" cy="2205.9" r="5.8" fill="#9a5cb4" stroke="#6f2b9c" stroke-width="1.5"/>
<circle cx="523.1" cy="2246.8" r="5.8" fill="#9a5cb4" stroke="#6f2b9c" stroke-width="1.5"/>
<circle cx="523.1" cy="2266.2" r="5.8" fill="#9a5cb4" stroke="#6f2b9c" stroke-width="1.5"/>
<circle cx="551.0" cy="2060.0" r="5.8" fill="#9a5cb4" stroke="#6f2b9c" stroke-width="1.5"/>
<circle cx="551.0" cy="2155.1" r="5.8" fill="#9a5cb4" stroke="#6f2b9c" stroke-width="1.5"/>
<circle cx="551.0" cy="2169.8" r="5.8" fill="#9a5cb4" stroke="#6f2b9c" stroke-width="1.5"/>
<circle cx="579.0" cy="2060.0" r="5.8" fill="#9a5cb4" stroke="#6f2b9c" stroke-width="1.5"/>
<circle cx="606.9" cy="2060.0" r="5.8" fill="#9a5cb4" stroke="#6f2b9c" stroke-width="1.5"/>
<text x="431.4" y="1878.9" font-size="36" text-anchor="middle">Pre-treatment</text>
<path d="M180.4,1961.9 L219.8,1961.9" stroke="#7d2ca6" stroke-width="1.6"/>
<circle cx="200.3" cy="1961.9" r="5.8" fill="#9a5cb4" stroke="#6f2b9c" stroke-width="1.5"/>
<path d="M180.4,2012.9 L219.8,2012.9" stroke="#5262c0" stroke-width="1.6"/>
<circle cx="200.3" cy="2012.9" r="5.8" fill="#6e9fd6" stroke="#4c5bb6" stroke-width="1.5"/>
<text x="227.8" y="1971.5" font-size="36">nsp5</text>
<text x="303.3" y="1959.5" font-size="20">T169I</text>
<text x="352.2" y="1971.5" font-size="36">nsp12</text>
<text x="447.6" y="1959.5" font-size="20">V792I</text>
<text x="229.7" y="2023.0" font-size="36">WT</text>
<text x="520.6" y="1923.5" font-size="36">IC</text>
<text x="558.9" y="1934.5" font-size="20">50</text>
<text x="521.9" y="1971.5" font-size="36">16.7 µM</text>
<text x="521.9" y="2023.0" font-size="36">8.8 µM</text>
<text x="257.9" y="2410.4" font-size="36" textLength="58.0" lengthAdjust="spacingAndGlyphs">Log</text>
<text x="316.8" y="2421.2" font-size="20" textLength="20.6" lengthAdjust="spacingAndGlyphs">10</text>
<text x="338.1" y="2410.4" font-size="36" textLength="245.8" lengthAdjust="spacingAndGlyphs">[Remdesivir] nM</text>
<text transform="translate(53.5,2356.3) rotate(-90)" font-size="37" textLength="460.0" lengthAdjust="spacingAndGlyphs">SARS-CoV-2 inhibition (%)</text>
<g stroke="#2b2b2b" stroke-width="2" fill="none">
<path d="M782.1,1934.3000000000002 L782.1,2308.8 L1341.6999999999998,2308.8"/>
<path d="M767.1,2308.8 L782.1,2308.8"/>
<path d="M767.1,2184.3 L782.1,2184.3"/>
<path d="M767.1,2059.8 L782.1,2059.8"/>
<path d="M767.1,1935.3 L782.1,1935.3"/>
<path d="M782.1,2308.8 L782.1,2323.8"/>
<path d="M968.3,2308.8 L968.3,2323.8"/>
<path d="M1154.5,2308.8 L1154.5,2323.8"/>
<path d="M1340.7,2308.8 L1340.7,2323.8"/>
</g>
<text x="752.6" y="2318.9" font-size="36" text-anchor="end">0</text>
<text x="757.6" y="2194.4" font-size="36" text-anchor="end">50</text>
<text x="761.1" y="2069.9" font-size="36" text-anchor="end">100</text>
<text x="761.1" y="1945.4" font-size="36" text-anchor="end">150</text>
<text x="783.1" y="2363.3" font-size="36" text-anchor="middle">0</text>
<text x="969.3" y="2363.3" font-size="36" text-anchor="middle">2</text>
<text x="1155.5" y="2363.3" font-size="36" text-anchor="middle">4</text>
<text x="1341.7" y="2363.3" font-size="36" text-anchor="middle">6</text>
<polyline points="782.1,2288.9 783.0,2288.9 784.0,2288.9 784.9,2288.9 785.8,2288.9 786.8,2288.9 787.7,2288.9 788.6,2288.9 789.6,2288.9 790.5,2288.9 791.4,2288.9 792.4,2288.9 793.3,2288.9 794.2,2288.9 795.2,2288.9 796.1,2288.9 797.0,2288.9 798.0,2288.9 798.9,2288.9 799.8,2288.9 800.8,2288.9 801.7,2288.9 802.6,2288.9 803.6,2288.9 804.5,2288.9 805.4,2288.9 806.4,2288.9 807.3,2288.9 808.2,2288.9 809.2,2288.9 810.1,2288.9 811.0,2288.9 812.0,2288.9 812.9,2288.9 813.8,2288.9 814.8,2288.9 815.7,2288.9 816.6,2288.9 817.5,2288.9 818.5,2288.9 819.4,2288.9 820.3,2288.9 821.3,2288.9 822.2,2288.9 823.1,2288.9 824.1,2288.9 825.0,2288.9 825.9,2288.9 826.9,2288.9 827.8,2288.9 828.7,2288.9 829.7,2288.9 830.6,2288.9 831.5,2288.9 832.5,2288.9 833.4,2288.9 834.3,2288.9 835.3,2288.9 836.2,2288.9 837.1,2288.9 838.1,2288.9 839.0,2288.9 839.9,2288.9 840.9,2288.9 841.8,2288.9 842.7,2288.9 843.7,2288.9 844.6,2288.9 845.5,2288.9 846.5,2288.9 847.4,2288.9 848.3,2288.9 849.3,2288.9 850.2,2288.9 851.1,2288.9 852.1,2288.9 853.0,2288.9 853.9,2288.9 854.9,2288.9 855.8,2288.9 856.7,2288.9 857.7,2288.9 858.6,2288.9 859.5,2288.9 860.5,2288.9 861.4,2288.9 862.3,2288.9 863.3,2288.9 864.2,2288.9 865.1,2288.9 866.1,2288.9 867.0,2288.9 867.9,2288.9 868.9,2288.9 869.8,2288.9 870.7,2288.9 871.7,2288.9 872.6,2288.9 873.5,2288.9 874.5,2288.9 875.4,2288.9 876.3,2288.9 877.3,2288.9 878.2,2288.9 879.1,2288.9 880.1,2288.9 881.0,2288.9 881.9,2288.9 882.8,2288.9 883.8,2288.9 884.7,2288.9 885.6,2288.9 886.6,2288.9 887.5,2288.9 888.4,2288.9 889.4,2288.9 890.3,2288.9 891.2,2288.9 892.2,2288.9 893.1,2288.9 894.0,2288.9 895.0,2288.9 895.9,2288.9 896.8,2288.9 897.8,2288.9 898.7,2288.9 899.6,2288.9 900.6,2288.9 901.5,2288.9 902.4,2288.9 903.4,2288.9 904.3,2288.9 905.2,2288.9 906.2,2288.9 907.1,2288.9 908.0,2288.9 909.0,2288.9 909.9,2288.9 910.8,2288.9 911.8,2288.9 912.7,2288.9 913.6,2288.9 914.6,2288.9 915.5,2288.9 916.4,2288.9 917.4,2288.9 918.3,2288.9 919.2,2288.9 920.2,2288.9 921.1,2288.9 922.0,2288.9 923.0,2288.9 923.9,2288.9 924.8,2288.9 925.8,2288.9 926.7,2288.9 927.6,2288.9 928.6,2288.9 929.5,2288.9 930.4,2288.9 931.4,2288.9 932.3,2288.9 933.2,2288.9 934.2,2288.9 935.1,2288.9 936.0,2288.9 937.0,2288.9 937.9,2288.9 938.8,2288.9 939.8,2288.9 940.7,2288.9 941.6,2288.9 942.6,2288.9 943.5,2288.9 944.4,2288.9 945.4,2288.9 946.3,2288.9 947.2,2288.9 948.2,2288.9 949.1,2288.9 950.0,2288.9 950.9,2288.9 951.9,2288.9 952.8,2288.9 953.7,2288.9 954.7,2288.9 955.6,2288.9 956.5,2288.9 957.5,2288.9 958.4,2288.9 959.3,2288.9 960.3,2288.9 961.2,2288.9 962.1,2288.9 963.1,2288.9 964.0,2288.9 964.9,2288.9 965.9,2288.9 966.8,2288.9 967.7,2288.9 968.7,2288.9 969.6,2288.9 970.5,2288.9 971.5,2288.9 972.4,2288.9 973.3,2288.9 974.3,2288.9 975.2,2288.9 976.1,2288.9 977.1,2288.9 978.0,2288.9 978.9,2288.9 979.9,2288.9 980.8,2288.9 981.7,2288.9 982.7,2288.9 983.6,2288.9 984.5,2288.9 985.5,2288.9 986.4,2288.9 987.3,2288.9 988.3,2288.9 989.2,2288.9 990.1,2288.9 991.1,2288.9 992.0,2288.9 992.9,2288.9 993.9,2288.9 994.8,2288.9 995.7,2288.9 996.7,2288.9 997.6,2288.9 998.5,2288.9 999.5,2288.9 1000.4,2288.9 1001.3,2288.9 1002.3,2288.9 1003.2,2288.9 1004.1,2288.9 1005.1,2288.9 1006.0,2288.9 1006.9,2288.9 1007.9,2288.9 1008.8,2288.9 1009.7,2288.9 1010.7,2288.9 1011.6,2288.9 1012.5,2288.9 1013.5,2288.9 1014.4,2288.9 1015.3,2288.9 1016.2,2288.9 1017.2,2288.9 1018.1,2288.9 1019.0,2288.9 1020.0,2288.9 1020.9,2288.9 1021.8,2288.9 1022.8,2288.9 1023.7,2288.9 1024.6,2288.9 1025.6,2288.9 1026.5,2288.9 1027.4,2288.9 1028.4,2288.9 1029.3,2288.9 1030.2,2288.9 1031.2,2288.9 1032.1,2288.9 1033.0,2288.9 1034.0,2288.9 1034.9,2288.9 1035.8,2288.9 1036.8,2288.9 1037.7,2288.9 1038.6,2288.9 1039.6,2288.9 1040.5,2288.9 1041.4,2288.9 1042.4,2288.9 1043.3,2288.9 1044.2,2288.9 1045.2,2288.9 1046.1,2288.9 1047.0,2288.9 1048.0,2288.9 1048.9,2288.9 1049.8,2288.9 1050.8,2288.9 1051.7,2288.9 1052.6,2288.9 1053.6,2288.9 1054.5,2288.9 1055.4,2288.9 1056.4,2288.9 1057.3,2288.9 1058.2,2288.9 1059.2,2288.9 1060.1,2288.9 1061.0,2288.9 1062.0,2288.9 1062.9,2288.9 1063.8,2288.9 1064.8,2288.9 1065.7,2288.9 1066.6,2288.9 1067.6,2288.9 1068.5,2288.9 1069.4,2288.9 1070.4,2288.9 1071.3,2288.9 1072.2,2288.9 1073.2,2288.9 1074.1,2288.9 1075.0,2288.9 1076.0,2288.9 1076.9,2288.8 1077.8,2288.8 1078.8,2288.8 1079.7,2288.8 1080.6,2288.8 1081.5,2288.8 1082.5,2288.8 1083.4,2288.8 1084.3,2288.8 1085.3,2288.8 1086.2,2288.8 1087.1,2288.7 1088.1,2288.7 1089.0,2288.7 1089.9,2288.7 1090.9,2288.7 1091.8,2288.6 1092.7,2288.6 1093.7,2288.6 1094.6,2288.6 1095.5,2288.5 1096.5,2288.5 1097.4,2288.5 1098.3,2288.4 1099.3,2288.4 1100.2,2288.4 1101.1,2288.3 1102.1,2288.3 1103.0,2288.2 1103.9,2288.1 1104.9,2288.1 1105.8,2288.0 1106.7,2287.9 1107.7,2287.9 1108.6,2287.8 1109.5,2287.7 1110.5,2287.6 1111.4,2287.5 1112.3,2287.4 1113.3,2287.2 1114.2,2287.1 1115.1,2287.0 1116.1,2286.8 1117.0,2286.6 1117.9,2286.4 1118.9,2286.2 1119.8,2286.0 1120.7,2285.8 1121.7,2285.5 1122.6,2285.3 1123.5,2285.0 1124.5,2284.7 1125.4,2284.3 1126.3,2284.0 1127.3,2283.6 1128.2,2283.2 1129.1,2282.7 1130.1,2282.2 1131.0,2281.7 1131.9,2281.1 1132.9,2280.5 1133.8,2279.9 1134.7,2279.2 1135.7,2278.4 1136.6,2277.6 1137.5,2276.7 1138.5,2275.8 1139.4,2274.8 1140.3,2273.7 1141.3,2272.6 1142.2,2271.4 1143.1,2270.1 1144.1,2268.7 1145.0,2267.2 1145.9,2265.6 1146.9,2263.9 1147.8,2262.1 1148.7,2260.2 1149.6,2258.2 1150.6,2256.1 1151.5,2253.8 1152.4,2251.4 1153.4,2248.9 1154.3,2246.3 1155.2,2243.5 1156.2,2240.6 1157.1,2237.5 1158.0,2234.3 1159.0,2231.0 1159.9,2227.6 1160.8,2224.0 1161.8,2220.3 1162.7,2216.5 1163.6,2212.5 1164.6,2208.5 1165.5,2204.3 1166.4,2200.1 1167.4,2195.8 1168.3,2191.4 1169.2,2186.9 1170.2,2182.4 1171.1,2177.9 1172.0,2173.4 1173.0,2168.9 1173.9,2164.3 1174.8,2159.8 1175.8,2155.4 1176.7,2151.0 1177.6,2146.6 1178.6,2142.3 1179.5,2138.1 1180.4,2134.0 1181.4,2130.0 1182.3,2126.1 1183.2,2122.4 1184.2,2118.7 1185.1,2115.2 1186.0,2111.8 1187.0,2108.5 1187.9,2105.4 1188.8,2102.4 1189.8,2099.6 1190.7,2096.9 1191.6,2094.3 1192.6,2091.9 1193.5,2089.5 1194.4,2087.3 1195.4,2085.3 1196.3,2083.3 1197.2,2081.4 1198.2,2079.7 1199.1,2078.1 1200.0,2076.5 1201.0,2075.1 1201.9,2073.7 1202.8,2072.5 1203.8,2071.3 1204.7,2070.2 1205.6,2069.1 1206.6,2068.2 1207.5,2067.3 1208.4,2066.4 1209.4,2065.7 1210.3,2064.9 1211.2,2064.2 1212.2,2063.6 1213.1,2063.0 1214.0,2062.5 1214.9,2062.0 1215.9,2061.5 1216.8,2061.1 1217.7,2060.7 1218.7,2060.3 1219.6,2059.9 1220.5,2059.6 1221.5,2059.3 1222.4,2059.0 1223.3,2058.8 1224.3,2058.5 1225.2,2058.3 1226.1,2058.1 1227.1,2057.9 1228.0,2057.7 1228.9,2057.5 1229.9,2057.4 1230.8,2057.3 1231.7,2057.1 1232.7,2057.0 1233.6,2056.9 1234.5,2056.8 1235.5,2056.7 1236.4,2056.6 1237.3,2056.5 1238.3,2056.4 1239.2,2056.4 1240.1,2056.3 1241.1,2056.2 1242.0,2056.2 1242.9,2056.1 1243.9,2056.1 1244.8,2056.0 1245.7,2056.0 1246.7,2056.0 1247.6,2055.9" fill="none" stroke="#7d2ca6" stroke-width="1.45"/>
<polyline points="782.1,2304.5 783.0,2304.5 784.0,2304.5 784.9,2304.5 785.8,2304.5 786.8,2304.5 787.7,2304.5 788.6,2304.5 789.6,2304.5 790.5,2304.5 791.4,2304.5 792.4,2304.5 793.3,2304.5 794.2,2304.5 795.2,2304.5 796.1,2304.5 797.0,2304.5 798.0,2304.5 798.9,2304.5 799.8,2304.5 800.8,2304.5 801.7,2304.5 802.6,2304.5 803.6,2304.5 804.5,2304.5 805.4,2304.5 806.4,2304.5 807.3,2304.5 808.2,2304.5 809.2,2304.5 810.1,2304.5 811.0,2304.5 812.0,2304.5 812.9,2304.5 813.8,2304.5 814.8,2304.5 815.7,2304.5 816.6,2304.5 817.5,2304.5 818.5,2304.5 819.4,2304.5 820.3,2304.5 821.3,2304.5 822.2,2304.5 823.1,2304.5 824.1,2304.5 825.0,2304.5 825.9,2304.5 826.9,2304.5 827.8,2304.5 828.7,2304.5 829.7,2304.5 830.6,2304.5 831.5,2304.5 832.5,2304.5 833.4,2304.5 834.3,2304.5 835.3,2304.5 836.2,2304.5 837.1,2304.5 838.1,2304.5 839.0,2304.5 839.9,2304.5 840.9,2304.5 841.8,2304.5 842.7,2304.5 843.7,2304.5 844.6,2304.5 845.5,2304.5 846.5,2304.5 847.4,2304.5 848.3,2304.5 849.3,2304.5 850.2,2304.5 851.1,2304.5 852.1,2304.5 853.0,2304.5 853.9,2304.5 854.9,2304.5 855.8,2304.5 856.7,2304.5 857.7,2304.5 858.6,2304.5 859.5,2304.5 860.5,2304.5 861.4,2304.5 862.3,2304.5 863.3,2304.5 864.2,2304.5 865.1,2304.5 866.1,2304.5 867.0,2304.5 867.9,2304.5 868.9,2304.5 869.8,2304.5 870.7,2304.5 871.7,2304.5 872.6,2304.5 873.5,2304.5 874.5,2304.5 875.4,2304.5 876.3,2304.5 877.3,2304.5 878.2,2304.5 879.1,2304.5 880.1,2304.5 881.0,2304.5 881.9,2304.5 882.8,2304.5 883.8,2304.5 884.7,2304.5 885.6,2304.5 886.6,2304.5 887.5,2304.5 888.4,2304.5 889.4,2304.5 890.3,2304.5 891.2,2304.5 892.2,2304.5 893.1,2304.5 894.0,2304.5 895.0,2304.5 895.9,2304.5 896.8,2304.5 897.8,2304.5 898.7,2304.5 899.6,2304.5 900.6,2304.5 901.5,2304.5 902.4,2304.5 903.4,2304.5 904.3,2304.5 905.2,2304.5 906.2,2304.5 907.1,2304.5 908.0,2304.5 909.0,2304.5 909.9,2304.5 910.8,2304.5 911.8,2304.5 912.7,2304.5 913.6,2304.5 914.6,2304.5 915.5,2304.5 916.4,2304.5 917.4,2304.5 918.3,2304.5 919.2,2304.5 920.2,2304.5 921.1,2304.5 922.0,2304.5 923.0,2304.5 923.9,2304.5 924.8,2304.5 925.8,2304.5 926.7,2304.5 927.6,2304.5 928.6,2304.5 929.5,2304.5 930.4,2304.5 931.4,2304.5 932.3,2304.5 933.2,2304.5 934.2,2304.5 935.1,2304.5 936.0,2304.5 937.0,2304.5 937.9,2304.5 938.8,2304.5 939.8,2304.5 940.7,2304.5 941.6,2304.5 942.6,2304.5 943.5,2304.5 944.4,2304.5 945.4,2304.5 946.3,2304.5 947.2,2304.5 948.2,2304.5 949.1,2304.5 950.0,2304.5 950.9,2304.5 951.9,2304.5 952.8,2304.5 953.7,2304.5 954.7,2304.5 955.6,2304.5 956.5,2304.5 957.5,2304.5 958.4,2304.5 959.3,2304.5 960.3,2304.5 961.2,2304.5 962.1,2304.5 963.1,2304.5 964.0,2304.5 964.9,2304.5 965.9,2304.5 966.8,2304.5 967.7,2304.5 968.7,2304.5 969.6,2304.5 970.5,2304.5 971.5,2304.5 972.4,2304.5 973.3,2304.5 974.3,2304.5 975.2,2304.5 976.1,2304.5 977.1,2304.5 978.0,2304.5 978.9,2304.5 979.9,2304.5 980.8,2304.5 981.7,2304.5 982.7,2304.5 983.6,2304.5 984.5,2304.5 985.5,2304.5 986.4,2304.5 987.3,2304.5 988.3,2304.5 989.2,2304.5 990.1,2304.5 991.1,2304.5 992.0,2304.5 992.9,2304.5 993.9,2304.5 994.8,2304.5 995.7,2304.5 996.7,2304.5 997.6,2304.5 998.5,2304.5 999.5,2304.5 1000.4,2304.5 1001.3,2304.5 1002.3,2304.5 1003.2,2304.5 1004.1,2304.5 1005.1,2304.5 1006.0,2304.5 1006.9,2304.5 1007.9,2304.5 1008.8,2304.5 1009.7,2304.5 1010.7,2304.5 1011.6,2304.5 1012.5,2304.5 1013.5,2304.5 1014.4,2304.5 1015.3,2304.5 1016.2,2304.5 1017.2,2304.5 1018.1,2304.5 1019.0,2304.5 1020.0,2304.5 1020.9,2304.5 1021.8,2304.5 1022.8,2304.5 1023.7,2304.5 1024.6,2304.5 1025.6,2304.5 1026.5,2304.5 1027.4,2304.5 1028.4,2304.5 1029.3,2304.5 1030.2,2304.5 1031.2,2304.5 1032.1,2304.5 1033.0,2304.5 1034.0,2304.5 1034.9,2304.5 1035.8,2304.5 1036.8,2304.5 1037.7,2304.5 1038.6,2304.5 1039.6,2304.5 1040.5,2304.5 1041.4,2304.5 1042.4,2304.5 1043.3,2304.5 1044.2,2304.5 1045.2,2304.5 1046.1,2304.5 1047.0,2304.5 1048.0,2304.5 1048.9,2304.5 1049.8,2304.5 1050.8,2304.5 1051.7,2304.5 1052.6,2304.5 1053.6,2304.5 1054.5,2304.5 1055.4,2304.5 1056.4,2304.5 1057.3,2304.5 1058.2,2304.5 1059.2,2304.5 1060.1,2304.5 1061.0,2304.5 1062.0,2304.5 1062.9,2304.5 1063.8,2304.5 1064.8,2304.5 1065.7,2304.5 1066.6,2304.5 1067.6,2304.5 1068.5,2304.5 1069.4,2304.5 1070.4,2304.5 1071.3,2304.5 1072.2,2304.5 1073.2,2304.5 1074.1,2304.5 1075.0,2304.5 1076.0,2304.5 1076.9,2304.5 1077.8,2304.5 1078.8,2304.5 1079.7,2304.5 1080.6,2304.5 1081.5,2304.5 1082.5,2304.5 1083.4,2304.5 1084.3,2304.5 1085.3,2304.5 1086.2,2304.5 1087.1,2304.5 1088.1,2304.5 1089.0,2304.5 1089.9,2304.5 1090.9,2304.5 1091.8,2304.5 1092.7,2304.5 1093.7,2304.5 1094.6,2304.5 1095.5,2304.5 1096.5,2304.5 1097.4,2304.5 1098.3,2304.5 1099.3,2304.4 1100.2,2304.4 1101.1,2304.4 1102.1,2304.4 1103.0,2304.4 1103.9,2304.4 1104.9,2304.3 1105.8,2304.3 1106.7,2304.2 1107.7,2304.2 1108.6,2304.1 1109.5,2304.0 1110.5,2303.9 1111.4,2303.8 1112.3,2303.7 1113.3,2303.5 1114.2,2303.2 1115.1,2303.0 1116.1,2302.6 1117.0,2302.2 1117.9,2301.7 1118.9,2301.1 1119.8,2300.3 1120.7,2299.4 1121.7,2298.2 1122.6,2296.8 1123.5,2295.2 1124.5,2293.1 1125.4,2290.7 1126.3,2287.8 1127.3,2284.3 1128.2,2280.2 1129.1,2275.3 1130.1,2269.6 1131.0,2263.0 1131.9,2255.5 1132.9,2247.0 1133.8,2237.5 1134.7,2227.1 1135.7,2215.9 1136.6,2204.1 1137.5,2191.8 1138.5,2179.4 1139.4,2167.0 1140.3,2154.9 1141.3,2143.4 1142.2,2132.6 1143.1,2122.7 1144.1,2113.7 1145.0,2105.7 1145.9,2098.7 1146.9,2092.6 1147.8,2087.4 1148.7,2082.9 1149.6,2079.1 1150.6,2075.9 1151.5,2073.3 1152.4,2071.1 1153.4,2069.2 1154.3,2067.7 1155.2,2066.5 1156.2,2065.5 1157.1,2064.6 1158.0,2063.9 1159.0,2063.4 1159.9,2062.9 1160.8,2062.5 1161.8,2062.2 1162.7,2062.0 1163.6,2061.8 1164.6,2061.6 1165.5,2061.5 1166.4,2061.3 1167.4,2061.2 1168.3,2061.2 1169.2,2061.1 1170.2,2061.1 1171.1,2061.0 1172.0,2061.0 1173.0,2061.0 1173.9,2060.9 1174.8,2060.9 1175.8,2060.9 1176.7,2060.9 1177.6,2060.9 1178.6,2060.9 1179.5,2060.9 1180.4,2060.9 1181.4,2060.9 1182.3,2060.9 1183.2,2060.9 1184.2,2060.9 1185.1,2060.9 1186.0,2060.9 1187.0,2060.9 1187.9,2060.9 1188.8,2060.8 1189.8,2060.8 1190.7,2060.8 1191.6,2060.8 1192.6,2060.8 1193.5,2060.8 1194.4,2060.8 1195.4,2060.8 1196.3,2060.8 1197.2,2060.8 1198.2,2060.8 1199.1,2060.8 1200.0,2060.8 1201.0,2060.8 1201.9,2060.8 1202.8,2060.8 1203.8,2060.8 1204.7,2060.8 1205.6,2060.8 1206.6,2060.8 1207.5,2060.8 1208.4,2060.8 1209.4,2060.8 1210.3,2060.8 1211.2,2060.8 1212.2,2060.8 1213.1,2060.8 1214.0,2060.8 1214.9,2060.8 1215.9,2060.8 1216.8,2060.8 1217.7,2060.8 1218.7,2060.8 1219.6,2060.8 1220.5,2060.8 1221.5,2060.8 1222.4,2060.8 1223.3,2060.8 1224.3,2060.8 1225.2,2060.8 1226.1,2060.8 1227.1,2060.8 1228.0,2060.8 1228.9,2060.8 1229.9,2060.8 1230.8,2060.8 1231.7,2060.8 1232.7,2060.8 1233.6,2060.8 1234.5,2060.8 1235.5,2060.8 1236.4,2060.8 1237.3,2060.8 1238.3,2060.8 1239.2,2060.8 1240.1,2060.8 1241.1,2060.8 1242.0,2060.8 1242.9,2060.8 1243.9,2060.8 1244.8,2060.8 1245.7,2060.8 1246.7,2060.8 1247.6,2060.8" fill="none" stroke="#5262c0" stroke-width="1.45"/>
<circle cx="967.4" cy="2308.8" r="5.8" fill="#6e9fd6" stroke="#4c5bb6" stroke-width="1.5"/>
<circle cx="995.3" cy="2308.8" r="5.8" fill="#6e9fd6" stroke="#4c5bb6" stroke-width="1.5"/>
<circle cx="1023.2" cy="2250.3" r="5.8" fill="#6e9fd6" stroke="#4c5bb6" stroke-width="1.5"/>
<circle cx="1023.2" cy="2287.4" r="5.8" fill="#6e9fd6" stroke="#4c5bb6" stroke-width="1.5"/>
<circle cx="1079.1" cy="2275.4" r="5.8" fill="#6e9fd6" stroke="#4c5bb6" stroke-width="1.5"/>
<circle cx="1079.1" cy="2297.6" r="5.8" fill="#6e9fd6" stroke="#4c5bb6" stroke-width="1.5"/>
<circle cx="1108.0" cy="2262.5" r="5.8" fill="#6e9fd6" stroke="#4c5bb6" stroke-width="1.5"/>
<circle cx="1108.0" cy="2286.6" r="5.8" fill="#6e9fd6" stroke="#4c5bb6" stroke-width="1.5"/>
<circle cx="1135.9" cy="2162.9" r="5.8" fill="#6e9fd6" stroke="#4c5bb6" stroke-width="1.5"/>
<circle cx="1135.9" cy="2191.8" r="5.8" fill="#6e9fd6" stroke="#4c5bb6" stroke-width="1.5"/>
<circle cx="1135.9" cy="2238.6" r="5.8" fill="#6e9fd6" stroke="#4c5bb6" stroke-width="1.5"/>
<circle cx="1135.9" cy="2260.2" r="5.8" fill="#6e9fd6" stroke="#4c5bb6" stroke-width="1.5"/>
<circle cx="1163.8" cy="2059.8" r="5.8" fill="#6e9fd6" stroke="#4c5bb6" stroke-width="1.5"/>
<circle cx="782.1" cy="2308.8" r="5.8" fill="#9a5cb4" stroke="#6f2b9c" stroke-width="1.5"/>
<circle cx="967.4" cy="2284.9" r="5.8" fill="#9a5cb4" stroke="#6f2b9c" stroke-width="1.5"/>
<circle cx="967.4" cy="2297.1" r="5.8" fill="#9a5cb4" stroke="#6f2b9c" stroke-width="1.5"/>
<circle cx="995.3" cy="2273.7" r="5.8" fill="#9a5cb4" stroke="#6f2b9c" stroke-width="1.5"/>
<circle cx="995.3" cy="2277.4" r="5.8" fill="#9a5cb4" stroke="#6f2b9c" stroke-width="1.5"/>
<circle cx="995.3" cy="2297.1" r="5.8" fill="#9a5cb4" stroke="#6f2b9c" stroke-width="1.5"/>
<circle cx="1023.2" cy="2262.5" r="5.8" fill="#9a5cb4" stroke="#6f2b9c" stroke-width="1.5"/>
<circle cx="1023.2" cy="2284.9" r="5.8" fill="#9a5cb4" stroke="#6f2b9c" stroke-width="1.5"/>
<circle cx="1023.2" cy="2308.8" r="5.8" fill="#9a5cb4" stroke="#6f2b9c" stroke-width="1.5"/>
<circle cx="1051.2" cy="2276.7" r="5.8" fill="#9a5cb4" stroke="#6f2b9c" stroke-width="1.5"/>
<circle cx="1051.2" cy="2285.6" r="5.8" fill="#9a5cb4" stroke="#6f2b9c" stroke-width="1.5"/>
<circle cx="1079.1" cy="2247.5" r="5.8" fill="#9a5cb4" stroke="#6f2b9c" stroke-width="1.5"/>
<circle cx="1079.1" cy="2284.9" r="5.8" fill="#9a5cb4" stroke="#6f2b9c" stroke-width="1.5"/>
<circle cx="1079.1" cy="2287.4" r="5.8" fill="#9a5cb4" stroke="#6f2b9c" stroke-width="1.5"/>
<circle cx="1079.1" cy="2308.8" r="5.8" fill="#9a5cb4" stroke="#6f2b9c" stroke-width="1.5"/>
<circle cx="1108.0" cy="2247.5" r="5.8" fill="#9a5cb4" stroke="#6f2b9c" stroke-width="1.5"/>
<circle cx="1108.0" cy="2297.8" r="5.8" fill="#9a5cb4" stroke="#6f2b9c" stroke-width="1.5"/>
<circle cx="1135.9" cy="2210.9" r="5.8" fill="#9a5cb4" stroke="#6f2b9c" stroke-width="1.5"/>
<circle cx="1135.9" cy="2250.3" r="5.8" fill="#9a5cb4" stroke="#6f2b9c" stroke-width="1.5"/>
<circle cx="1135.9" cy="2264.0" r="5.8" fill="#9a5cb4" stroke="#6f2b9c" stroke-width="1.5"/>
<circle cx="1135.9" cy="2276.7" r="5.8" fill="#9a5cb4" stroke="#6f2b9c" stroke-width="1.5"/>
<circle cx="1163.8" cy="2198.2" r="5.8" fill="#9a5cb4" stroke="#6f2b9c" stroke-width="1.5"/>
<circle cx="1163.8" cy="2215.4" r="5.8" fill="#9a5cb4" stroke="#6f2b9c" stroke-width="1.5"/>
<circle cx="1163.8" cy="2233.9" r="5.8" fill="#9a5cb4" stroke="#6f2b9c" stroke-width="1.5"/>
<circle cx="1163.8" cy="2241.6" r="5.8" fill="#9a5cb4" stroke="#6f2b9c" stroke-width="1.5"/>
<circle cx="1191.7" cy="2059.8" r="5.8" fill="#9a5cb4" stroke="#6f2b9c" stroke-width="1.5"/>
<circle cx="1191.7" cy="2151.7" r="5.8" fill="#9a5cb4" stroke="#6f2b9c" stroke-width="1.5"/>
<circle cx="1219.7" cy="2059.8" r="5.8" fill="#9a5cb4" stroke="#6f2b9c" stroke-width="1.5"/>
<circle cx="1247.6" cy="2059.8" r="5.8" fill="#9a5cb4" stroke="#6f2b9c" stroke-width="1.5"/>
<text x="1066.2" y="1879.8" font-size="36" text-anchor="middle">Simultaneous treatment</text>
<path d="M821,1961 L860.7,1961" stroke="#7d2ca6" stroke-width="1.6"/>
<circle cx="840.9" cy="1961" r="5.8" fill="#9a5cb4" stroke="#6f2b9c" stroke-width="1.5"/>
<path d="M821,2013 L860.7,2013" stroke="#5262c0" stroke-width="1.6"/>
<circle cx="840.9" cy="2013" r="5.8" fill="#6e9fd6" stroke="#4c5bb6" stroke-width="1.5"/>
<text x="866.6" y="1971.5" font-size="36">nsp5</text>
<text x="942.1" y="1959.5" font-size="20">T169I</text>
<text x="991.0" y="1971.5" font-size="36">nsp12</text>
<text x="1086.4" y="1959.5" font-size="20">V792I</text>
<text x="868.5" y="2023.5" font-size="36">WT</text>
<text x="1158.2" y="1924.0" font-size="36">IC</text>
<text x="1196.5" y="1935.0" font-size="20">50</text>
<text x="1159.5" y="1971.5" font-size="36">15.29 µM</text>
<text x="1159.5" y="2023.5" font-size="36">6.68 µM</text>
<text x="904.3" y="2410.0" font-size="36" textLength="58.0" lengthAdjust="spacingAndGlyphs">Log</text>
<text x="963.2" y="2420.8" font-size="20" textLength="20.6" lengthAdjust="spacingAndGlyphs">10</text>
<text x="984.5" y="2410.0" font-size="36" textLength="246.9" lengthAdjust="spacingAndGlyphs">[Remdesivir] nM</text>
<g stroke="#2b2b2b" stroke-width="2" fill="none">
<path d="M1427.8,1938.0 L1427.8,2312.5 L1986.8,2312.5"/>
<path d="M1412.8,2312.5 L1427.8,2312.5"/>
<path d="M1412.8,2188.0 L1427.8,2188.0"/>
<path d="M1412.8,2063.5 L1427.8,2063.5"/>
<path d="M1412.8,1939.0 L1427.8,1939.0"/>
<path d="M1427.8,2312.5 L1427.8,2327.5"/>
<path d="M1613.8,2312.5 L1613.8,2327.5"/>
<path d="M1799.8,2312.5 L1799.8,2327.5"/>
<path d="M1985.8,2312.5 L1985.8,2327.5"/>
</g>
<text x="1398.3" y="2322.6" font-size="36" text-anchor="end">0</text>
<text x="1403.3" y="2198.1" font-size="36" text-anchor="end">50</text>
<text x="1406.8" y="2073.6" font-size="36" text-anchor="end">100</text>
<text x="1406.8" y="1949.1" font-size="36" text-anchor="end">150</text>
<text x="1428.8" y="2367.0" font-size="36" text-anchor="middle">0</text>
<text x="1614.8" y="2367.0" font-size="36" text-anchor="middle">2</text>
<text x="1800.8" y="2367.0" font-size="36" text-anchor="middle">4</text>
<text x="1986.8" y="2367.0" font-size="36" text-anchor="middle">6</text>
<polyline points="1427.8,2309.3 1428.7,2309.3 1429.7,2309.3 1430.6,2309.3 1431.5,2309.3 1432.5,2309.3 1433.4,2309.3 1434.3,2309.3 1435.3,2309.3 1436.2,2309.3 1437.1,2309.3 1438.1,2309.3 1439.0,2309.3 1439.9,2309.3 1440.8,2309.3 1441.8,2309.3 1442.7,2309.3 1443.6,2309.3 1444.6,2309.3 1445.5,2309.3 1446.4,2309.3 1447.4,2309.3 1448.3,2309.3 1449.2,2309.3 1450.2,2309.3 1451.1,2309.3 1452.0,2309.3 1453.0,2309.3 1453.9,2309.3 1454.8,2309.3 1455.8,2309.3 1456.7,2309.3 1457.6,2309.3 1458.6,2309.3 1459.5,2309.3 1460.4,2309.3 1461.3,2309.3 1462.3,2309.3 1463.2,2309.3 1464.1,2309.3 1465.1,2309.3 1466.0,2309.3 1466.9,2309.3 1467.9,2309.3 1468.8,2309.3 1469.7,2309.3 1470.7,2309.3 1471.6,2309.3 1472.5,2309.3 1473.5,2309.3 1474.4,2309.3 1475.3,2309.3 1476.3,2309.3 1477.2,2309.3 1478.1,2309.3 1479.1,2309.3 1480.0,2309.3 1480.9,2309.3 1481.8,2309.3 1482.8,2309.3 1483.7,2309.3 1484.6,2309.3 1485.6,2309.3 1486.5,2309.3 1487.4,2309.3 1488.4,2309.3 1489.3,2309.3 1490.2,2309.3 1491.2,2309.3 1492.1,2309.3 1493.0,2309.3 1494.0,2309.3 1494.9,2309.3 1495.8,2309.3 1496.8,2309.3 1497.7,2309.3 1498.6,2309.3 1499.6,2309.3 1500.5,2309.3 1501.4,2309.3 1502.3,2309.3 1503.3,2309.3 1504.2,2309.3 1505.1,2309.3 1506.1,2309.3 1507.0,2309.3 1507.9,2309.3 1508.9,2309.3 1509.8,2309.3 1510.7,2309.3 1511.7,2309.3 1512.6,2309.3 1513.5,2309.3 1514.5,2309.3 1515.4,2309.3 1516.3,2309.3 1517.3,2309.3 1518.2,2309.3 1519.1,2309.3 1520.1,2309.3 1521.0,2309.3 1521.9,2309.3 1522.9,2309.3 1523.8,2309.3 1524.7,2309.3 1525.6,2309.3 1526.6,2309.3 1527.5,2309.3 1528.4,2309.3 1529.4,2309.3 1530.3,2309.3 1531.2,2309.3 1532.2,2309.3 1533.1,2309.3 1534.0,2309.3 1535.0,2309.3 1535.9,2309.3 1536.8,2309.3 1537.8,2309.3 1538.7,2309.3 1539.6,2309.3 1540.6,2309.3 1541.5,2309.3 1542.4,2309.3 1543.4,2309.3 1544.3,2309.3 1545.2,2309.3 1546.1,2309.3 1547.1,2309.3 1548.0,2309.3 1548.9,2309.3 1549.9,2309.3 1550.8,2309.3 1551.7,2309.3 1552.7,2309.3 1553.6,2309.3 1554.5,2309.3 1555.5,2309.3 1556.4,2309.3 1557.3,2309.3 1558.3,2309.3 1559.2,2309.3 1560.1,2309.3 1561.1,2309.3 1562.0,2309.3 1562.9,2309.3 1563.9,2309.3 1564.8,2309.3 1565.7,2309.3 1566.6,2309.3 1567.6,2309.3 1568.5,2309.3 1569.4,2309.3 1570.4,2309.3 1571.3,2309.3 1572.2,2309.3 1573.2,2309.3 1574.1,2309.3 1575.0,2309.3 1576.0,2309.3 1576.9,2309.3 1577.8,2309.3 1578.8,2309.3 1579.7,2309.3 1580.6,2309.3 1581.6,2309.3 1582.5,2309.3 1583.4,2309.3 1584.4,2309.3 1585.3,2309.3 1586.2,2309.3 1587.1,2309.3 1588.1,2309.3 1589.0,2309.3 1589.9,2309.3 1590.9,2309.3 1591.8,2309.3 1592.7,2309.3 1593.7,2309.3 1594.6,2309.3 1595.5,2309.3 1596.5,2309.3 1597.4,2309.3 1598.3,2309.3 1599.3,2309.3 1600.2,2309.3 1601.1,2309.3 1602.1,2309.3 1603.0,2309.3 1603.9,2309.3 1604.9,2309.3 1605.8,2309.3 1606.7,2309.3 1607.6,2309.3 1608.6,2309.3 1609.5,2309.3 1610.4,2309.3 1611.4,2309.3 1612.3,2309.3 1613.2,2309.3 1614.2,2309.3 1615.1,2309.3 1616.0,2309.3 1617.0,2309.3 1617.9,2309.3 1618.8,2309.3 1619.8,2309.3 1620.7,2309.3 1621.6,2309.3 1622.6,2309.3 1623.5,2309.3 1624.4,2309.3 1625.4,2309.3 1626.3,2309.3 1627.2,2309.3 1628.2,2309.3 1629.1,2309.3 1630.0,2309.3 1630.9,2309.3 1631.9,2309.3 1632.8,2309.3 1633.7,2309.3 1634.7,2309.3 1635.6,2309.3 1636.5,2309.3 1637.5,2309.3 1638.4,2309.3 1639.3,2309.3 1640.3,2309.3 1641.2,2309.3 1642.1,2309.3 1643.1,2309.3 1644.0,2309.3 1644.9,2309.3 1645.9,2309.3 1646.8,2309.3 1647.7,2309.3 1648.7,2309.3 1649.6,2309.3 1650.5,2309.3 1651.4,2309.3 1652.4,2309.3 1653.3,2309.3 1654.2,2309.3 1655.2,2309.3 1656.1,2309.3 1657.0,2309.3 1658.0,2309.3 1658.9,2309.3 1659.8,2309.3 1660.8,2309.3 1661.7,2309.3 1662.6,2309.3 1663.6,2309.3 1664.5,2309.3 1665.4,2309.3 1666.4,2309.3 1667.3,2309.3 1668.2,2309.3 1669.2,2309.3 1670.1,2309.3 1671.0,2309.3 1671.9,2309.3 1672.9,2309.3 1673.8,2309.3 1674.7,2309.3 1675.7,2309.3 1676.6,2309.3 1677.5,2309.3 1678.5,2309.3 1679.4,2309.3 1680.3,2309.3 1681.3,2309.3 1682.2,2309.3 1683.1,2309.3 1684.1,2309.2 1685.0,2309.2 1685.9,2309.2 1686.9,2309.2 1687.8,2309.2 1688.7,2309.2 1689.7,2309.2 1690.6,2309.2 1691.5,2309.2 1692.4,2309.2 1693.4,2309.2 1694.3,2309.2 1695.2,2309.2 1696.2,2309.2 1697.1,2309.2 1698.0,2309.2 1699.0,2309.2 1699.9,2309.2 1700.8,2309.2 1701.8,2309.2 1702.7,2309.2 1703.6,2309.2 1704.6,2309.2 1705.5,2309.2 1706.4,2309.2 1707.4,2309.2 1708.3,2309.2 1709.2,2309.2 1710.2,2309.2 1711.1,2309.2 1712.0,2309.1 1713.0,2309.1 1713.9,2309.1 1714.8,2309.1 1715.7,2309.1 1716.7,2309.1 1717.6,2309.1 1718.5,2309.1 1719.5,2309.1 1720.4,2309.0 1721.3,2309.0 1722.3,2309.0 1723.2,2309.0 1724.1,2309.0 1725.1,2309.0 1726.0,2308.9 1726.9,2308.9 1727.9,2308.9 1728.8,2308.9 1729.7,2308.8 1730.7,2308.8 1731.6,2308.8 1732.5,2308.7 1733.5,2308.7 1734.4,2308.6 1735.3,2308.6 1736.2,2308.6 1737.2,2308.5 1738.1,2308.4 1739.0,2308.4 1740.0,2308.3 1740.9,2308.3 1741.8,2308.2 1742.8,2308.1 1743.7,2308.0 1744.6,2307.9 1745.6,2307.8 1746.5,2307.7 1747.4,2307.6 1748.4,2307.5 1749.3,2307.4 1750.2,2307.2 1751.2,2307.1 1752.1,2306.9 1753.0,2306.8 1754.0,2306.6 1754.9,2306.4 1755.8,2306.2 1756.7,2306.0 1757.7,2305.7 1758.6,2305.5 1759.5,2305.2 1760.5,2304.9 1761.4,2304.6 1762.3,2304.3 1763.3,2303.9 1764.2,2303.5 1765.1,2303.1 1766.1,2302.7 1767.0,2302.2 1767.9,2301.7 1768.9,2301.2 1769.8,2300.6 1770.7,2300.0 1771.7,2299.4 1772.6,2298.7 1773.5,2297.9 1774.5,2297.1 1775.4,2296.3 1776.3,2295.4 1777.2,2294.5 1778.2,2293.5 1779.1,2292.4 1780.0,2291.2 1781.0,2290.0 1781.9,2288.7 1782.8,2287.4 1783.8,2285.9 1784.7,2284.4 1785.6,2282.8 1786.6,2281.1 1787.5,2279.3 1788.4,2277.3 1789.4,2275.3 1790.3,2273.2 1791.2,2271.0 1792.2,2268.7 1793.1,2266.2 1794.0,2263.6 1795.0,2261.0 1795.9,2258.2 1796.8,2255.2 1797.7,2252.2 1798.7,2249.1 1799.6,2245.8 1800.5,2242.4 1801.5,2238.9 1802.4,2235.3 1803.3,2231.6 1804.3,2227.8 1805.2,2223.9 1806.1,2219.9 1807.1,2215.8 1808.0,2211.6 1808.9,2207.4 1809.9,2203.2 1810.8,2198.8 1811.7,2194.5 1812.7,2190.1 1813.6,2185.7 1814.5,2181.4 1815.5,2177.0 1816.4,2172.6 1817.3,2168.3 1818.3,2164.0 1819.2,2159.8 1820.1,2155.6 1821.0,2151.5 1822.0,2147.4 1822.9,2143.5 1823.8,2139.6 1824.8,2135.8 1825.7,2132.2 1826.6,2128.6 1827.6,2125.2 1828.5,2121.8 1829.4,2118.6 1830.4,2115.5 1831.3,2112.5 1832.2,2109.7 1833.2,2106.9 1834.1,2104.3 1835.0,2101.8 1836.0,2099.4 1836.9,2097.1 1837.8,2094.9 1838.8,2092.9 1839.7,2090.9 1840.6,2089.0 1841.5,2087.3 1842.5,2085.6 1843.4,2084.0 1844.3,2082.5 1845.3,2081.1 1846.2,2079.8 1847.1,2078.5 1848.1,2077.4 1849.0,2076.2 1849.9,2075.2 1850.9,2074.2 1851.8,2073.3 1852.7,2072.4 1853.7,2071.6 1854.6,2070.9 1855.5,2070.1 1856.5,2069.5 1857.4,2068.8 1858.3,2068.2 1859.3,2067.7 1860.2,2067.2 1861.1,2066.7 1862.0,2066.2 1863.0,2065.8 1863.9,2065.4 1864.8,2065.1 1865.8,2064.7 1866.7,2064.4 1867.6,2064.1 1868.6,2063.8 1869.5,2063.5 1870.4,2063.3 1871.4,2063.1 1872.3,2062.8 1873.2,2062.6 1874.2,2062.5 1875.1,2062.3 1876.0,2062.1 1877.0,2062.0 1877.9,2061.8 1878.8,2061.7 1879.8,2061.6 1880.7,2061.5 1881.6,2061.3 1882.5,2061.2 1883.5,2061.2 1884.4,2061.1 1885.3,2061.0 1886.3,2060.9 1887.2,2060.8 1888.1,2060.8 1889.1,2060.7 1890.0,2060.7 1890.9,2060.6 1891.9,2060.6 1892.8,2060.5" fill="none" stroke="#7d2ca6" stroke-width="1.45"/>
<polyline points="1427.8,2299.7 1428.7,2299.7 1429.7,2299.7 1430.6,2299.7 1431.5,2299.7 1432.5,2299.7 1433.4,2299.7 1434.3,2299.7 1435.3,2299.7 1436.2,2299.7 1437.1,2299.7 1438.1,2299.7 1439.0,2299.7 1439.9,2299.7 1440.8,2299.7 1441.8,2299.7 1442.7,2299.7 1443.6,2299.7 1444.6,2299.7 1445.5,2299.7 1446.4,2299.7 1447.4,2299.7 1448.3,2299.7 1449.2,2299.7 1450.2,2299.7 1451.1,2299.7 1452.0,2299.7 1453.0,2299.7 1453.9,2299.7 1454.8,2299.7 1455.8,2299.7 1456.7,2299.7 1457.6,2299.7 1458.6,2299.7 1459.5,2299.7 1460.4,2299.7 1461.3,2299.7 1462.3,2299.7 1463.2,2299.7 1464.1,2299.7 1465.1,2299.7 1466.0,2299.7 1466.9,2299.7 1467.9,2299.7 1468.8,2299.7 1469.7,2299.7 1470.7,2299.7 1471.6,2299.7 1472.5,2299.7 1473.5,2299.7 1474.4,2299.7 1475.3,2299.7 1476.3,2299.7 1477.2,2299.7 1478.1,2299.7 1479.1,2299.7 1480.0,2299.7 1480.9,2299.7 1481.8,2299.7 1482.8,2299.7 1483.7,2299.7 1484.6,2299.7 1485.6,2299.7 1486.5,2299.7 1487.4,2299.7 1488.4,2299.7 1489.3,2299.7 1490.2,2299.7 1491.2,2299.7 1492.1,2299.7 1493.0,2299.7 1494.0,2299.7 1494.9,2299.7 1495.8,2299.7 1496.8,2299.7 1497.7,2299.7 1498.6,2299.7 1499.6,2299.7 1500.5,2299.7 1501.4,2299.7 1502.3,2299.7 1503.3,2299.7 1504.2,2299.7 1505.1,2299.7 1506.1,2299.7 1507.0,2299.7 1507.9,2299.7 1508.9,2299.7 1509.8,2299.7 1510.7,2299.7 1511.7,2299.7 1512.6,2299.7 1513.5,2299.7 1514.5,2299.7 1515.4,2299.7 1516.3,2299.7 1517.3,2299.7 1518.2,2299.7 1519.1,2299.7 1520.1,2299.7 1521.0,2299.7 1521.9,2299.7 1522.9,2299.7 1523.8,2299.7 1524.7,2299.7 1525.6,2299.7 1526.6,2299.7 1527.5,2299.7 1528.4,2299.7 1529.4,2299.7 1530.3,2299.7 1531.2,2299.7 1532.2,2299.7 1533.1,2299.7 1534.0,2299.7 1535.0,2299.7 1535.9,2299.7 1536.8,2299.7 1537.8,2299.7 1538.7,2299.7 1539.6,2299.7 1540.6,2299.7 1541.5,2299.7 1542.4,2299.7 1543.4,2299.7 1544.3,2299.7 1545.2,2299.7 1546.1,2299.7 1547.1,2299.7 1548.0,2299.7 1548.9,2299.7 1549.9,2299.7 1550.8,2299.7 1551.7,2299.7 1552.7,2299.7 1553.6,2299.7 1554.5,2299.7 1555.5,2299.7 1556.4,2299.7 1557.3,2299.7 1558.3,2299.7 1559.2,2299.7 1560.1,2299.7 1561.1,2299.7 1562.0,2299.7 1562.9,2299.7 1563.9,2299.7 1564.8,2299.7 1565.7,2299.7 1566.6,2299.7 1567.6,2299.7 1568.5,2299.7 1569.4,2299.7 1570.4,2299.7 1571.3,2299.7 1572.2,2299.7 1573.2,2299.7 1574.1,2299.7 1575.0,2299.7 1576.0,2299.7 1576.9,2299.7 1577.8,2299.7 1578.8,2299.7 1579.7,2299.7 1580.6,2299.7 1581.6,2299.7 1582.5,2299.7 1583.4,2299.7 1584.4,2299.7 1585.3,2299.7 1586.2,2299.7 1587.1,2299.7 1588.1,2299.7 1589.0,2299.7 1589.9,2299.7 1590.9,2299.7 1591.8,2299.7 1592.7,2299.7 1593.7,2299.7 1594.6,2299.7 1595.5,2299.7 1596.5,2299.7 1597.4,2299.7 1598.3,2299.7 1599.3,2299.7 1600.2,2299.7 1601.1,2299.7 1602.1,2299.7 1603.0,2299.7 1603.9,2299.7 1604.9,2299.7 1605.8,2299.7 1606.7,2299.7 1607.6,2299.7 1608.6,2299.7 1609.5,2299.7 1610.4,2299.7 1611.4,2299.7 1612.3,2299.7 1613.2,2299.7 1614.2,2299.7 1615.1,2299.7 1616.0,2299.7 1617.0,2299.7 1617.9,2299.7 1618.8,2299.7 1619.8,2299.7 1620.7,2299.7 1621.6,2299.7 1622.6,2299.7 1623.5,2299.7 1624.4,2299.7 1625.4,2299.7 1626.3,2299.7 1627.2,2299.7 1628.2,2299.7 1629.1,2299.7 1630.0,2299.7 1630.9,2299.7 1631.9,2299.7 1632.8,2299.7 1633.7,2299.7 1634.7,2299.7 1635.6,2299.7 1636.5,2299.7 1637.5,2299.7 1638.4,2299.7 1639.3,2299.7 1640.3,2299.7 1641.2,2299.7 1642.1,2299.7 1643.1,2299.7 1644.0,2299.7 1644.9,2299.7 1645.9,2299.7 1646.8,2299.7 1647.7,2299.7 1648.7,2299.7 1649.6,2299.7 1650.5,2299.7 1651.4,2299.7 1652.4,2299.7 1653.3,2299.7 1654.2,2299.7 1655.2,2299.7 1656.1,2299.7 1657.0,2299.7 1658.0,2299.7 1658.9,2299.7 1659.8,2299.7 1660.8,2299.7 1661.7,2299.7 1662.6,2299.7 1663.6,2299.7 1664.5,2299.7 1665.4,2299.7 1666.4,2299.7 1667.3,2299.7 1668.2,2299.7 1669.2,2299.7 1670.1,2299.7 1671.0,2299.7 1671.9,2299.7 1672.9,2299.7 1673.8,2299.7 1674.7,2299.7 1675.7,2299.7 1676.6,2299.7 1677.5,2299.7 1678.5,2299.7 1679.4,2299.7 1680.3,2299.7 1681.3,2299.7 1682.2,2299.7 1683.1,2299.7 1684.1,2299.7 1685.0,2299.6 1685.9,2299.6 1686.9,2299.6 1687.8,2299.6 1688.7,2299.6 1689.7,2299.6 1690.6,2299.6 1691.5,2299.6 1692.4,2299.6 1693.4,2299.6 1694.3,2299.6 1695.2,2299.6 1696.2,2299.5 1697.1,2299.5 1698.0,2299.5 1699.0,2299.5 1699.9,2299.5 1700.8,2299.5 1701.8,2299.4 1702.7,2299.4 1703.6,2299.4 1704.6,2299.4 1705.5,2299.3 1706.4,2299.3 1707.4,2299.3 1708.3,2299.2 1709.2,2299.2 1710.2,2299.2 1711.1,2299.1 1712.0,2299.1 1713.0,2299.0 1713.9,2299.0 1714.8,2298.9 1715.7,2298.9 1716.7,2298.8 1717.6,2298.7 1718.5,2298.7 1719.5,2298.6 1720.4,2298.5 1721.3,2298.4 1722.3,2298.3 1723.2,2298.2 1724.1,2298.1 1725.1,2298.0 1726.0,2297.8 1726.9,2297.7 1727.9,2297.5 1728.8,2297.4 1729.7,2297.2 1730.7,2297.0 1731.6,2296.8 1732.5,2296.6 1733.5,2296.3 1734.4,2296.1 1735.3,2295.8 1736.2,2295.5 1737.2,2295.2 1738.1,2294.8 1739.0,2294.5 1740.0,2294.1 1740.9,2293.7 1741.8,2293.2 1742.8,2292.8 1743.7,2292.2 1744.6,2291.7 1745.6,2291.1 1746.5,2290.5 1747.4,2289.8 1748.4,2289.1 1749.3,2288.3 1750.2,2287.5 1751.2,2286.6 1752.1,2285.7 1753.0,2284.7 1754.0,2283.6 1754.9,2282.5 1755.8,2281.3 1756.7,2280.0 1757.7,2278.6 1758.6,2277.2 1759.5,2275.7 1760.5,2274.0 1761.4,2272.3 1762.3,2270.5 1763.3,2268.6 1764.2,2266.5 1765.1,2264.4 1766.1,2262.1 1767.0,2259.7 1767.9,2257.2 1768.9,2254.6 1769.8,2251.9 1770.7,2249.1 1771.7,2246.1 1772.6,2243.0 1773.5,2239.8 1774.5,2236.4 1775.4,2233.0 1776.3,2229.4 1777.2,2225.7 1778.2,2222.0 1779.1,2218.1 1780.0,2214.1 1781.0,2210.1 1781.9,2206.0 1782.8,2201.8 1783.8,2197.6 1784.7,2193.3 1785.6,2189.0 1786.6,2184.7 1787.5,2180.3 1788.4,2176.0 1789.4,2171.7 1790.3,2167.4 1791.2,2163.1 1792.2,2158.9 1793.1,2154.7 1794.0,2150.6 1795.0,2146.6 1795.9,2142.7 1796.8,2138.9 1797.7,2135.1 1798.7,2131.5 1799.6,2127.9 1800.5,2124.5 1801.5,2121.2 1802.4,2118.1 1803.3,2115.0 1804.3,2112.1 1805.2,2109.3 1806.1,2106.6 1807.1,2104.0 1808.0,2101.6 1808.9,2099.2 1809.9,2097.0 1810.8,2094.9 1811.7,2092.9 1812.7,2091.0 1813.6,2089.2 1814.5,2087.5 1815.5,2085.9 1816.4,2084.4 1817.3,2083.0 1818.3,2081.7 1819.2,2080.4 1820.1,2079.2 1821.0,2078.1 1822.0,2077.1 1822.9,2076.1 1823.8,2075.2 1824.8,2074.3 1825.7,2073.5 1826.6,2072.8 1827.6,2072.1 1828.5,2071.4 1829.4,2070.8 1830.4,2070.2 1831.3,2069.7 1832.2,2069.2 1833.2,2068.7 1834.1,2068.3 1835.0,2067.9 1836.0,2067.5 1836.9,2067.2 1837.8,2066.8 1838.8,2066.5 1839.7,2066.2 1840.6,2066.0 1841.5,2065.7 1842.5,2065.5 1843.4,2065.3 1844.3,2065.1 1845.3,2064.9 1846.2,2064.7 1847.1,2064.6 1848.1,2064.4 1849.0,2064.3 1849.9,2064.1 1850.9,2064.0 1851.8,2063.9 1852.7,2063.8 1853.7,2063.7 1854.6,2063.6 1855.5,2063.5 1856.5,2063.4 1857.4,2063.4 1858.3,2063.3 1859.3,2063.2 1860.2,2063.2 1861.1,2063.1 1862.0,2063.1 1863.0,2063.0 1863.9,2063.0 1864.8,2062.9 1865.8,2062.9 1866.7,2062.9 1867.6,2062.8 1868.6,2062.8 1869.5,2062.8 1870.4,2062.8 1871.4,2062.7 1872.3,2062.7 1873.2,2062.7 1874.2,2062.7 1875.1,2062.6 1876.0,2062.6 1877.0,2062.6 1877.9,2062.6 1878.8,2062.6 1879.8,2062.6 1880.7,2062.6 1881.6,2062.5 1882.5,2062.5 1883.5,2062.5 1884.4,2062.5 1885.3,2062.5 1886.3,2062.5 1887.2,2062.5 1888.1,2062.5 1889.1,2062.5 1890.0,2062.5 1890.9,2062.5 1891.9,2062.5 1892.8,2062.5" fill="none" stroke="#5262c0" stroke-width="1.45"/>
<circle cx="1612.9" cy="2282.1" r="5.8" fill="#6e9fd6" stroke="#4c5bb6" stroke-width="1.5"/>
<circle cx="1612.9" cy="2287.6" r="5.8" fill="#6e9fd6" stroke="#4c5bb6" stroke-width="1.5"/>
<circle cx="1612.9" cy="2312.5" r="5.8" fill="#6e9fd6" stroke="#4c5bb6" stroke-width="1.5"/>
<circle cx="1640.8" cy="2271.4" r="5.8" fill="#6e9fd6" stroke="#4c5bb6" stroke-width="1.5"/>
<circle cx="1668.7" cy="2271.4" r="5.8" fill="#6e9fd6" stroke="#4c5bb6" stroke-width="1.5"/>
<circle cx="1668.7" cy="2299.8" r="5.8" fill="#6e9fd6" stroke="#4c5bb6" stroke-width="1.5"/>
<circle cx="1668.7" cy="2302.3" r="5.8" fill="#6e9fd6" stroke="#4c5bb6" stroke-width="1.5"/>
<circle cx="1696.6" cy="2271.4" r="5.8" fill="#6e9fd6" stroke="#4c5bb6" stroke-width="1.5"/>
<circle cx="1696.6" cy="2280.9" r="5.8" fill="#6e9fd6" stroke="#4c5bb6" stroke-width="1.5"/>
<circle cx="1696.6" cy="2302.3" r="5.8" fill="#6e9fd6" stroke="#4c5bb6" stroke-width="1.5"/>
<circle cx="1724.5" cy="2261.2" r="5.8" fill="#6e9fd6" stroke="#4c5bb6" stroke-width="1.5"/>
<circle cx="1724.5" cy="2287.8" r="5.8" fill="#6e9fd6" stroke="#4c5bb6" stroke-width="1.5"/>
<circle cx="1724.5" cy="2291.6" r="5.8" fill="#6e9fd6" stroke="#4c5bb6" stroke-width="1.5"/>
<circle cx="1753.3" cy="2270.2" r="5.8" fill="#6e9fd6" stroke="#4c5bb6" stroke-width="1.5"/>
<circle cx="1753.3" cy="2282.1" r="5.8" fill="#6e9fd6" stroke="#4c5bb6" stroke-width="1.5"/>
<circle cx="1781.2" cy="2179.0" r="5.8" fill="#6e9fd6" stroke="#4c5bb6" stroke-width="1.5"/>
<circle cx="1781.2" cy="2202.4" r="5.8" fill="#6e9fd6" stroke="#4c5bb6" stroke-width="1.5"/>
<circle cx="1781.2" cy="2227.6" r="5.8" fill="#6e9fd6" stroke="#4c5bb6" stroke-width="1.5"/>
<circle cx="1781.2" cy="2237.8" r="5.8" fill="#6e9fd6" stroke="#4c5bb6" stroke-width="1.5"/>
<circle cx="1809.1" cy="2063.5" r="5.8" fill="#6e9fd6" stroke="#4c5bb6" stroke-width="1.5"/>
<circle cx="1809.1" cy="2151.9" r="5.8" fill="#6e9fd6" stroke="#4c5bb6" stroke-width="1.5"/>
<circle cx="1427.8" cy="2312.5" r="5.8" fill="#9a5cb4" stroke="#6f2b9c" stroke-width="1.5"/>
<circle cx="1612.9" cy="2291.6" r="5.8" fill="#9a5cb4" stroke="#6f2b9c" stroke-width="1.5"/>
<circle cx="1612.9" cy="2301.8" r="5.8" fill="#9a5cb4" stroke="#6f2b9c" stroke-width="1.5"/>
<circle cx="1640.8" cy="2302.3" r="5.8" fill="#9a5cb4" stroke="#6f2b9c" stroke-width="1.5"/>
<circle cx="1640.8" cy="2312.5" r="5.8" fill="#9a5cb4" stroke="#6f2b9c" stroke-width="1.5"/>
<circle cx="1668.7" cy="2280.9" r="5.8" fill="#9a5cb4" stroke="#6f2b9c" stroke-width="1.5"/>
<circle cx="1668.7" cy="2312.5" r="5.8" fill="#9a5cb4" stroke="#6f2b9c" stroke-width="1.5"/>
<circle cx="1696.6" cy="2290.3" r="5.8" fill="#9a5cb4" stroke="#6f2b9c" stroke-width="1.5"/>
<circle cx="1696.6" cy="2312.5" r="5.8" fill="#9a5cb4" stroke="#6f2b9c" stroke-width="1.5"/>
<circle cx="1724.5" cy="2280.9" r="5.8" fill="#9a5cb4" stroke="#6f2b9c" stroke-width="1.5"/>
<circle cx="1724.5" cy="2301.8" r="5.8" fill="#9a5cb4" stroke="#6f2b9c" stroke-width="1.5"/>
<circle cx="1753.3" cy="2290.8" r="5.8" fill="#9a5cb4" stroke="#6f2b9c" stroke-width="1.5"/>
<circle cx="1753.3" cy="2300.8" r="5.8" fill="#9a5cb4" stroke="#6f2b9c" stroke-width="1.5"/>
<circle cx="1753.3" cy="2302.3" r="5.8" fill="#9a5cb4" stroke="#6f2b9c" stroke-width="1.5"/>
<circle cx="1781.2" cy="2259.5" r="5.8" fill="#9a5cb4" stroke="#6f2b9c" stroke-width="1.5"/>
<circle cx="1781.2" cy="2279.4" r="5.8" fill="#9a5cb4" stroke="#6f2b9c" stroke-width="1.5"/>
<circle cx="1781.2" cy="2289.3" r="5.8" fill="#9a5cb4" stroke="#6f2b9c" stroke-width="1.5"/>
<circle cx="1809.1" cy="2173.6" r="5.8" fill="#9a5cb4" stroke="#6f2b9c" stroke-width="1.5"/>
<circle cx="1809.1" cy="2211.7" r="5.8" fill="#9a5cb4" stroke="#6f2b9c" stroke-width="1.5"/>
<circle cx="1809.1" cy="2234.3" r="5.8" fill="#9a5cb4" stroke="#6f2b9c" stroke-width="1.5"/>
<circle cx="1809.1" cy="2254.2" r="5.8" fill="#9a5cb4" stroke="#6f2b9c" stroke-width="1.5"/>
<circle cx="1837.0" cy="2063.5" r="5.8" fill="#9a5cb4" stroke="#6f2b9c" stroke-width="1.5"/>
<circle cx="1837.0" cy="2178.0" r="5.8" fill="#9a5cb4" stroke="#6f2b9c" stroke-width="1.5"/>
<circle cx="1864.9" cy="2063.5" r="5.8" fill="#9a5cb4" stroke="#6f2b9c" stroke-width="1.5"/>
<circle cx="1892.8" cy="2063.5" r="5.8" fill="#9a5cb4" stroke="#6f2b9c" stroke-width="1.5"/>
<text x="1716.4" y="1879.4" font-size="36" text-anchor="middle">Post-treatment</text>
<path d="M1466.6,1965 L1506.2,1965" stroke="#7d2ca6" stroke-width="1.6"/>
<circle cx="1486" cy="1965" r="5.8" fill="#9a5cb4" stroke="#6f2b9c" stroke-width="1.5"/>
<path d="M1466.6,2017 L1506.2,2017" stroke="#5262c0" stroke-width="1.6"/>
<circle cx="1486" cy="2017" r="5.8" fill="#6e9fd6" stroke="#4c5bb6" stroke-width="1.5"/>
<text x="1528.9" y="1971.0" font-size="36">nsp5</text>
<text x="1604.4" y="1959.0" font-size="20">T169I</text>
<text x="1653.3" y="1971.0" font-size="36">nsp12</text>
<text x="1748.7" y="1959.0" font-size="20">V792I</text>
<text x="1531.5" y="2028.5" font-size="36">WT</text>
<text x="1814.4" y="1924.0" font-size="36">IC</text>
<text x="1852.7" y="1935.0" font-size="20">50</text>
<text x="1815.7" y="1971.0" font-size="36">14.5 µM</text>
<text x="1815.7" y="2021.0" font-size="36">7.56 µM</text>
<text x="1555.2" y="2412.0" font-size="36" textLength="58.0" lengthAdjust="spacingAndGlyphs">Log</text>
<text x="1614.1" y="2422.8" font-size="20" textLength="20.6" lengthAdjust="spacingAndGlyphs">10</text>
<text x="1635.4" y="2412.0" font-size="36" textLength="247.0" lengthAdjust="spacingAndGlyphs">[Remdesivir] nM</text>
</g>
</svg></body></html>
